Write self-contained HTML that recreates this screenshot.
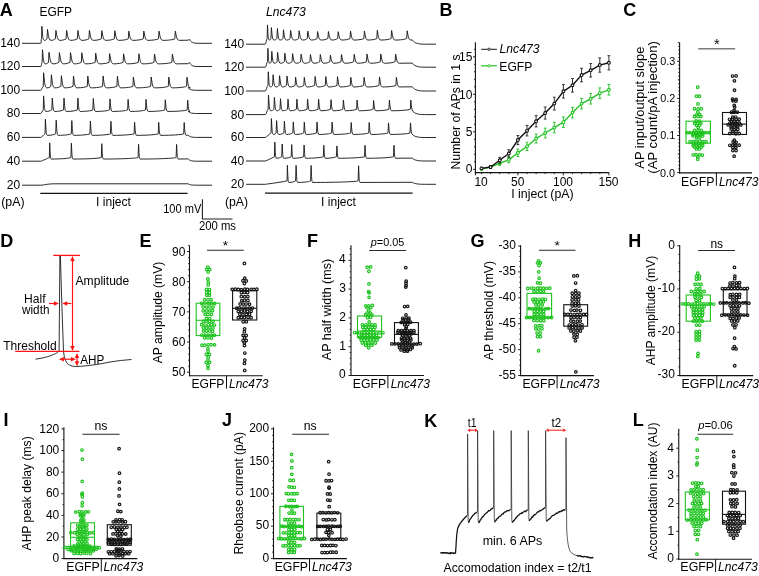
<!DOCTYPE html>
<html><head><meta charset="utf-8"><title>Figure</title><style>
html,body{margin:0;padding:0;background:#fff;width:759px;height:576px;overflow:hidden;}
svg{display:block;font-family:"Liberation Sans", sans-serif;will-change:transform;}
</style></head><body>
<svg width="759" height="576" viewBox="0 0 759 576">
<rect width="759" height="576" fill="#fff"/>
<text x="-0.30" y="15.70" font-size="18" font-weight="bold">A</text>
<text x="439.60" y="15.70" font-size="18" font-weight="bold">B</text>
<text x="623.20" y="15.80" font-size="18" font-weight="bold">C</text>
<text x="0.20" y="246.50" font-size="18" font-weight="bold">D</text>
<text x="139.40" y="246.70" font-size="18" font-weight="bold">E</text>
<text x="307.10" y="247.10" font-size="18" font-weight="bold">F</text>
<text x="470.60" y="247.10" font-size="18" font-weight="bold">G</text>
<text x="628.30" y="247.10" font-size="18" font-weight="bold">H</text>
<text x="3.60" y="426.00" font-size="18" font-weight="bold">I</text>
<text x="221.90" y="426.00" font-size="18" font-weight="bold">J</text>
<text x="424.30" y="426.60" font-size="18" font-weight="bold">K</text>
<text x="632.70" y="426.30" font-size="18" font-weight="bold">L</text>
<path d="M22.00,43.30 L40.80,43.30 C41.60,43.30 40.70,39.20 41.55,38.80 L41.90,26.30 L42.49,33.95 C42.84,38.12 43.31,40.35 44.25,40.35 C45.49,40.35 46.54,39.70 47.00,38.80 L47.50,29.40 L48.38,35.34 C48.91,38.58 49.62,40.35 51.03,40.35 C53.00,40.35 54.37,39.70 55.40,38.80 L55.90,30.40 L56.90,35.79 C57.50,38.73 58.30,40.35 59.90,40.35 C62.69,40.35 64.43,39.70 66.10,38.80 L66.60,30.40 L67.60,35.79 C68.20,38.73 69.00,40.35 70.60,40.35 C73.66,40.35 75.70,39.70 77.40,38.80 L77.90,30.40 L78.90,35.79 C79.50,38.73 80.30,40.35 81.90,40.35 C85.05,40.35 87.20,39.70 88.90,38.80 L89.40,30.40 L90.40,35.79 C91.00,38.73 91.80,40.35 93.40,40.35 C96.95,40.35 99.60,39.70 101.30,38.80 L101.80,30.70 L102.80,35.93 C103.40,38.78 104.20,40.35 105.80,40.35 C109.62,40.35 112.60,39.70 114.30,38.80 L114.80,30.70 L115.80,35.93 C116.40,38.78 117.20,40.35 118.80,40.35 C123.08,40.35 126.60,39.70 128.30,38.80 L128.80,31.10 L129.80,36.11 C130.40,38.84 131.20,40.35 132.80,40.35 C137.53,40.35 141.60,39.70 143.30,38.80 L143.80,31.10 L144.80,36.11 C145.40,38.84 146.20,40.35 147.80,40.35 C152.62,40.35 156.80,39.70 158.50,38.80 L159.00,31.10 L160.00,36.11 C160.60,38.84 161.40,40.35 163.00,40.35 C168.31,40.35 173.10,39.70 174.80,38.80 L175.30,31.10 L176.30,36.11 C176.90,38.84 177.70,40.35 179.30,40.35 L188.20,40.20 Q189.00,39.20 189.80,39.60 C190.76,41.91 192.60,43.30 197.80,43.30 L212.00,43.30" stroke="#1c1c1c" stroke-width="0.95" fill="none"/>
<text x="0.15" y="47.20" font-size="12">140</text>
<path d="M22.00,66.50 L40.80,66.50 C41.60,66.50 41.30,62.70 42.15,62.30 L42.50,49.70 L43.18,57.40 C43.59,61.60 44.14,63.85 45.23,63.85 C46.70,63.85 47.86,63.20 48.50,62.30 L49.00,52.30 L50.00,58.57 C50.60,61.99 51.40,63.85 53.00,63.85 C55.66,63.85 57.34,63.20 58.90,62.30 L59.40,52.60 L60.40,58.71 C61.00,62.04 61.80,63.85 63.40,63.85 C66.37,63.85 68.30,63.20 70.00,62.30 L70.50,52.60 L71.50,58.71 C72.10,62.04 72.90,63.85 74.50,63.85 C77.56,63.85 79.60,63.20 81.30,62.30 L81.80,52.80 L82.80,58.80 C83.40,62.06 84.20,63.85 85.80,63.85 C90.03,63.85 93.50,63.20 95.20,62.30 L95.70,53.20 L96.70,58.98 C97.30,62.12 98.10,63.85 99.70,63.85 C103.93,63.85 107.40,63.20 109.10,62.30 L109.60,53.60 L110.60,59.16 C111.20,62.19 112.00,63.85 113.60,63.85 C117.88,63.85 121.40,63.20 123.10,62.30 L123.60,53.80 L124.60,59.25 C125.20,62.22 126.00,63.85 127.60,63.85 C132.46,63.85 136.70,63.20 138.40,62.30 L138.90,53.80 L139.90,59.25 C140.50,62.22 141.30,63.85 142.90,63.85 C147.90,63.85 152.30,63.20 154.00,62.30 L154.50,54.00 L155.50,59.34 C156.10,62.25 156.90,63.85 158.50,63.85 C164.53,63.85 170.20,63.20 171.90,62.30 L172.40,54.10 L173.40,59.38 C174.00,62.26 174.80,63.85 176.40,63.85 L188.20,63.70 Q189.00,62.10 189.80,62.74 C190.76,65.24 192.60,66.50 197.80,66.50 L212.00,66.50" stroke="#1c1c1c" stroke-width="0.95" fill="none"/>
<text x="0.15" y="70.40" font-size="12">120</text>
<path d="M22.00,90.30 L40.80,90.30 C41.60,90.30 42.40,86.70 43.25,86.30 L43.60,72.70 L44.42,80.95 C44.91,85.45 45.57,87.85 46.88,87.85 C48.69,87.85 49.99,87.20 50.90,86.30 L51.40,74.70 L52.25,81.85 C52.76,85.75 53.44,87.85 54.80,87.85 C57.54,87.85 59.27,87.20 60.90,86.30 L61.40,75.70 L62.25,82.30 C62.76,85.90 63.44,87.85 64.80,87.85 C68.49,87.85 71.30,87.20 73.00,86.30 L73.50,76.00 L74.35,82.44 C74.86,85.95 75.54,87.85 76.90,87.85 C81.58,87.85 85.60,87.20 87.30,86.30 L87.80,76.00 L88.65,82.44 C89.16,85.95 89.84,87.85 91.20,87.85 C96.33,87.85 100.90,87.20 102.60,86.30 L103.10,76.00 L103.95,82.44 C104.46,85.95 105.14,87.85 106.50,87.85 C111.18,87.85 115.20,87.20 116.90,86.30 L117.40,76.30 L118.25,82.57 C118.76,85.99 119.44,87.85 120.80,87.85 C126.25,87.85 131.20,87.20 132.90,86.30 L133.40,77.00 L134.25,82.89 C134.76,86.09 135.44,87.85 136.80,87.85 C143.06,87.85 149.00,87.20 150.70,86.30 L151.20,77.00 L152.05,82.89 C152.56,86.09 153.24,87.85 154.60,87.85 C160.77,87.85 166.60,87.20 168.30,86.30 L168.80,77.00 L169.65,82.89 C170.16,86.09 170.84,87.85 172.20,87.85 C178.64,87.85 184.80,87.20 186.50,86.30 L187.00,77.20 L187.85,82.98 C188.36,86.12 189.04,87.85 190.40,87.85 L188.20,87.70 C189.16,89.13 191.00,90.30 196.20,90.30 L212.00,90.30" stroke="#1c1c1c" stroke-width="0.95" fill="none"/>
<text x="0.15" y="94.20" font-size="12">100</text>
<path d="M22.00,113.50 L40.80,113.50 C41.60,113.50 42.40,110.30 43.25,109.90 L43.60,95.90 L44.18,104.37 C44.52,108.99 44.98,111.45 45.90,111.45 C48.55,111.45 50.23,110.80 51.80,109.90 L52.30,98.10 L52.88,105.36 C53.22,109.32 53.68,111.45 54.60,111.45 C58.60,111.45 61.80,110.80 63.50,109.90 L64.00,98.10 L64.58,105.36 C64.92,109.32 65.38,111.45 66.30,111.45 C71.30,111.45 75.70,110.80 77.40,109.90 L77.90,98.10 L78.48,105.36 C78.82,109.32 79.28,111.45 80.20,111.45 C85.87,111.45 91.10,110.80 92.80,109.90 L93.30,98.50 L93.88,105.54 C94.22,109.38 94.68,111.45 95.60,111.45 C101.85,111.45 107.80,110.80 109.50,109.90 L110.00,98.90 L110.58,105.72 C110.92,109.44 111.38,111.45 112.30,111.45 C119.19,111.45 125.90,110.80 127.60,109.90 L128.10,99.40 L128.67,105.95 C129.02,109.52 129.48,111.45 130.40,111.45 C137.19,111.45 143.80,110.80 145.50,109.90 L146.00,99.40 L146.57,105.95 C146.92,109.52 147.38,111.45 148.30,111.45 C155.73,111.45 163.10,110.80 164.80,109.90 L165.30,99.80 L165.88,106.12 C166.22,109.58 166.68,111.45 167.60,111.45 C176.42,111.45 185.50,110.80 187.20,109.90 L187.70,100.20 L188.27,106.31 C188.62,109.63 189.08,111.45 190.00,111.45 L188.20,111.30 C189.16,112.51 191.00,113.50 196.20,113.50 L212.00,113.50" stroke="#1c1c1c" stroke-width="0.95" fill="none"/>
<text x="6.82" y="117.40" font-size="12">80</text>
<path d="M22.00,137.40 L40.80,137.40 C41.60,137.40 44.20,134.20 45.05,133.80 L45.40,119.30 L45.90,128.04 C46.20,132.81 46.60,135.35 47.40,135.35 C51.13,135.35 54.00,134.70 55.70,133.80 L56.20,120.20 L56.70,128.45 C57.00,132.95 57.40,135.35 58.20,135.35 C64.09,135.35 69.60,134.70 71.30,133.80 L71.80,120.60 L72.30,128.63 C72.60,133.01 73.00,135.35 73.80,135.35 C81.05,135.35 88.20,134.70 89.90,133.80 L90.40,121.00 L90.90,128.81 C91.20,133.07 91.60,135.35 92.40,135.35 C100.50,135.35 108.70,134.70 110.40,133.80 L110.90,121.30 L111.40,128.94 C111.70,133.11 112.10,135.35 112.90,135.35 C122.44,135.35 132.40,134.70 134.10,133.80 L134.60,122.30 L135.10,129.39 C135.40,133.26 135.80,135.35 136.60,135.35 C146.32,135.35 156.50,134.70 158.20,133.80 L158.70,122.30 L159.20,129.39 C159.50,133.26 159.90,135.35 160.70,135.35 C171.05,135.35 182.00,134.70 183.70,133.80 L184.20,122.50 L184.70,129.48 C185.00,133.29 185.40,135.35 186.20,135.35 L188.20,135.20 C189.16,136.41 191.00,137.40 196.20,137.40 L212.00,137.40" stroke="#1c1c1c" stroke-width="0.95" fill="none"/>
<text x="6.82" y="141.30" font-size="12">60</text>
<path d="M22.00,161.20 L40.80,161.20 C41.60,161.20 48.50,157.90 49.35,157.50 L49.70,142.80 L50.10,151.66 C50.34,156.49 50.66,159.05 51.30,159.05 C60.12,159.05 69.20,158.40 70.90,157.50 L71.40,143.10 L71.80,151.79 C72.04,156.53 72.36,159.05 73.00,159.05 C85.73,159.05 99.60,158.40 101.30,157.50 L101.80,143.70 L102.20,152.06 C102.44,156.62 102.76,159.05 103.40,159.05 C119.01,159.05 136.40,158.40 138.10,157.50 L138.60,144.40 L139.00,152.38 C139.24,156.72 139.56,159.05 140.20,159.05 C156.35,159.05 174.40,158.40 176.10,157.50 L176.60,144.40 L177.00,152.38 C177.24,156.72 177.56,159.05 178.20,159.05 L188.20,158.90 C189.16,160.16 191.00,161.20 196.20,161.20 L212.00,161.20" stroke="#1c1c1c" stroke-width="0.95" fill="none"/>
<text x="6.82" y="165.10" font-size="12">40</text>
<path d="M22.00,185.20 L40.80,185.20 C43.80,185.20 46.80,183.80 54.80,183.80 L188.20,183.80 C189.16,184.57 191.00,185.20 196.20,185.20 L212.00,185.20" stroke="#1c1c1c" stroke-width="0.95" fill="none"/>
<text x="6.82" y="189.10" font-size="12">20</text>
<path d="M246.00,44.20 L265.30,44.20 C266.10,44.20 266.30,38.90 267.15,38.50 L267.50,24.90 L267.91,33.15 C268.16,37.65 268.48,40.05 269.14,40.05 C269.93,40.05 270.78,39.40 270.90,38.50 L271.40,27.60 L272.03,34.37 C272.41,38.05 272.91,40.05 273.92,40.05 C275.26,40.05 276.36,39.40 276.90,38.50 L277.40,28.50 L278.04,34.77 C278.42,38.19 278.94,40.05 279.96,40.05 C281.33,40.05 282.44,39.40 283.00,38.50 L283.50,29.80 L284.25,35.36 C284.69,38.38 285.29,40.05 286.48,40.05 C288.11,40.05 289.33,39.40 290.10,38.50 L290.60,30.40 L291.49,35.62 C292.03,38.47 292.74,40.05 294.17,40.05 C296.16,40.05 297.55,39.40 298.60,38.50 L299.10,30.70 L300.00,35.76 C300.54,38.52 301.26,40.05 302.70,40.05 C304.77,40.05 306.19,39.40 307.30,38.50 L307.80,31.10 L308.70,35.94 C309.24,38.58 309.96,40.05 311.40,40.05 C313.97,40.05 315.61,39.40 317.10,38.50 L317.60,31.50 L318.50,36.12 C319.04,38.64 319.76,40.05 321.20,40.05 C324.22,40.05 326.20,39.40 327.90,38.50 L328.40,31.50 L329.30,36.12 C329.84,38.64 330.56,40.05 332.00,40.05 C334.56,40.05 336.20,39.40 337.70,38.50 L338.20,31.70 L339.10,36.21 C339.64,38.67 340.36,40.05 341.80,40.05 C345.49,40.05 348.30,39.40 350.00,38.50 L350.50,31.00 L351.40,35.89 C351.94,38.56 352.66,40.05 354.10,40.05 C358.51,40.05 362.20,39.40 363.90,38.50 L364.40,31.00 L365.30,35.89 C365.84,38.56 366.56,40.05 368.00,40.05 C371.96,40.05 375.10,39.40 376.80,38.50 L377.30,30.30 L378.20,35.58 C378.74,38.46 379.46,40.05 380.90,40.05 C385.49,40.05 389.40,39.40 391.10,38.50 L391.60,30.50 L392.50,35.67 C393.04,38.49 393.76,40.05 395.20,40.05 C400.38,40.05 405.00,39.40 406.70,38.50 L407.20,30.80 L408.10,35.80 C408.64,38.53 409.36,40.05 410.80,40.05 L412.30,39.90 C413.74,42.27 416.50,44.20 424.30,44.20 L436.00,44.20" stroke="#1c1c1c" stroke-width="0.95" fill="none"/>
<text x="224.15" y="48.10" font-size="12">140</text>
<path d="M246.00,67.20 L265.30,67.20 C266.10,67.20 266.70,62.10 267.55,61.70 L267.90,48.40 L268.31,56.48 C268.56,60.90 268.88,63.25 269.54,63.25 C270.33,63.25 271.18,62.60 271.30,61.70 L271.80,51.30 L272.41,57.79 C272.77,61.33 273.26,63.25 274.24,63.25 C275.52,63.25 276.60,62.60 277.10,61.70 L277.60,52.30 L278.36,58.24 C278.81,61.48 279.41,63.25 280.62,63.25 C282.28,63.25 283.51,62.60 284.30,61.70 L284.80,53.20 L285.62,58.65 C286.11,61.62 286.77,63.25 288.08,63.25 C289.89,63.25 291.19,62.60 292.10,61.70 L292.60,53.60 L293.49,58.83 C294.03,61.67 294.74,63.25 296.17,63.25 C298.16,63.25 299.55,62.60 300.60,61.70 L301.10,54.10 L302.00,59.05 C302.54,61.75 303.26,63.25 304.70,63.25 C307.04,63.25 308.58,62.60 309.90,61.70 L310.40,54.50 L311.30,59.23 C311.84,61.81 312.56,63.25 314.00,63.25 C316.61,63.25 318.27,62.60 319.80,61.70 L320.30,54.50 L321.20,59.23 C321.74,61.81 322.46,63.25 323.90,63.25 C326.60,63.25 328.30,62.60 329.90,61.70 L330.40,55.20 L331.30,59.55 C331.84,61.91 332.56,63.25 334.00,63.25 C337.15,63.25 339.30,62.60 341.00,61.70 L341.50,54.50 L342.40,59.23 C342.94,61.81 343.66,63.25 345.10,63.25 C348.97,63.25 352.00,62.60 353.70,61.70 L354.20,54.30 L355.10,59.14 C355.64,61.78 356.36,63.25 357.80,63.25 C361.72,63.25 364.80,62.60 366.50,61.70 L367.00,54.00 L367.90,59.01 C368.44,61.73 369.16,63.25 370.60,63.25 C374.97,63.25 378.60,62.60 380.30,61.70 L380.80,54.00 L381.70,59.01 C382.24,61.73 382.96,63.25 384.40,63.25 C389.22,63.25 393.40,62.60 395.10,61.70 L395.60,54.00 L396.50,59.01 C397.04,61.73 397.76,63.25 399.20,63.25 L412.30,63.10 C413.74,65.36 416.50,67.20 424.30,67.20 L436.00,67.20" stroke="#1c1c1c" stroke-width="0.95" fill="none"/>
<text x="224.15" y="71.10" font-size="12">120</text>
<path d="M246.00,91.00 L265.30,91.00 C266.10,91.00 267.10,85.80 267.95,85.40 L268.30,71.80 L268.80,80.05 C269.11,84.55 269.51,86.95 270.32,86.95 C271.34,86.95 272.30,86.30 272.60,85.40 L273.10,74.70 L273.78,81.36 C274.19,84.98 274.74,86.95 275.83,86.95 C277.30,86.95 278.46,86.30 279.10,85.40 L279.60,75.70 L280.35,81.81 C280.80,85.13 281.40,86.95 282.60,86.95 C284.36,86.95 285.63,86.30 286.50,85.40 L287.00,76.00 L287.75,81.94 C288.20,85.18 288.80,86.95 290.00,86.95 C292.30,86.95 293.81,86.30 295.10,85.40 L295.60,77.30 L296.35,82.52 C296.80,85.38 297.40,86.95 298.60,86.95 C300.94,86.95 302.48,86.30 303.80,85.40 L304.30,77.30 L305.05,82.52 C305.50,85.38 306.10,86.95 307.30,86.95 C310.59,86.95 312.90,86.30 314.60,85.40 L315.10,76.50 L315.85,82.16 C316.30,85.25 316.90,86.95 318.10,86.95 C321.34,86.95 323.60,86.30 325.30,85.40 L325.80,76.60 L326.55,82.21 C327.00,85.27 327.60,86.95 328.80,86.95 C332.49,86.95 335.30,86.30 337.00,85.40 L337.50,76.60 L338.25,82.21 C338.70,85.27 339.30,86.95 340.50,86.95 C344.91,86.95 348.60,86.30 350.30,85.40 L350.80,77.30 L351.55,82.52 C352.00,85.38 352.60,86.95 353.80,86.95 C358.21,86.95 361.90,86.30 363.60,85.40 L364.10,77.30 L364.85,82.52 C365.30,85.38 365.90,86.95 367.10,86.95 C372.46,86.95 377.30,86.30 379.00,85.40 L379.50,76.90 L380.25,82.34 C380.70,85.31 381.30,86.95 382.50,86.95 C388.53,86.95 394.20,86.30 395.90,85.40 L396.40,77.30 L397.15,82.52 C397.60,85.38 398.20,86.95 399.40,86.95 L412.30,86.80 C413.74,89.11 416.50,91.00 424.30,91.00 L436.00,91.00" stroke="#1c1c1c" stroke-width="0.95" fill="none"/>
<text x="224.15" y="94.90" font-size="12">100</text>
<path d="M246.00,114.60 L265.30,114.60 C266.10,114.60 267.30,109.60 268.15,109.20 L268.50,95.20 L269.07,103.67 C269.42,108.29 269.88,110.75 270.80,110.75 C272.19,110.75 273.31,110.10 273.90,109.20 L274.40,97.40 L274.97,104.66 C275.32,108.62 275.78,110.75 276.70,110.75 C278.19,110.75 279.34,110.10 280.00,109.20 L280.50,98.70 L281.07,105.25 C281.42,108.81 281.88,110.75 282.80,110.75 C284.92,110.75 286.36,110.10 287.50,109.20 L288.00,99.10 L288.57,105.42 C288.92,108.88 289.38,110.75 290.30,110.75 C293.05,110.75 294.76,110.10 296.40,109.20 L296.90,99.10 L297.47,105.42 C297.82,108.88 298.28,110.75 299.20,110.75 C302.75,110.75 305.40,110.10 307.10,109.20 L307.60,99.10 L308.18,105.42 C308.52,108.88 308.98,110.75 309.90,110.75 C313.59,110.75 316.40,110.10 318.10,109.20 L318.60,99.10 L319.18,105.42 C319.52,108.88 319.98,110.75 320.90,110.75 C325.22,110.75 328.80,110.10 330.50,109.20 L331.00,99.70 L331.57,105.69 C331.92,108.96 332.38,110.75 333.30,110.75 C337.62,110.75 341.20,110.10 342.90,109.20 L343.40,100.00 L343.97,105.83 C344.32,109.01 344.78,110.75 345.70,110.75 C350.61,110.75 354.90,110.10 356.60,109.20 L357.10,100.10 L357.68,105.88 C358.02,109.02 358.48,110.75 359.40,110.75 C365.57,110.75 371.40,110.10 373.10,109.20 L373.60,100.50 L374.18,106.05 C374.52,109.08 374.98,110.75 375.90,110.75 C381.75,110.75 387.20,110.10 388.90,109.20 L389.40,100.10 L389.97,105.88 C390.32,109.02 390.78,110.75 391.70,110.75 C400.07,110.75 408.60,110.10 410.30,109.20 L410.80,100.10 L411.38,105.88 C411.72,109.02 412.18,110.75 413.10,110.75 L412.30,110.60 C413.74,112.80 416.50,114.60 424.30,114.60 L436.00,114.60" stroke="#1c1c1c" stroke-width="0.95" fill="none"/>
<text x="230.82" y="118.50" font-size="12">80</text>
<path d="M246.00,137.50 L265.30,137.50 C266.10,137.50 270.20,133.30 271.05,132.90 L271.40,118.60 L271.90,127.23 C272.20,131.95 272.60,134.45 273.40,134.45 C274.62,134.45 275.66,133.80 276.10,132.90 L276.60,120.60 L277.10,128.13 C277.40,132.25 277.80,134.45 278.60,134.45 C280.99,134.45 282.55,133.80 283.90,132.90 L284.40,121.20 L284.90,128.41 C285.20,132.34 285.60,134.45 286.40,134.45 C289.28,134.45 291.10,133.80 292.80,132.90 L293.30,121.90 L293.80,128.72 C294.10,132.44 294.50,134.45 295.30,134.45 C299.12,134.45 302.10,133.80 303.80,132.90 L304.30,122.10 L304.80,128.81 C305.10,132.47 305.50,134.45 306.30,134.45 C310.89,134.45 314.80,133.80 316.50,132.90 L317.00,122.10 L317.50,128.81 C317.80,132.47 318.20,134.45 319.00,134.45 C324.67,134.45 329.90,133.80 331.60,132.90 L332.10,122.10 L332.60,128.81 C332.90,132.47 333.30,134.45 334.10,134.45 C341.57,134.45 349.00,133.80 350.70,132.90 L351.20,122.50 L351.70,128.99 C352.00,132.53 352.40,134.45 353.20,134.45 C360.18,134.45 367.00,133.80 368.70,132.90 L369.20,122.50 L369.70,128.99 C370.00,132.53 370.40,134.45 371.20,134.45 C378.76,134.45 386.30,133.80 388.00,132.90 L388.50,122.90 L389.00,129.17 C389.30,132.59 389.70,134.45 390.50,134.45 C399.27,134.45 408.30,133.80 410.00,132.90 L410.50,122.90 L411.00,129.17 C411.30,132.59 411.70,134.45 412.50,134.45 L412.30,134.30 C413.74,136.06 416.50,137.50 424.30,137.50 L436.00,137.50" stroke="#1c1c1c" stroke-width="0.95" fill="none"/>
<text x="230.82" y="141.40" font-size="12">60</text>
<path d="M246.00,161.00 L265.30,161.00 C266.10,161.00 273.60,157.10 274.45,156.70 L274.80,142.00 L275.20,150.85 C275.44,155.69 275.76,158.25 276.40,158.25 C278.79,158.25 280.35,157.60 281.70,156.70 L282.20,144.00 L282.60,151.75 C282.84,155.98 283.16,158.25 283.80,158.25 C287.13,158.25 289.50,157.60 291.20,156.70 L291.70,144.60 L292.10,152.03 C292.34,156.07 292.66,158.25 293.30,158.25 C297.94,158.25 301.90,157.60 303.60,156.70 L304.10,145.00 L304.50,152.20 C304.74,156.13 305.06,158.25 305.70,158.25 C313.62,158.25 321.60,157.60 323.30,156.70 L323.80,145.30 L324.20,152.34 C324.44,156.18 324.76,158.25 325.40,158.25 C330.35,158.25 334.70,157.60 336.40,156.70 L336.90,145.90 L337.30,152.61 C337.54,156.27 337.86,158.25 338.50,158.25 C350.20,158.25 362.80,157.60 364.50,156.70 L365.00,145.30 L365.40,152.34 C365.64,156.18 365.96,158.25 366.60,158.25 C378.71,158.25 391.80,157.60 393.50,156.70 L394.00,145.30 L394.40,152.34 C394.64,156.18 394.96,158.25 395.60,158.25 L412.30,158.10 C413.74,159.69 416.50,161.00 424.30,161.00 L436.00,161.00" stroke="#1c1c1c" stroke-width="0.95" fill="none"/>
<text x="230.82" y="164.90" font-size="12">40</text>
<path d="M246.00,184.30 L265.30,184.30 C266.10,184.30 286.20,181.30 287.05,180.90 L287.40,165.30 L287.77,174.65 C288.00,179.75 288.30,182.45 288.90,182.45 C291.92,182.45 293.90,181.80 295.60,180.90 L296.10,165.30 L296.48,174.65 C296.70,179.75 297.00,182.45 297.60,182.45 C303.45,182.45 308.90,181.80 310.60,180.90 L311.10,165.50 L311.48,174.74 C311.70,179.78 312.00,182.45 312.60,182.45 C333.08,182.45 356.40,181.80 358.10,180.90 L358.60,165.80 L358.98,174.88 C359.20,179.83 359.50,182.45 360.10,182.45 L412.30,182.30 C413.74,183.40 416.50,184.30 424.30,184.30 L436.00,184.30" stroke="#1c1c1c" stroke-width="0.95" fill="none"/>
<text x="230.82" y="188.20" font-size="12">20</text>
<text x="39.53" y="15.60" font-size="12" textLength="32.59" lengthAdjust="spacingAndGlyphs">EGFP</text>
<text x="266.02" y="15.80" font-size="12" font-style="italic" textLength="39.77" lengthAdjust="spacingAndGlyphs">Lnc473</text>
<text x="1.23" y="206.40" font-size="12" textLength="23.34" lengthAdjust="spacingAndGlyphs">(pA)</text>
<text x="224.93" y="206.40" font-size="12" textLength="23.12" lengthAdjust="spacingAndGlyphs">(pA)</text>
<line x1="40.30" y1="193.30" x2="187.50" y2="193.30" stroke="#111" stroke-width="1.3"/>
<line x1="265.00" y1="193.10" x2="412.60" y2="193.10" stroke="#111" stroke-width="1.3"/>
<text x="96.09" y="206.20" font-size="12" textLength="34.89" lengthAdjust="spacingAndGlyphs">I inject</text>
<text x="321.09" y="206.20" font-size="12" textLength="34.89" lengthAdjust="spacingAndGlyphs">I inject</text>
<path d="M202.4,199.2 L202.4,219.0 L232.5,219.0" stroke="#222" stroke-width="1.1" fill="none"/>
<text x="163.15" y="212.80" font-size="12" textLength="38.21" lengthAdjust="spacingAndGlyphs">100 mV</text>
<text x="198.93" y="229.80" font-size="12" textLength="37.07" lengthAdjust="spacingAndGlyphs">200 ms</text>
<line x1="475.40" y1="42.30" x2="475.40" y2="175.20" stroke="#111" stroke-width="1.1"/>
<line x1="474.90" y1="172.60" x2="609.10" y2="172.60" stroke="#111" stroke-width="1.1"/>
<line x1="473.00" y1="169.30" x2="475.40" y2="169.30" stroke="#111" stroke-width="0.9"/>
<line x1="474.00" y1="161.80" x2="475.40" y2="161.80" stroke="#111" stroke-width="0.9"/>
<line x1="474.00" y1="154.30" x2="475.40" y2="154.30" stroke="#111" stroke-width="0.9"/>
<line x1="474.00" y1="146.80" x2="475.40" y2="146.80" stroke="#111" stroke-width="0.9"/>
<line x1="474.00" y1="139.30" x2="475.40" y2="139.30" stroke="#111" stroke-width="0.9"/>
<line x1="473.00" y1="131.80" x2="475.40" y2="131.80" stroke="#111" stroke-width="0.9"/>
<line x1="474.00" y1="124.30" x2="475.40" y2="124.30" stroke="#111" stroke-width="0.9"/>
<line x1="474.00" y1="116.80" x2="475.40" y2="116.80" stroke="#111" stroke-width="0.9"/>
<line x1="474.00" y1="109.30" x2="475.40" y2="109.30" stroke="#111" stroke-width="0.9"/>
<line x1="474.00" y1="101.80" x2="475.40" y2="101.80" stroke="#111" stroke-width="0.9"/>
<line x1="473.00" y1="94.30" x2="475.40" y2="94.30" stroke="#111" stroke-width="0.9"/>
<line x1="474.00" y1="86.80" x2="475.40" y2="86.80" stroke="#111" stroke-width="0.9"/>
<line x1="474.00" y1="79.30" x2="475.40" y2="79.30" stroke="#111" stroke-width="0.9"/>
<line x1="474.00" y1="71.80" x2="475.40" y2="71.80" stroke="#111" stroke-width="0.9"/>
<line x1="474.00" y1="64.30" x2="475.40" y2="64.30" stroke="#111" stroke-width="0.9"/>
<line x1="473.00" y1="56.80" x2="475.40" y2="56.80" stroke="#111" stroke-width="0.9"/>
<line x1="474.00" y1="49.30" x2="475.40" y2="49.30" stroke="#111" stroke-width="0.9"/>
<line x1="481.50" y1="172.60" x2="481.50" y2="174.10" stroke="#111" stroke-width="0.9"/>
<line x1="490.60" y1="172.60" x2="490.60" y2="174.10" stroke="#111" stroke-width="0.9"/>
<line x1="499.70" y1="172.60" x2="499.70" y2="174.10" stroke="#111" stroke-width="0.9"/>
<line x1="508.80" y1="172.60" x2="508.80" y2="174.10" stroke="#111" stroke-width="0.9"/>
<line x1="517.90" y1="172.60" x2="517.90" y2="175.40" stroke="#111" stroke-width="0.9"/>
<line x1="527.00" y1="172.60" x2="527.00" y2="174.10" stroke="#111" stroke-width="0.9"/>
<line x1="536.10" y1="172.60" x2="536.10" y2="174.10" stroke="#111" stroke-width="0.9"/>
<line x1="545.20" y1="172.60" x2="545.20" y2="174.10" stroke="#111" stroke-width="0.9"/>
<line x1="554.30" y1="172.60" x2="554.30" y2="174.10" stroke="#111" stroke-width="0.9"/>
<line x1="563.40" y1="172.60" x2="563.40" y2="175.40" stroke="#111" stroke-width="0.9"/>
<line x1="572.50" y1="172.60" x2="572.50" y2="174.10" stroke="#111" stroke-width="0.9"/>
<line x1="581.60" y1="172.60" x2="581.60" y2="174.10" stroke="#111" stroke-width="0.9"/>
<line x1="590.70" y1="172.60" x2="590.70" y2="174.10" stroke="#111" stroke-width="0.9"/>
<line x1="599.80" y1="172.60" x2="599.80" y2="174.10" stroke="#111" stroke-width="0.9"/>
<line x1="608.90" y1="172.60" x2="608.90" y2="175.40" stroke="#111" stroke-width="0.9"/>
<text x="465.70" y="172.60" font-size="12">0</text>
<text x="465.72" y="136.00" font-size="12">5</text>
<text x="459.02" y="98.50" font-size="12">10</text>
<text x="459.05" y="60.80" font-size="12">15</text>
<text x="474.40" y="186.10" font-size="12">10</text>
<text x="511.02" y="186.10" font-size="12">50</text>
<text x="552.96" y="186.10" font-size="12">100</text>
<text x="598.46" y="186.10" font-size="12">150</text>
<text x="511.27" y="197.80" font-size="12" textLength="62.39" lengthAdjust="spacingAndGlyphs">I inject (pA)</text>
<text x="460.00" y="169.49" font-size="12" transform="rotate(-90 460.00 169.49)" textLength="115.02" lengthAdjust="spacingAndGlyphs">Number of APs in 1 s</text>
<line x1="481.50" y1="168.18" x2="481.50" y2="169.68" stroke="#2ec42e" stroke-width="1.0"/>
<line x1="480.10" y1="168.18" x2="482.90" y2="168.18" stroke="#2ec42e" stroke-width="1.0"/>
<line x1="480.10" y1="169.68" x2="482.90" y2="169.68" stroke="#2ec42e" stroke-width="1.0"/>
<line x1="490.60" y1="165.93" x2="490.60" y2="168.18" stroke="#2ec42e" stroke-width="1.0"/>
<line x1="489.20" y1="165.93" x2="492.00" y2="165.93" stroke="#2ec42e" stroke-width="1.0"/>
<line x1="489.20" y1="168.18" x2="492.00" y2="168.18" stroke="#2ec42e" stroke-width="1.0"/>
<line x1="499.70" y1="161.05" x2="499.70" y2="165.55" stroke="#2ec42e" stroke-width="1.0"/>
<line x1="498.30" y1="161.05" x2="501.10" y2="161.05" stroke="#2ec42e" stroke-width="1.0"/>
<line x1="498.30" y1="165.55" x2="501.10" y2="165.55" stroke="#2ec42e" stroke-width="1.0"/>
<line x1="508.80" y1="156.78" x2="508.80" y2="162.78" stroke="#2ec42e" stroke-width="1.0"/>
<line x1="507.40" y1="156.78" x2="510.20" y2="156.78" stroke="#2ec42e" stroke-width="1.0"/>
<line x1="507.40" y1="162.78" x2="510.20" y2="162.78" stroke="#2ec42e" stroke-width="1.0"/>
<line x1="517.90" y1="149.05" x2="517.90" y2="156.55" stroke="#2ec42e" stroke-width="1.0"/>
<line x1="516.50" y1="149.05" x2="519.30" y2="149.05" stroke="#2ec42e" stroke-width="1.0"/>
<line x1="516.50" y1="156.55" x2="519.30" y2="156.55" stroke="#2ec42e" stroke-width="1.0"/>
<line x1="527.00" y1="142.30" x2="527.00" y2="150.55" stroke="#2ec42e" stroke-width="1.0"/>
<line x1="525.60" y1="142.30" x2="528.40" y2="142.30" stroke="#2ec42e" stroke-width="1.0"/>
<line x1="525.60" y1="150.55" x2="528.40" y2="150.55" stroke="#2ec42e" stroke-width="1.0"/>
<line x1="536.10" y1="134.05" x2="536.10" y2="143.05" stroke="#2ec42e" stroke-width="1.0"/>
<line x1="534.70" y1="134.05" x2="537.50" y2="134.05" stroke="#2ec42e" stroke-width="1.0"/>
<line x1="534.70" y1="143.05" x2="537.50" y2="143.05" stroke="#2ec42e" stroke-width="1.0"/>
<line x1="545.20" y1="128.12" x2="545.20" y2="137.88" stroke="#2ec42e" stroke-width="1.0"/>
<line x1="543.80" y1="128.12" x2="546.60" y2="128.12" stroke="#2ec42e" stroke-width="1.0"/>
<line x1="543.80" y1="137.88" x2="546.60" y2="137.88" stroke="#2ec42e" stroke-width="1.0"/>
<line x1="554.30" y1="122.28" x2="554.30" y2="132.78" stroke="#2ec42e" stroke-width="1.0"/>
<line x1="552.90" y1="122.28" x2="555.70" y2="122.28" stroke="#2ec42e" stroke-width="1.0"/>
<line x1="552.90" y1="132.78" x2="555.70" y2="132.78" stroke="#2ec42e" stroke-width="1.0"/>
<line x1="563.40" y1="116.95" x2="563.40" y2="127.45" stroke="#2ec42e" stroke-width="1.0"/>
<line x1="562.00" y1="116.95" x2="564.80" y2="116.95" stroke="#2ec42e" stroke-width="1.0"/>
<line x1="562.00" y1="127.45" x2="564.80" y2="127.45" stroke="#2ec42e" stroke-width="1.0"/>
<line x1="572.50" y1="107.35" x2="572.50" y2="117.85" stroke="#2ec42e" stroke-width="1.0"/>
<line x1="571.10" y1="107.35" x2="573.90" y2="107.35" stroke="#2ec42e" stroke-width="1.0"/>
<line x1="571.10" y1="117.85" x2="573.90" y2="117.85" stroke="#2ec42e" stroke-width="1.0"/>
<line x1="581.60" y1="98.35" x2="581.60" y2="108.85" stroke="#2ec42e" stroke-width="1.0"/>
<line x1="580.20" y1="98.35" x2="583.00" y2="98.35" stroke="#2ec42e" stroke-width="1.0"/>
<line x1="580.20" y1="108.85" x2="583.00" y2="108.85" stroke="#2ec42e" stroke-width="1.0"/>
<line x1="590.70" y1="93.55" x2="590.70" y2="104.05" stroke="#2ec42e" stroke-width="1.0"/>
<line x1="589.30" y1="93.55" x2="592.10" y2="93.55" stroke="#2ec42e" stroke-width="1.0"/>
<line x1="589.30" y1="104.05" x2="592.10" y2="104.05" stroke="#2ec42e" stroke-width="1.0"/>
<line x1="599.80" y1="87.93" x2="599.80" y2="98.43" stroke="#2ec42e" stroke-width="1.0"/>
<line x1="598.40" y1="87.93" x2="601.20" y2="87.93" stroke="#2ec42e" stroke-width="1.0"/>
<line x1="598.40" y1="98.43" x2="601.20" y2="98.43" stroke="#2ec42e" stroke-width="1.0"/>
<line x1="608.90" y1="84.55" x2="608.90" y2="95.05" stroke="#2ec42e" stroke-width="1.0"/>
<line x1="607.50" y1="84.55" x2="610.30" y2="84.55" stroke="#2ec42e" stroke-width="1.0"/>
<line x1="607.50" y1="95.05" x2="610.30" y2="95.05" stroke="#2ec42e" stroke-width="1.0"/>
<path d="M481.50,168.93 L490.60,167.05 L499.70,163.30 L508.80,159.78 L517.90,152.80 L527.00,146.43 L536.10,138.55 L545.20,133.00 L554.30,127.53 L563.40,122.20 L572.50,112.60 L581.60,103.60 L590.70,98.80 L599.80,93.18 L608.90,89.80" stroke="#25c225" stroke-width="1.4" fill="none"/>
<circle cx="481.50" cy="168.93" r="1.4" stroke="#25c225" stroke-width="1.1" fill="#fff"/>
<circle cx="490.60" cy="167.05" r="1.4" stroke="#25c225" stroke-width="1.1" fill="#fff"/>
<circle cx="499.70" cy="163.30" r="1.4" stroke="#25c225" stroke-width="1.1" fill="#fff"/>
<circle cx="508.80" cy="159.78" r="1.4" stroke="#25c225" stroke-width="1.1" fill="#fff"/>
<circle cx="517.90" cy="152.80" r="1.4" stroke="#25c225" stroke-width="1.1" fill="#fff"/>
<circle cx="527.00" cy="146.43" r="1.4" stroke="#25c225" stroke-width="1.1" fill="#fff"/>
<circle cx="536.10" cy="138.55" r="1.4" stroke="#25c225" stroke-width="1.1" fill="#fff"/>
<circle cx="545.20" cy="133.00" r="1.4" stroke="#25c225" stroke-width="1.1" fill="#fff"/>
<circle cx="554.30" cy="127.53" r="1.4" stroke="#25c225" stroke-width="1.1" fill="#fff"/>
<circle cx="563.40" cy="122.20" r="1.4" stroke="#25c225" stroke-width="1.1" fill="#fff"/>
<circle cx="572.50" cy="112.60" r="1.4" stroke="#25c225" stroke-width="1.1" fill="#fff"/>
<circle cx="581.60" cy="103.60" r="1.4" stroke="#25c225" stroke-width="1.1" fill="#fff"/>
<circle cx="590.70" cy="98.80" r="1.4" stroke="#25c225" stroke-width="1.1" fill="#fff"/>
<circle cx="599.80" cy="93.18" r="1.4" stroke="#25c225" stroke-width="1.1" fill="#fff"/>
<circle cx="608.90" cy="89.80" r="1.4" stroke="#25c225" stroke-width="1.1" fill="#fff"/>
<line x1="481.50" y1="167.20" x2="481.50" y2="169.45" stroke="#333" stroke-width="1.0"/>
<line x1="480.10" y1="167.20" x2="482.90" y2="167.20" stroke="#333" stroke-width="1.0"/>
<line x1="480.10" y1="169.45" x2="482.90" y2="169.45" stroke="#333" stroke-width="1.0"/>
<line x1="490.60" y1="165.55" x2="490.60" y2="168.55" stroke="#333" stroke-width="1.0"/>
<line x1="489.20" y1="165.55" x2="492.00" y2="165.55" stroke="#333" stroke-width="1.0"/>
<line x1="489.20" y1="168.55" x2="492.00" y2="168.55" stroke="#333" stroke-width="1.0"/>
<line x1="499.70" y1="157.30" x2="499.70" y2="163.30" stroke="#333" stroke-width="1.0"/>
<line x1="498.30" y1="157.30" x2="501.10" y2="157.30" stroke="#333" stroke-width="1.0"/>
<line x1="498.30" y1="163.30" x2="501.10" y2="163.30" stroke="#333" stroke-width="1.0"/>
<line x1="508.80" y1="149.80" x2="508.80" y2="157.30" stroke="#333" stroke-width="1.0"/>
<line x1="507.40" y1="149.80" x2="510.20" y2="149.80" stroke="#333" stroke-width="1.0"/>
<line x1="507.40" y1="157.30" x2="510.20" y2="157.30" stroke="#333" stroke-width="1.0"/>
<line x1="517.90" y1="135.55" x2="517.90" y2="144.55" stroke="#333" stroke-width="1.0"/>
<line x1="516.50" y1="135.55" x2="519.30" y2="135.55" stroke="#333" stroke-width="1.0"/>
<line x1="516.50" y1="144.55" x2="519.30" y2="144.55" stroke="#333" stroke-width="1.0"/>
<line x1="527.00" y1="125.43" x2="527.00" y2="135.93" stroke="#333" stroke-width="1.0"/>
<line x1="525.60" y1="125.43" x2="528.40" y2="125.43" stroke="#333" stroke-width="1.0"/>
<line x1="525.60" y1="135.93" x2="528.40" y2="135.93" stroke="#333" stroke-width="1.0"/>
<line x1="536.10" y1="115.68" x2="536.10" y2="126.93" stroke="#333" stroke-width="1.0"/>
<line x1="534.70" y1="115.68" x2="537.50" y2="115.68" stroke="#333" stroke-width="1.0"/>
<line x1="534.70" y1="126.93" x2="537.50" y2="126.93" stroke="#333" stroke-width="1.0"/>
<line x1="545.20" y1="107.05" x2="545.20" y2="119.05" stroke="#333" stroke-width="1.0"/>
<line x1="543.80" y1="107.05" x2="546.60" y2="107.05" stroke="#333" stroke-width="1.0"/>
<line x1="543.80" y1="119.05" x2="546.60" y2="119.05" stroke="#333" stroke-width="1.0"/>
<line x1="554.30" y1="97.23" x2="554.30" y2="109.98" stroke="#333" stroke-width="1.0"/>
<line x1="552.90" y1="97.23" x2="555.70" y2="97.23" stroke="#333" stroke-width="1.0"/>
<line x1="552.90" y1="109.98" x2="555.70" y2="109.98" stroke="#333" stroke-width="1.0"/>
<line x1="563.40" y1="84.55" x2="563.40" y2="98.05" stroke="#333" stroke-width="1.0"/>
<line x1="562.00" y1="84.55" x2="564.80" y2="84.55" stroke="#333" stroke-width="1.0"/>
<line x1="562.00" y1="98.05" x2="564.80" y2="98.05" stroke="#333" stroke-width="1.0"/>
<line x1="572.50" y1="78.55" x2="572.50" y2="92.05" stroke="#333" stroke-width="1.0"/>
<line x1="571.10" y1="78.55" x2="573.90" y2="78.55" stroke="#333" stroke-width="1.0"/>
<line x1="571.10" y1="92.05" x2="573.90" y2="92.05" stroke="#333" stroke-width="1.0"/>
<line x1="581.60" y1="68.28" x2="581.60" y2="81.78" stroke="#333" stroke-width="1.0"/>
<line x1="580.20" y1="68.28" x2="583.00" y2="68.28" stroke="#333" stroke-width="1.0"/>
<line x1="580.20" y1="81.78" x2="583.00" y2="81.78" stroke="#333" stroke-width="1.0"/>
<line x1="590.70" y1="63.55" x2="590.70" y2="77.05" stroke="#333" stroke-width="1.0"/>
<line x1="589.30" y1="63.55" x2="592.10" y2="63.55" stroke="#333" stroke-width="1.0"/>
<line x1="589.30" y1="77.05" x2="592.10" y2="77.05" stroke="#333" stroke-width="1.0"/>
<line x1="599.80" y1="57.93" x2="599.80" y2="72.18" stroke="#333" stroke-width="1.0"/>
<line x1="598.40" y1="57.93" x2="601.20" y2="57.93" stroke="#333" stroke-width="1.0"/>
<line x1="598.40" y1="72.18" x2="601.20" y2="72.18" stroke="#333" stroke-width="1.0"/>
<line x1="608.90" y1="55.68" x2="608.90" y2="69.93" stroke="#333" stroke-width="1.0"/>
<line x1="607.50" y1="55.68" x2="610.30" y2="55.68" stroke="#333" stroke-width="1.0"/>
<line x1="607.50" y1="69.93" x2="610.30" y2="69.93" stroke="#333" stroke-width="1.0"/>
<path d="M481.50,168.33 L490.60,167.05 L499.70,160.30 L508.80,153.55 L517.90,140.05 L527.00,130.68 L536.10,121.30 L545.20,113.05 L554.30,103.60 L563.40,91.30 L572.50,85.30 L581.60,75.03 L590.70,70.30 L599.80,65.05 L608.90,62.80" stroke="#111" stroke-width="1.4" fill="none"/>
<circle cx="481.50" cy="168.33" r="1.4" stroke="#111" stroke-width="1.1" fill="#fff"/>
<circle cx="490.60" cy="167.05" r="1.4" stroke="#111" stroke-width="1.1" fill="#fff"/>
<circle cx="499.70" cy="160.30" r="1.4" stroke="#111" stroke-width="1.1" fill="#fff"/>
<circle cx="508.80" cy="153.55" r="1.4" stroke="#111" stroke-width="1.1" fill="#fff"/>
<circle cx="517.90" cy="140.05" r="1.4" stroke="#111" stroke-width="1.1" fill="#fff"/>
<circle cx="527.00" cy="130.68" r="1.4" stroke="#111" stroke-width="1.1" fill="#fff"/>
<circle cx="536.10" cy="121.30" r="1.4" stroke="#111" stroke-width="1.1" fill="#fff"/>
<circle cx="545.20" cy="113.05" r="1.4" stroke="#111" stroke-width="1.1" fill="#fff"/>
<circle cx="554.30" cy="103.60" r="1.4" stroke="#111" stroke-width="1.1" fill="#fff"/>
<circle cx="563.40" cy="91.30" r="1.4" stroke="#111" stroke-width="1.1" fill="#fff"/>
<circle cx="572.50" cy="85.30" r="1.4" stroke="#111" stroke-width="1.1" fill="#fff"/>
<circle cx="581.60" cy="75.03" r="1.4" stroke="#111" stroke-width="1.1" fill="#fff"/>
<circle cx="590.70" cy="70.30" r="1.4" stroke="#111" stroke-width="1.1" fill="#fff"/>
<circle cx="599.80" cy="65.05" r="1.4" stroke="#111" stroke-width="1.1" fill="#fff"/>
<circle cx="608.90" cy="62.80" r="1.4" stroke="#111" stroke-width="1.1" fill="#fff"/>
<line x1="481.20" y1="49.30" x2="496.90" y2="49.30" stroke="#151515" stroke-width="1.0"/>
<circle cx="489.10" cy="49.30" r="1.2" stroke="#151515" stroke-width="0.9" fill="#fff"/>
<line x1="481.20" y1="65.80" x2="496.90" y2="65.80" stroke="#25c225" stroke-width="1.2"/>
<circle cx="489.10" cy="65.80" r="1.2" stroke="#25c225" stroke-width="0.9" fill="#fff"/>
<text x="499.62" y="52.70" font-size="12" font-style="italic" textLength="39.77" lengthAdjust="spacingAndGlyphs">Lnc473</text>
<text x="499.31" y="70.60" font-size="12" textLength="33.01" lengthAdjust="spacingAndGlyphs">EGFP</text>
<line x1="679.60" y1="42.50" x2="679.60" y2="173.40" stroke="#111" stroke-width="1.1"/>
<line x1="679.10" y1="172.90" x2="752.00" y2="172.90" stroke="#111" stroke-width="1.1"/>
<line x1="677.10" y1="172.60" x2="679.60" y2="172.60" stroke="#111" stroke-width="0.9"/>
<line x1="678.30" y1="168.89" x2="679.60" y2="168.89" stroke="#111" stroke-width="0.9"/>
<line x1="678.30" y1="165.18" x2="679.60" y2="165.18" stroke="#111" stroke-width="0.9"/>
<line x1="678.30" y1="161.47" x2="679.60" y2="161.47" stroke="#111" stroke-width="0.9"/>
<line x1="678.30" y1="157.76" x2="679.60" y2="157.76" stroke="#111" stroke-width="0.9"/>
<line x1="677.70" y1="154.05" x2="679.60" y2="154.05" stroke="#111" stroke-width="0.9"/>
<line x1="678.30" y1="150.34" x2="679.60" y2="150.34" stroke="#111" stroke-width="0.9"/>
<line x1="678.30" y1="146.63" x2="679.60" y2="146.63" stroke="#111" stroke-width="0.9"/>
<line x1="678.30" y1="142.92" x2="679.60" y2="142.92" stroke="#111" stroke-width="0.9"/>
<line x1="678.30" y1="139.21" x2="679.60" y2="139.21" stroke="#111" stroke-width="0.9"/>
<line x1="677.10" y1="135.50" x2="679.60" y2="135.50" stroke="#111" stroke-width="0.9"/>
<line x1="678.30" y1="131.79" x2="679.60" y2="131.79" stroke="#111" stroke-width="0.9"/>
<line x1="678.30" y1="128.08" x2="679.60" y2="128.08" stroke="#111" stroke-width="0.9"/>
<line x1="678.30" y1="124.37" x2="679.60" y2="124.37" stroke="#111" stroke-width="0.9"/>
<line x1="678.30" y1="120.66" x2="679.60" y2="120.66" stroke="#111" stroke-width="0.9"/>
<line x1="677.70" y1="116.95" x2="679.60" y2="116.95" stroke="#111" stroke-width="0.9"/>
<line x1="678.30" y1="113.24" x2="679.60" y2="113.24" stroke="#111" stroke-width="0.9"/>
<line x1="678.30" y1="109.53" x2="679.60" y2="109.53" stroke="#111" stroke-width="0.9"/>
<line x1="678.30" y1="105.82" x2="679.60" y2="105.82" stroke="#111" stroke-width="0.9"/>
<line x1="678.30" y1="102.11" x2="679.60" y2="102.11" stroke="#111" stroke-width="0.9"/>
<line x1="677.10" y1="98.40" x2="679.60" y2="98.40" stroke="#111" stroke-width="0.9"/>
<line x1="678.30" y1="94.69" x2="679.60" y2="94.69" stroke="#111" stroke-width="0.9"/>
<line x1="678.30" y1="90.98" x2="679.60" y2="90.98" stroke="#111" stroke-width="0.9"/>
<line x1="678.30" y1="87.27" x2="679.60" y2="87.27" stroke="#111" stroke-width="0.9"/>
<line x1="678.30" y1="83.56" x2="679.60" y2="83.56" stroke="#111" stroke-width="0.9"/>
<line x1="677.70" y1="79.85" x2="679.60" y2="79.85" stroke="#111" stroke-width="0.9"/>
<line x1="678.30" y1="76.14" x2="679.60" y2="76.14" stroke="#111" stroke-width="0.9"/>
<line x1="678.30" y1="72.43" x2="679.60" y2="72.43" stroke="#111" stroke-width="0.9"/>
<line x1="678.30" y1="68.72" x2="679.60" y2="68.72" stroke="#111" stroke-width="0.9"/>
<line x1="678.30" y1="65.01" x2="679.60" y2="65.01" stroke="#111" stroke-width="0.9"/>
<line x1="677.10" y1="61.30" x2="679.60" y2="61.30" stroke="#111" stroke-width="0.9"/>
<line x1="678.30" y1="57.59" x2="679.60" y2="57.59" stroke="#111" stroke-width="0.9"/>
<line x1="678.30" y1="53.88" x2="679.60" y2="53.88" stroke="#111" stroke-width="0.9"/>
<line x1="678.30" y1="50.17" x2="679.60" y2="50.17" stroke="#111" stroke-width="0.9"/>
<line x1="678.30" y1="46.46" x2="679.60" y2="46.46" stroke="#111" stroke-width="0.9"/>
<line x1="677.70" y1="42.75" x2="679.60" y2="42.75" stroke="#111" stroke-width="0.9"/>
<text x="660.12" y="176.50" font-size="10.8">0.0</text>
<text x="660.23" y="139.40" font-size="10.8">0.1</text>
<text x="660.23" y="102.30" font-size="10.8">0.2</text>
<text x="660.18" y="65.20" font-size="10.8">0.3</text>
<line x1="698.30" y1="48.75" x2="735.10" y2="48.75" stroke="#7a7a7a" stroke-width="1.5"/>
<circle cx="697.68" cy="87.17" r="1.3" stroke="#1fc31f" stroke-width="1.2" fill="none"/>
<circle cx="696.48" cy="96.18" r="1.3" stroke="#1fc31f" stroke-width="1.2" fill="none"/>
<circle cx="699.47" cy="96.27" r="1.3" stroke="#1fc31f" stroke-width="1.2" fill="none"/>
<circle cx="697.99" cy="103.94" r="1.3" stroke="#1fc31f" stroke-width="1.2" fill="none"/>
<circle cx="694.51" cy="108.76" r="1.3" stroke="#1fc31f" stroke-width="1.2" fill="none"/>
<circle cx="698.10" cy="108.97" r="1.3" stroke="#1fc31f" stroke-width="1.2" fill="none"/>
<circle cx="701.21" cy="108.75" r="1.3" stroke="#1fc31f" stroke-width="1.2" fill="none"/>
<circle cx="697.87" cy="111.91" r="1.3" stroke="#1fc31f" stroke-width="1.2" fill="none"/>
<circle cx="696.16" cy="115.12" r="1.3" stroke="#1fc31f" stroke-width="1.2" fill="none"/>
<circle cx="699.72" cy="114.67" r="1.3" stroke="#1fc31f" stroke-width="1.2" fill="none"/>
<circle cx="694.47" cy="116.52" r="1.3" stroke="#1fc31f" stroke-width="1.2" fill="none"/>
<circle cx="698.16" cy="116.44" r="1.3" stroke="#1fc31f" stroke-width="1.2" fill="none"/>
<circle cx="700.88" cy="116.46" r="1.3" stroke="#1fc31f" stroke-width="1.2" fill="none"/>
<circle cx="696.04" cy="120.96" r="1.3" stroke="#1fc31f" stroke-width="1.2" fill="none"/>
<circle cx="699.44" cy="121.10" r="1.3" stroke="#1fc31f" stroke-width="1.2" fill="none"/>
<circle cx="694.59" cy="123.37" r="1.3" stroke="#1fc31f" stroke-width="1.2" fill="none"/>
<circle cx="697.73" cy="123.48" r="1.3" stroke="#1fc31f" stroke-width="1.2" fill="none"/>
<circle cx="700.92" cy="123.26" r="1.3" stroke="#1fc31f" stroke-width="1.2" fill="none"/>
<circle cx="696.53" cy="125.33" r="1.3" stroke="#1fc31f" stroke-width="1.2" fill="none"/>
<circle cx="699.56" cy="125.14" r="1.3" stroke="#1fc31f" stroke-width="1.2" fill="none"/>
<circle cx="698.20" cy="127.58" r="1.3" stroke="#1fc31f" stroke-width="1.2" fill="none"/>
<circle cx="694.52" cy="130.42" r="1.3" stroke="#1fc31f" stroke-width="1.2" fill="none"/>
<circle cx="698.03" cy="130.61" r="1.3" stroke="#1fc31f" stroke-width="1.2" fill="none"/>
<circle cx="701.31" cy="130.46" r="1.3" stroke="#1fc31f" stroke-width="1.2" fill="none"/>
<circle cx="687.07" cy="132.69" r="1.3" stroke="#1fc31f" stroke-width="1.2" fill="none"/>
<circle cx="689.91" cy="132.64" r="1.3" stroke="#1fc31f" stroke-width="1.2" fill="none"/>
<circle cx="693.40" cy="132.77" r="1.3" stroke="#1fc31f" stroke-width="1.2" fill="none"/>
<circle cx="696.33" cy="132.64" r="1.3" stroke="#1fc31f" stroke-width="1.2" fill="none"/>
<circle cx="699.20" cy="132.47" r="1.3" stroke="#1fc31f" stroke-width="1.2" fill="none"/>
<circle cx="702.80" cy="132.56" r="1.3" stroke="#1fc31f" stroke-width="1.2" fill="none"/>
<circle cx="705.58" cy="132.62" r="1.3" stroke="#1fc31f" stroke-width="1.2" fill="none"/>
<circle cx="709.05" cy="132.69" r="1.3" stroke="#1fc31f" stroke-width="1.2" fill="none"/>
<circle cx="693.10" cy="134.17" r="1.3" stroke="#1fc31f" stroke-width="1.2" fill="none"/>
<circle cx="696.33" cy="134.34" r="1.3" stroke="#1fc31f" stroke-width="1.2" fill="none"/>
<circle cx="699.49" cy="134.15" r="1.3" stroke="#1fc31f" stroke-width="1.2" fill="none"/>
<circle cx="702.62" cy="133.96" r="1.3" stroke="#1fc31f" stroke-width="1.2" fill="none"/>
<circle cx="692.90" cy="135.80" r="1.3" stroke="#1fc31f" stroke-width="1.2" fill="none"/>
<circle cx="696.61" cy="135.75" r="1.3" stroke="#1fc31f" stroke-width="1.2" fill="none"/>
<circle cx="699.41" cy="135.54" r="1.3" stroke="#1fc31f" stroke-width="1.2" fill="none"/>
<circle cx="702.63" cy="135.94" r="1.3" stroke="#1fc31f" stroke-width="1.2" fill="none"/>
<circle cx="696.49" cy="137.82" r="1.3" stroke="#1fc31f" stroke-width="1.2" fill="none"/>
<circle cx="699.69" cy="137.67" r="1.3" stroke="#1fc31f" stroke-width="1.2" fill="none"/>
<circle cx="690.03" cy="141.73" r="1.3" stroke="#1fc31f" stroke-width="1.2" fill="none"/>
<circle cx="693.22" cy="141.48" r="1.3" stroke="#1fc31f" stroke-width="1.2" fill="none"/>
<circle cx="696.19" cy="141.52" r="1.3" stroke="#1fc31f" stroke-width="1.2" fill="none"/>
<circle cx="699.75" cy="141.25" r="1.3" stroke="#1fc31f" stroke-width="1.2" fill="none"/>
<circle cx="702.80" cy="141.66" r="1.3" stroke="#1fc31f" stroke-width="1.2" fill="none"/>
<circle cx="706.01" cy="141.62" r="1.3" stroke="#1fc31f" stroke-width="1.2" fill="none"/>
<circle cx="693.36" cy="143.51" r="1.3" stroke="#1fc31f" stroke-width="1.2" fill="none"/>
<circle cx="696.36" cy="143.46" r="1.3" stroke="#1fc31f" stroke-width="1.2" fill="none"/>
<circle cx="699.21" cy="143.69" r="1.3" stroke="#1fc31f" stroke-width="1.2" fill="none"/>
<circle cx="702.67" cy="143.35" r="1.3" stroke="#1fc31f" stroke-width="1.2" fill="none"/>
<circle cx="693.18" cy="145.59" r="1.3" stroke="#1fc31f" stroke-width="1.2" fill="none"/>
<circle cx="696.24" cy="145.52" r="1.3" stroke="#1fc31f" stroke-width="1.2" fill="none"/>
<circle cx="699.50" cy="145.66" r="1.3" stroke="#1fc31f" stroke-width="1.2" fill="none"/>
<circle cx="702.69" cy="145.58" r="1.3" stroke="#1fc31f" stroke-width="1.2" fill="none"/>
<circle cx="694.47" cy="147.06" r="1.3" stroke="#1fc31f" stroke-width="1.2" fill="none"/>
<circle cx="697.71" cy="147.24" r="1.3" stroke="#1fc31f" stroke-width="1.2" fill="none"/>
<circle cx="701.27" cy="147.35" r="1.3" stroke="#1fc31f" stroke-width="1.2" fill="none"/>
<circle cx="696.50" cy="148.96" r="1.3" stroke="#1fc31f" stroke-width="1.2" fill="none"/>
<circle cx="699.33" cy="148.97" r="1.3" stroke="#1fc31f" stroke-width="1.2" fill="none"/>
<circle cx="693.28" cy="154.79" r="1.3" stroke="#1fc31f" stroke-width="1.2" fill="none"/>
<circle cx="696.04" cy="154.76" r="1.3" stroke="#1fc31f" stroke-width="1.2" fill="none"/>
<circle cx="699.63" cy="154.87" r="1.3" stroke="#1fc31f" stroke-width="1.2" fill="none"/>
<circle cx="702.39" cy="155.06" r="1.3" stroke="#1fc31f" stroke-width="1.2" fill="none"/>
<circle cx="697.81" cy="156.88" r="1.3" stroke="#1fc31f" stroke-width="1.2" fill="none"/>
<circle cx="697.70" cy="159.21" r="1.3" stroke="#1fc31f" stroke-width="1.2" fill="none"/>
<circle cx="732.61" cy="76.07" r="1.3" stroke="#161616" stroke-width="1.2" fill="none"/>
<circle cx="736.13" cy="75.78" r="1.3" stroke="#161616" stroke-width="1.2" fill="none"/>
<circle cx="734.40" cy="80.87" r="1.3" stroke="#161616" stroke-width="1.2" fill="none"/>
<circle cx="734.49" cy="90.14" r="1.3" stroke="#161616" stroke-width="1.2" fill="none"/>
<circle cx="732.58" cy="99.16" r="1.3" stroke="#161616" stroke-width="1.2" fill="none"/>
<circle cx="736.18" cy="99.37" r="1.3" stroke="#161616" stroke-width="1.2" fill="none"/>
<circle cx="732.98" cy="100.75" r="1.3" stroke="#161616" stroke-width="1.2" fill="none"/>
<circle cx="735.94" cy="101.11" r="1.3" stroke="#161616" stroke-width="1.2" fill="none"/>
<circle cx="734.24" cy="105.42" r="1.3" stroke="#161616" stroke-width="1.2" fill="none"/>
<circle cx="734.64" cy="107.07" r="1.3" stroke="#161616" stroke-width="1.2" fill="none"/>
<circle cx="734.12" cy="110.42" r="1.3" stroke="#161616" stroke-width="1.2" fill="none"/>
<circle cx="731.51" cy="112.24" r="1.3" stroke="#161616" stroke-width="1.2" fill="none"/>
<circle cx="734.23" cy="112.26" r="1.3" stroke="#161616" stroke-width="1.2" fill="none"/>
<circle cx="737.27" cy="112.16" r="1.3" stroke="#161616" stroke-width="1.2" fill="none"/>
<circle cx="732.79" cy="117.20" r="1.3" stroke="#161616" stroke-width="1.2" fill="none"/>
<circle cx="735.81" cy="117.07" r="1.3" stroke="#161616" stroke-width="1.2" fill="none"/>
<circle cx="729.51" cy="119.28" r="1.3" stroke="#161616" stroke-width="1.2" fill="none"/>
<circle cx="732.70" cy="119.06" r="1.3" stroke="#161616" stroke-width="1.2" fill="none"/>
<circle cx="736.18" cy="119.33" r="1.3" stroke="#161616" stroke-width="1.2" fill="none"/>
<circle cx="739.21" cy="119.14" r="1.3" stroke="#161616" stroke-width="1.2" fill="none"/>
<circle cx="731.55" cy="121.58" r="1.3" stroke="#161616" stroke-width="1.2" fill="none"/>
<circle cx="734.17" cy="121.32" r="1.3" stroke="#161616" stroke-width="1.2" fill="none"/>
<circle cx="737.68" cy="121.51" r="1.3" stroke="#161616" stroke-width="1.2" fill="none"/>
<circle cx="729.94" cy="123.06" r="1.3" stroke="#161616" stroke-width="1.2" fill="none"/>
<circle cx="733.02" cy="123.19" r="1.3" stroke="#161616" stroke-width="1.2" fill="none"/>
<circle cx="735.86" cy="123.14" r="1.3" stroke="#161616" stroke-width="1.2" fill="none"/>
<circle cx="739.35" cy="123.27" r="1.3" stroke="#161616" stroke-width="1.2" fill="none"/>
<circle cx="728.10" cy="124.84" r="1.3" stroke="#161616" stroke-width="1.2" fill="none"/>
<circle cx="730.97" cy="124.67" r="1.3" stroke="#161616" stroke-width="1.2" fill="none"/>
<circle cx="734.58" cy="124.76" r="1.3" stroke="#161616" stroke-width="1.2" fill="none"/>
<circle cx="737.35" cy="124.82" r="1.3" stroke="#161616" stroke-width="1.2" fill="none"/>
<circle cx="740.82" cy="124.89" r="1.3" stroke="#161616" stroke-width="1.2" fill="none"/>
<circle cx="731.17" cy="126.87" r="1.3" stroke="#161616" stroke-width="1.2" fill="none"/>
<circle cx="734.41" cy="127.04" r="1.3" stroke="#161616" stroke-width="1.2" fill="none"/>
<circle cx="737.56" cy="126.85" r="1.3" stroke="#161616" stroke-width="1.2" fill="none"/>
<circle cx="731.24" cy="128.96" r="1.3" stroke="#161616" stroke-width="1.2" fill="none"/>
<circle cx="734.13" cy="129.30" r="1.3" stroke="#161616" stroke-width="1.2" fill="none"/>
<circle cx="737.84" cy="129.25" r="1.3" stroke="#161616" stroke-width="1.2" fill="none"/>
<circle cx="732.76" cy="131.14" r="1.3" stroke="#161616" stroke-width="1.2" fill="none"/>
<circle cx="735.98" cy="131.54" r="1.3" stroke="#161616" stroke-width="1.2" fill="none"/>
<circle cx="729.84" cy="133.52" r="1.3" stroke="#161616" stroke-width="1.2" fill="none"/>
<circle cx="733.04" cy="133.37" r="1.3" stroke="#161616" stroke-width="1.2" fill="none"/>
<circle cx="735.98" cy="133.73" r="1.3" stroke="#161616" stroke-width="1.2" fill="none"/>
<circle cx="739.17" cy="133.48" r="1.3" stroke="#161616" stroke-width="1.2" fill="none"/>
<circle cx="734.26" cy="140.12" r="1.3" stroke="#161616" stroke-width="1.2" fill="none"/>
<circle cx="733.10" cy="141.95" r="1.3" stroke="#161616" stroke-width="1.2" fill="none"/>
<circle cx="736.15" cy="142.36" r="1.3" stroke="#161616" stroke-width="1.2" fill="none"/>
<circle cx="734.63" cy="143.92" r="1.3" stroke="#161616" stroke-width="1.2" fill="none"/>
<circle cx="729.86" cy="145.31" r="1.3" stroke="#161616" stroke-width="1.2" fill="none"/>
<circle cx="732.86" cy="145.26" r="1.3" stroke="#161616" stroke-width="1.2" fill="none"/>
<circle cx="735.71" cy="145.49" r="1.3" stroke="#161616" stroke-width="1.2" fill="none"/>
<circle cx="739.17" cy="145.15" r="1.3" stroke="#161616" stroke-width="1.2" fill="none"/>
<circle cx="732.83" cy="147.39" r="1.3" stroke="#161616" stroke-width="1.2" fill="none"/>
<circle cx="735.89" cy="147.32" r="1.3" stroke="#161616" stroke-width="1.2" fill="none"/>
<circle cx="732.85" cy="150.56" r="1.3" stroke="#161616" stroke-width="1.2" fill="none"/>
<circle cx="736.04" cy="150.48" r="1.3" stroke="#161616" stroke-width="1.2" fill="none"/>
<circle cx="734.12" cy="156.16" r="1.3" stroke="#161616" stroke-width="1.2" fill="none"/>
<rect x="686.00" y="121.20" width="24.40" height="22.00" stroke="#1fc31f" stroke-width="1.1" fill="none"/>
<line x1="686.00" y1="132.80" x2="710.40" y2="132.80" stroke="#1fc31f" stroke-width="1.1"/>
<rect x="722.50" y="112.50" width="24.00" height="21.90" stroke="#111" stroke-width="1.1" fill="none"/>
<line x1="722.50" y1="124.10" x2="746.50" y2="124.10" stroke="#111" stroke-width="1.1"/>
<line x1="716.40" y1="172.90" x2="716.40" y2="185.70" stroke="#111" stroke-width="1.0"/>
<text x="681.00" y="186.20" font-size="12" textLength="33.54" lengthAdjust="spacingAndGlyphs">EGFP</text>
<text x="718.92" y="186.20" font-size="12" font-style="italic" textLength="39.47" lengthAdjust="spacingAndGlyphs">Lnc473</text>
<text x="644.20" y="168.63" font-size="12.8" transform="rotate(-90 644.20 168.63)" textLength="121.98" lengthAdjust="spacingAndGlyphs">AP input/output slope</text>
<text x="657.50" y="173.71" font-size="12.9" transform="rotate(-90 657.50 173.71)" textLength="132.52" lengthAdjust="spacingAndGlyphs">(AP count/pA injection)</text>
<text x="713.89" y="49.00" font-size="14.5">*</text>
<line x1="189.50" y1="245.50" x2="189.50" y2="376.30" stroke="#111" stroke-width="1.1"/>
<line x1="189.00" y1="375.80" x2="262.70" y2="375.80" stroke="#111" stroke-width="1.1"/>
<line x1="187.00" y1="372.20" x2="189.50" y2="372.20" stroke="#111" stroke-width="0.9"/>
<line x1="188.20" y1="366.16" x2="189.50" y2="366.16" stroke="#111" stroke-width="0.9"/>
<line x1="188.20" y1="360.13" x2="189.50" y2="360.13" stroke="#111" stroke-width="0.9"/>
<line x1="188.20" y1="354.09" x2="189.50" y2="354.09" stroke="#111" stroke-width="0.9"/>
<line x1="188.20" y1="348.06" x2="189.50" y2="348.06" stroke="#111" stroke-width="0.9"/>
<line x1="187.00" y1="342.02" x2="189.50" y2="342.02" stroke="#111" stroke-width="0.9"/>
<line x1="188.20" y1="335.99" x2="189.50" y2="335.99" stroke="#111" stroke-width="0.9"/>
<line x1="188.20" y1="329.95" x2="189.50" y2="329.95" stroke="#111" stroke-width="0.9"/>
<line x1="188.20" y1="323.92" x2="189.50" y2="323.92" stroke="#111" stroke-width="0.9"/>
<line x1="188.20" y1="317.88" x2="189.50" y2="317.88" stroke="#111" stroke-width="0.9"/>
<line x1="187.00" y1="311.85" x2="189.50" y2="311.85" stroke="#111" stroke-width="0.9"/>
<line x1="188.20" y1="305.81" x2="189.50" y2="305.81" stroke="#111" stroke-width="0.9"/>
<line x1="188.20" y1="299.78" x2="189.50" y2="299.78" stroke="#111" stroke-width="0.9"/>
<line x1="188.20" y1="293.75" x2="189.50" y2="293.75" stroke="#111" stroke-width="0.9"/>
<line x1="188.20" y1="287.71" x2="189.50" y2="287.71" stroke="#111" stroke-width="0.9"/>
<line x1="187.00" y1="281.67" x2="189.50" y2="281.67" stroke="#111" stroke-width="0.9"/>
<line x1="188.20" y1="275.64" x2="189.50" y2="275.64" stroke="#111" stroke-width="0.9"/>
<line x1="188.20" y1="269.61" x2="189.50" y2="269.61" stroke="#111" stroke-width="0.9"/>
<line x1="188.20" y1="263.57" x2="189.50" y2="263.57" stroke="#111" stroke-width="0.9"/>
<line x1="188.20" y1="257.53" x2="189.50" y2="257.53" stroke="#111" stroke-width="0.9"/>
<line x1="187.00" y1="251.50" x2="189.50" y2="251.50" stroke="#111" stroke-width="0.9"/>
<line x1="188.20" y1="245.46" x2="189.50" y2="245.46" stroke="#111" stroke-width="0.9"/>
<text x="172.02" y="376.40" font-size="12">50</text>
<text x="172.02" y="346.22" font-size="12">60</text>
<text x="172.02" y="316.05" font-size="12">70</text>
<text x="172.02" y="285.87" font-size="12">80</text>
<text x="172.02" y="255.70" font-size="12">90</text>
<line x1="207.00" y1="250.30" x2="243.80" y2="250.30" stroke="#2a2a2a" stroke-width="1.1"/>
<circle cx="207.88" cy="267.17" r="1.3" stroke="#1fc31f" stroke-width="1.2" fill="none"/>
<circle cx="206.68" cy="269.38" r="1.3" stroke="#1fc31f" stroke-width="1.2" fill="none"/>
<circle cx="209.67" cy="269.47" r="1.3" stroke="#1fc31f" stroke-width="1.2" fill="none"/>
<circle cx="208.19" cy="271.94" r="1.3" stroke="#1fc31f" stroke-width="1.2" fill="none"/>
<circle cx="207.86" cy="278.96" r="1.3" stroke="#1fc31f" stroke-width="1.2" fill="none"/>
<circle cx="208.30" cy="282.17" r="1.3" stroke="#1fc31f" stroke-width="1.2" fill="none"/>
<circle cx="208.26" cy="284.95" r="1.3" stroke="#1fc31f" stroke-width="1.2" fill="none"/>
<circle cx="206.49" cy="289.51" r="1.3" stroke="#1fc31f" stroke-width="1.2" fill="none"/>
<circle cx="209.51" cy="289.62" r="1.3" stroke="#1fc31f" stroke-width="1.2" fill="none"/>
<circle cx="206.77" cy="292.27" r="1.3" stroke="#1fc31f" stroke-width="1.2" fill="none"/>
<circle cx="209.39" cy="292.52" r="1.3" stroke="#1fc31f" stroke-width="1.2" fill="none"/>
<circle cx="206.79" cy="295.14" r="1.3" stroke="#1fc31f" stroke-width="1.2" fill="none"/>
<circle cx="209.50" cy="295.16" r="1.3" stroke="#1fc31f" stroke-width="1.2" fill="none"/>
<circle cx="204.67" cy="299.66" r="1.3" stroke="#1fc31f" stroke-width="1.2" fill="none"/>
<circle cx="208.06" cy="299.80" r="1.3" stroke="#1fc31f" stroke-width="1.2" fill="none"/>
<circle cx="211.09" cy="299.67" r="1.3" stroke="#1fc31f" stroke-width="1.2" fill="none"/>
<circle cx="201.63" cy="303.28" r="1.3" stroke="#1fc31f" stroke-width="1.2" fill="none"/>
<circle cx="204.82" cy="303.06" r="1.3" stroke="#1fc31f" stroke-width="1.2" fill="none"/>
<circle cx="208.30" cy="303.33" r="1.3" stroke="#1fc31f" stroke-width="1.2" fill="none"/>
<circle cx="211.34" cy="303.14" r="1.3" stroke="#1fc31f" stroke-width="1.2" fill="none"/>
<circle cx="214.70" cy="303.48" r="1.3" stroke="#1fc31f" stroke-width="1.2" fill="none"/>
<circle cx="203.15" cy="306.92" r="1.3" stroke="#1fc31f" stroke-width="1.2" fill="none"/>
<circle cx="206.66" cy="307.11" r="1.3" stroke="#1fc31f" stroke-width="1.2" fill="none"/>
<circle cx="209.94" cy="306.96" r="1.3" stroke="#1fc31f" stroke-width="1.2" fill="none"/>
<circle cx="213.02" cy="307.09" r="1.3" stroke="#1fc31f" stroke-width="1.2" fill="none"/>
<circle cx="203.26" cy="310.84" r="1.3" stroke="#1fc31f" stroke-width="1.2" fill="none"/>
<circle cx="206.75" cy="310.97" r="1.3" stroke="#1fc31f" stroke-width="1.2" fill="none"/>
<circle cx="209.68" cy="310.84" r="1.3" stroke="#1fc31f" stroke-width="1.2" fill="none"/>
<circle cx="212.55" cy="310.67" r="1.3" stroke="#1fc31f" stroke-width="1.2" fill="none"/>
<circle cx="205.13" cy="314.36" r="1.3" stroke="#1fc31f" stroke-width="1.2" fill="none"/>
<circle cx="207.90" cy="314.42" r="1.3" stroke="#1fc31f" stroke-width="1.2" fill="none"/>
<circle cx="211.37" cy="314.49" r="1.3" stroke="#1fc31f" stroke-width="1.2" fill="none"/>
<circle cx="206.45" cy="318.47" r="1.3" stroke="#1fc31f" stroke-width="1.2" fill="none"/>
<circle cx="209.68" cy="318.64" r="1.3" stroke="#1fc31f" stroke-width="1.2" fill="none"/>
<circle cx="203.39" cy="321.25" r="1.3" stroke="#1fc31f" stroke-width="1.2" fill="none"/>
<circle cx="206.52" cy="321.06" r="1.3" stroke="#1fc31f" stroke-width="1.2" fill="none"/>
<circle cx="209.40" cy="321.40" r="1.3" stroke="#1fc31f" stroke-width="1.2" fill="none"/>
<circle cx="213.11" cy="321.35" r="1.3" stroke="#1fc31f" stroke-width="1.2" fill="none"/>
<circle cx="201.74" cy="324.64" r="1.3" stroke="#1fc31f" stroke-width="1.2" fill="none"/>
<circle cx="204.95" cy="325.04" r="1.3" stroke="#1fc31f" stroke-width="1.2" fill="none"/>
<circle cx="208.26" cy="324.82" r="1.3" stroke="#1fc31f" stroke-width="1.2" fill="none"/>
<circle cx="211.47" cy="324.67" r="1.3" stroke="#1fc31f" stroke-width="1.2" fill="none"/>
<circle cx="214.41" cy="325.03" r="1.3" stroke="#1fc31f" stroke-width="1.2" fill="none"/>
<circle cx="203.42" cy="327.88" r="1.3" stroke="#1fc31f" stroke-width="1.2" fill="none"/>
<circle cx="206.39" cy="327.92" r="1.3" stroke="#1fc31f" stroke-width="1.2" fill="none"/>
<circle cx="209.95" cy="327.65" r="1.3" stroke="#1fc31f" stroke-width="1.2" fill="none"/>
<circle cx="213.00" cy="328.06" r="1.3" stroke="#1fc31f" stroke-width="1.2" fill="none"/>
<circle cx="203.61" cy="331.12" r="1.3" stroke="#1fc31f" stroke-width="1.2" fill="none"/>
<circle cx="206.71" cy="331.01" r="1.3" stroke="#1fc31f" stroke-width="1.2" fill="none"/>
<circle cx="209.71" cy="330.96" r="1.3" stroke="#1fc31f" stroke-width="1.2" fill="none"/>
<circle cx="212.56" cy="331.19" r="1.3" stroke="#1fc31f" stroke-width="1.2" fill="none"/>
<circle cx="201.84" cy="335.05" r="1.3" stroke="#1fc31f" stroke-width="1.2" fill="none"/>
<circle cx="204.95" cy="335.19" r="1.3" stroke="#1fc31f" stroke-width="1.2" fill="none"/>
<circle cx="208.01" cy="335.12" r="1.3" stroke="#1fc31f" stroke-width="1.2" fill="none"/>
<circle cx="211.27" cy="335.26" r="1.3" stroke="#1fc31f" stroke-width="1.2" fill="none"/>
<circle cx="214.47" cy="335.18" r="1.3" stroke="#1fc31f" stroke-width="1.2" fill="none"/>
<circle cx="204.67" cy="337.76" r="1.3" stroke="#1fc31f" stroke-width="1.2" fill="none"/>
<circle cx="207.91" cy="337.94" r="1.3" stroke="#1fc31f" stroke-width="1.2" fill="none"/>
<circle cx="211.47" cy="338.05" r="1.3" stroke="#1fc31f" stroke-width="1.2" fill="none"/>
<circle cx="201.98" cy="345.16" r="1.3" stroke="#1fc31f" stroke-width="1.2" fill="none"/>
<circle cx="204.80" cy="345.17" r="1.3" stroke="#1fc31f" stroke-width="1.2" fill="none"/>
<circle cx="208.20" cy="344.79" r="1.3" stroke="#1fc31f" stroke-width="1.2" fill="none"/>
<circle cx="210.96" cy="344.76" r="1.3" stroke="#1fc31f" stroke-width="1.2" fill="none"/>
<circle cx="214.55" cy="344.87" r="1.3" stroke="#1fc31f" stroke-width="1.2" fill="none"/>
<circle cx="207.87" cy="348.66" r="1.3" stroke="#1fc31f" stroke-width="1.2" fill="none"/>
<circle cx="208.01" cy="351.28" r="1.3" stroke="#1fc31f" stroke-width="1.2" fill="none"/>
<circle cx="206.32" cy="354.51" r="1.3" stroke="#1fc31f" stroke-width="1.2" fill="none"/>
<circle cx="209.48" cy="354.39" r="1.3" stroke="#1fc31f" stroke-width="1.2" fill="none"/>
<circle cx="208.23" cy="356.98" r="1.3" stroke="#1fc31f" stroke-width="1.2" fill="none"/>
<circle cx="207.99" cy="359.99" r="1.3" stroke="#1fc31f" stroke-width="1.2" fill="none"/>
<circle cx="206.24" cy="362.44" r="1.3" stroke="#1fc31f" stroke-width="1.2" fill="none"/>
<circle cx="209.63" cy="362.34" r="1.3" stroke="#1fc31f" stroke-width="1.2" fill="none"/>
<circle cx="207.87" cy="365.70" r="1.3" stroke="#1fc31f" stroke-width="1.2" fill="none"/>
<circle cx="208.11" cy="368.35" r="1.3" stroke="#1fc31f" stroke-width="1.2" fill="none"/>
<circle cx="244.38" cy="263.47" r="1.3" stroke="#161616" stroke-width="1.2" fill="none"/>
<circle cx="244.76" cy="278.08" r="1.3" stroke="#161616" stroke-width="1.2" fill="none"/>
<circle cx="243.02" cy="280.77" r="1.3" stroke="#161616" stroke-width="1.2" fill="none"/>
<circle cx="246.27" cy="280.94" r="1.3" stroke="#161616" stroke-width="1.2" fill="none"/>
<circle cx="244.36" cy="283.56" r="1.3" stroke="#161616" stroke-width="1.2" fill="none"/>
<circle cx="232.20" cy="289.37" r="1.3" stroke="#161616" stroke-width="1.2" fill="none"/>
<circle cx="235.31" cy="289.15" r="1.3" stroke="#161616" stroke-width="1.2" fill="none"/>
<circle cx="238.27" cy="289.51" r="1.3" stroke="#161616" stroke-width="1.2" fill="none"/>
<circle cx="241.29" cy="289.62" r="1.3" stroke="#161616" stroke-width="1.2" fill="none"/>
<circle cx="244.84" cy="289.17" r="1.3" stroke="#161616" stroke-width="1.2" fill="none"/>
<circle cx="247.47" cy="289.42" r="1.3" stroke="#161616" stroke-width="1.2" fill="none"/>
<circle cx="251.16" cy="289.34" r="1.3" stroke="#161616" stroke-width="1.2" fill="none"/>
<circle cx="253.88" cy="289.36" r="1.3" stroke="#161616" stroke-width="1.2" fill="none"/>
<circle cx="256.92" cy="289.26" r="1.3" stroke="#161616" stroke-width="1.2" fill="none"/>
<circle cx="241.41" cy="292.50" r="1.3" stroke="#161616" stroke-width="1.2" fill="none"/>
<circle cx="244.44" cy="292.37" r="1.3" stroke="#161616" stroke-width="1.2" fill="none"/>
<circle cx="247.58" cy="292.48" r="1.3" stroke="#161616" stroke-width="1.2" fill="none"/>
<circle cx="241.32" cy="296.46" r="1.3" stroke="#161616" stroke-width="1.2" fill="none"/>
<circle cx="244.80" cy="296.73" r="1.3" stroke="#161616" stroke-width="1.2" fill="none"/>
<circle cx="247.84" cy="296.54" r="1.3" stroke="#161616" stroke-width="1.2" fill="none"/>
<circle cx="241.75" cy="300.58" r="1.3" stroke="#161616" stroke-width="1.2" fill="none"/>
<circle cx="244.37" cy="300.32" r="1.3" stroke="#161616" stroke-width="1.2" fill="none"/>
<circle cx="247.88" cy="300.51" r="1.3" stroke="#161616" stroke-width="1.2" fill="none"/>
<circle cx="240.14" cy="303.96" r="1.3" stroke="#161616" stroke-width="1.2" fill="none"/>
<circle cx="243.22" cy="304.09" r="1.3" stroke="#161616" stroke-width="1.2" fill="none"/>
<circle cx="246.06" cy="304.04" r="1.3" stroke="#161616" stroke-width="1.2" fill="none"/>
<circle cx="249.55" cy="304.17" r="1.3" stroke="#161616" stroke-width="1.2" fill="none"/>
<circle cx="236.73" cy="308.14" r="1.3" stroke="#161616" stroke-width="1.2" fill="none"/>
<circle cx="239.60" cy="307.97" r="1.3" stroke="#161616" stroke-width="1.2" fill="none"/>
<circle cx="243.20" cy="308.06" r="1.3" stroke="#161616" stroke-width="1.2" fill="none"/>
<circle cx="245.98" cy="308.12" r="1.3" stroke="#161616" stroke-width="1.2" fill="none"/>
<circle cx="249.45" cy="308.19" r="1.3" stroke="#161616" stroke-width="1.2" fill="none"/>
<circle cx="252.40" cy="308.07" r="1.3" stroke="#161616" stroke-width="1.2" fill="none"/>
<circle cx="238.31" cy="311.44" r="1.3" stroke="#161616" stroke-width="1.2" fill="none"/>
<circle cx="241.46" cy="311.25" r="1.3" stroke="#161616" stroke-width="1.2" fill="none"/>
<circle cx="244.59" cy="311.06" r="1.3" stroke="#161616" stroke-width="1.2" fill="none"/>
<circle cx="247.48" cy="311.40" r="1.3" stroke="#161616" stroke-width="1.2" fill="none"/>
<circle cx="251.19" cy="311.35" r="1.3" stroke="#161616" stroke-width="1.2" fill="none"/>
<circle cx="239.81" cy="314.24" r="1.3" stroke="#161616" stroke-width="1.2" fill="none"/>
<circle cx="243.03" cy="314.64" r="1.3" stroke="#161616" stroke-width="1.2" fill="none"/>
<circle cx="246.34" cy="314.42" r="1.3" stroke="#161616" stroke-width="1.2" fill="none"/>
<circle cx="249.54" cy="314.27" r="1.3" stroke="#161616" stroke-width="1.2" fill="none"/>
<circle cx="238.31" cy="317.73" r="1.3" stroke="#161616" stroke-width="1.2" fill="none"/>
<circle cx="241.50" cy="317.48" r="1.3" stroke="#161616" stroke-width="1.2" fill="none"/>
<circle cx="244.46" cy="317.52" r="1.3" stroke="#161616" stroke-width="1.2" fill="none"/>
<circle cx="248.02" cy="317.25" r="1.3" stroke="#161616" stroke-width="1.2" fill="none"/>
<circle cx="251.07" cy="317.66" r="1.3" stroke="#161616" stroke-width="1.2" fill="none"/>
<circle cx="243.26" cy="321.82" r="1.3" stroke="#161616" stroke-width="1.2" fill="none"/>
<circle cx="246.36" cy="321.71" r="1.3" stroke="#161616" stroke-width="1.2" fill="none"/>
<circle cx="244.64" cy="328.96" r="1.3" stroke="#161616" stroke-width="1.2" fill="none"/>
<circle cx="244.33" cy="331.69" r="1.3" stroke="#161616" stroke-width="1.2" fill="none"/>
<circle cx="243.07" cy="335.35" r="1.3" stroke="#161616" stroke-width="1.2" fill="none"/>
<circle cx="246.18" cy="335.49" r="1.3" stroke="#161616" stroke-width="1.2" fill="none"/>
<circle cx="244.51" cy="337.92" r="1.3" stroke="#161616" stroke-width="1.2" fill="none"/>
<circle cx="243.05" cy="340.56" r="1.3" stroke="#161616" stroke-width="1.2" fill="none"/>
<circle cx="246.24" cy="340.48" r="1.3" stroke="#161616" stroke-width="1.2" fill="none"/>
<circle cx="244.32" cy="342.86" r="1.3" stroke="#161616" stroke-width="1.2" fill="none"/>
<circle cx="244.41" cy="345.54" r="1.3" stroke="#161616" stroke-width="1.2" fill="none"/>
<circle cx="244.82" cy="353.05" r="1.3" stroke="#161616" stroke-width="1.2" fill="none"/>
<circle cx="244.78" cy="360.16" r="1.3" stroke="#161616" stroke-width="1.2" fill="none"/>
<circle cx="244.45" cy="363.47" r="1.3" stroke="#161616" stroke-width="1.2" fill="none"/>
<circle cx="244.70" cy="370.39" r="1.3" stroke="#161616" stroke-width="1.2" fill="none"/>
<rect x="196.20" y="303.20" width="23.60" height="32.40" stroke="#1fc31f" stroke-width="1.1" fill="none"/>
<line x1="196.20" y1="320.30" x2="219.80" y2="320.30" stroke="#1fc31f" stroke-width="1.1"/>
<rect x="232.60" y="290.80" width="24.20" height="29.20" stroke="#111" stroke-width="1.1" fill="none"/>
<line x1="232.60" y1="308.30" x2="256.80" y2="308.30" stroke="#111" stroke-width="1.1"/>
<line x1="226.50" y1="375.80" x2="226.50" y2="388.60" stroke="#111" stroke-width="1.0"/>
<text x="191.41" y="388.30" font-size="12" textLength="33.01" lengthAdjust="spacingAndGlyphs">EGFP</text>
<text x="229.03" y="388.30" font-size="12" font-style="italic" textLength="39.37" lengthAdjust="spacingAndGlyphs">Lnc473</text>
<text x="162.20" y="363.23" font-size="12" transform="rotate(-90 162.20 363.23)" textLength="101.59" lengthAdjust="spacingAndGlyphs">AP amplitude (mV)</text>
<text x="222.84" y="250.40" font-size="13.7">*</text>
<line x1="351.00" y1="245.20" x2="351.00" y2="376.00" stroke="#111" stroke-width="1.1"/>
<line x1="350.50" y1="375.50" x2="423.90" y2="375.50" stroke="#111" stroke-width="1.1"/>
<line x1="348.50" y1="375.50" x2="351.00" y2="375.50" stroke="#111" stroke-width="0.9"/>
<line x1="349.70" y1="369.74" x2="351.00" y2="369.74" stroke="#111" stroke-width="0.9"/>
<line x1="349.70" y1="363.98" x2="351.00" y2="363.98" stroke="#111" stroke-width="0.9"/>
<line x1="349.70" y1="358.22" x2="351.00" y2="358.22" stroke="#111" stroke-width="0.9"/>
<line x1="349.70" y1="352.46" x2="351.00" y2="352.46" stroke="#111" stroke-width="0.9"/>
<line x1="348.50" y1="346.70" x2="351.00" y2="346.70" stroke="#111" stroke-width="0.9"/>
<line x1="349.70" y1="340.94" x2="351.00" y2="340.94" stroke="#111" stroke-width="0.9"/>
<line x1="349.70" y1="335.18" x2="351.00" y2="335.18" stroke="#111" stroke-width="0.9"/>
<line x1="349.70" y1="329.42" x2="351.00" y2="329.42" stroke="#111" stroke-width="0.9"/>
<line x1="349.70" y1="323.66" x2="351.00" y2="323.66" stroke="#111" stroke-width="0.9"/>
<line x1="348.50" y1="317.90" x2="351.00" y2="317.90" stroke="#111" stroke-width="0.9"/>
<line x1="349.70" y1="312.14" x2="351.00" y2="312.14" stroke="#111" stroke-width="0.9"/>
<line x1="349.70" y1="306.38" x2="351.00" y2="306.38" stroke="#111" stroke-width="0.9"/>
<line x1="349.70" y1="300.62" x2="351.00" y2="300.62" stroke="#111" stroke-width="0.9"/>
<line x1="349.70" y1="294.86" x2="351.00" y2="294.86" stroke="#111" stroke-width="0.9"/>
<line x1="348.50" y1="289.10" x2="351.00" y2="289.10" stroke="#111" stroke-width="0.9"/>
<line x1="349.70" y1="283.34" x2="351.00" y2="283.34" stroke="#111" stroke-width="0.9"/>
<line x1="349.70" y1="277.58" x2="351.00" y2="277.58" stroke="#111" stroke-width="0.9"/>
<line x1="349.70" y1="271.82" x2="351.00" y2="271.82" stroke="#111" stroke-width="0.9"/>
<line x1="349.70" y1="266.06" x2="351.00" y2="266.06" stroke="#111" stroke-width="0.9"/>
<line x1="348.50" y1="260.30" x2="351.00" y2="260.30" stroke="#111" stroke-width="0.9"/>
<line x1="349.70" y1="254.54" x2="351.00" y2="254.54" stroke="#111" stroke-width="0.9"/>
<line x1="349.70" y1="248.78" x2="351.00" y2="248.78" stroke="#111" stroke-width="0.9"/>
<text x="339.10" y="378.30" font-size="12">0</text>
<text x="339.20" y="349.50" font-size="12">1</text>
<text x="339.23" y="320.70" font-size="12">2</text>
<text x="339.15" y="291.90" font-size="12">3</text>
<text x="338.98" y="263.10" font-size="12">4</text>
<line x1="369.10" y1="250.50" x2="406.20" y2="250.50" stroke="#2a2a2a" stroke-width="1.1"/>
<circle cx="367.11" cy="267.17" r="1.3" stroke="#1fc31f" stroke-width="1.2" fill="none"/>
<circle cx="370.63" cy="266.88" r="1.3" stroke="#1fc31f" stroke-width="1.2" fill="none"/>
<circle cx="368.90" cy="271.27" r="1.3" stroke="#1fc31f" stroke-width="1.2" fill="none"/>
<circle cx="368.99" cy="283.94" r="1.3" stroke="#1fc31f" stroke-width="1.2" fill="none"/>
<circle cx="368.66" cy="291.56" r="1.3" stroke="#1fc31f" stroke-width="1.2" fill="none"/>
<circle cx="369.10" cy="292.87" r="1.3" stroke="#1fc31f" stroke-width="1.2" fill="none"/>
<circle cx="369.06" cy="297.35" r="1.3" stroke="#1fc31f" stroke-width="1.2" fill="none"/>
<circle cx="365.72" cy="305.81" r="1.3" stroke="#1fc31f" stroke-width="1.2" fill="none"/>
<circle cx="368.74" cy="305.92" r="1.3" stroke="#1fc31f" stroke-width="1.2" fill="none"/>
<circle cx="372.29" cy="305.47" r="1.3" stroke="#1fc31f" stroke-width="1.2" fill="none"/>
<circle cx="367.04" cy="307.72" r="1.3" stroke="#1fc31f" stroke-width="1.2" fill="none"/>
<circle cx="370.74" cy="307.64" r="1.3" stroke="#1fc31f" stroke-width="1.2" fill="none"/>
<circle cx="368.73" cy="310.86" r="1.3" stroke="#1fc31f" stroke-width="1.2" fill="none"/>
<circle cx="367.04" cy="313.06" r="1.3" stroke="#1fc31f" stroke-width="1.2" fill="none"/>
<circle cx="370.44" cy="313.20" r="1.3" stroke="#1fc31f" stroke-width="1.2" fill="none"/>
<circle cx="365.59" cy="314.97" r="1.3" stroke="#1fc31f" stroke-width="1.2" fill="none"/>
<circle cx="368.73" cy="315.08" r="1.3" stroke="#1fc31f" stroke-width="1.2" fill="none"/>
<circle cx="371.92" cy="314.86" r="1.3" stroke="#1fc31f" stroke-width="1.2" fill="none"/>
<circle cx="367.53" cy="317.63" r="1.3" stroke="#1fc31f" stroke-width="1.2" fill="none"/>
<circle cx="370.56" cy="317.44" r="1.3" stroke="#1fc31f" stroke-width="1.2" fill="none"/>
<circle cx="369.20" cy="321.98" r="1.3" stroke="#1fc31f" stroke-width="1.2" fill="none"/>
<circle cx="362.37" cy="324.82" r="1.3" stroke="#1fc31f" stroke-width="1.2" fill="none"/>
<circle cx="365.88" cy="325.01" r="1.3" stroke="#1fc31f" stroke-width="1.2" fill="none"/>
<circle cx="369.16" cy="324.86" r="1.3" stroke="#1fc31f" stroke-width="1.2" fill="none"/>
<circle cx="372.25" cy="324.99" r="1.3" stroke="#1fc31f" stroke-width="1.2" fill="none"/>
<circle cx="375.08" cy="324.94" r="1.3" stroke="#1fc31f" stroke-width="1.2" fill="none"/>
<circle cx="362.83" cy="327.47" r="1.3" stroke="#1fc31f" stroke-width="1.2" fill="none"/>
<circle cx="365.75" cy="327.34" r="1.3" stroke="#1fc31f" stroke-width="1.2" fill="none"/>
<circle cx="368.62" cy="327.17" r="1.3" stroke="#1fc31f" stroke-width="1.2" fill="none"/>
<circle cx="372.23" cy="327.26" r="1.3" stroke="#1fc31f" stroke-width="1.2" fill="none"/>
<circle cx="375.00" cy="327.32" r="1.3" stroke="#1fc31f" stroke-width="1.2" fill="none"/>
<circle cx="364.30" cy="329.69" r="1.3" stroke="#1fc31f" stroke-width="1.2" fill="none"/>
<circle cx="367.25" cy="329.57" r="1.3" stroke="#1fc31f" stroke-width="1.2" fill="none"/>
<circle cx="370.48" cy="329.74" r="1.3" stroke="#1fc31f" stroke-width="1.2" fill="none"/>
<circle cx="373.64" cy="329.55" r="1.3" stroke="#1fc31f" stroke-width="1.2" fill="none"/>
<circle cx="354.72" cy="332.56" r="1.3" stroke="#1fc31f" stroke-width="1.2" fill="none"/>
<circle cx="357.60" cy="332.90" r="1.3" stroke="#1fc31f" stroke-width="1.2" fill="none"/>
<circle cx="361.31" cy="332.85" r="1.3" stroke="#1fc31f" stroke-width="1.2" fill="none"/>
<circle cx="364.11" cy="332.64" r="1.3" stroke="#1fc31f" stroke-width="1.2" fill="none"/>
<circle cx="367.33" cy="333.04" r="1.3" stroke="#1fc31f" stroke-width="1.2" fill="none"/>
<circle cx="370.64" cy="332.82" r="1.3" stroke="#1fc31f" stroke-width="1.2" fill="none"/>
<circle cx="373.84" cy="332.67" r="1.3" stroke="#1fc31f" stroke-width="1.2" fill="none"/>
<circle cx="376.78" cy="333.03" r="1.3" stroke="#1fc31f" stroke-width="1.2" fill="none"/>
<circle cx="379.97" cy="332.78" r="1.3" stroke="#1fc31f" stroke-width="1.2" fill="none"/>
<circle cx="382.94" cy="332.82" r="1.3" stroke="#1fc31f" stroke-width="1.2" fill="none"/>
<circle cx="361.30" cy="334.85" r="1.3" stroke="#1fc31f" stroke-width="1.2" fill="none"/>
<circle cx="364.35" cy="335.26" r="1.3" stroke="#1fc31f" stroke-width="1.2" fill="none"/>
<circle cx="367.56" cy="335.22" r="1.3" stroke="#1fc31f" stroke-width="1.2" fill="none"/>
<circle cx="370.66" cy="335.11" r="1.3" stroke="#1fc31f" stroke-width="1.2" fill="none"/>
<circle cx="373.66" cy="335.06" r="1.3" stroke="#1fc31f" stroke-width="1.2" fill="none"/>
<circle cx="376.51" cy="335.29" r="1.3" stroke="#1fc31f" stroke-width="1.2" fill="none"/>
<circle cx="359.49" cy="337.35" r="1.3" stroke="#1fc31f" stroke-width="1.2" fill="none"/>
<circle cx="362.60" cy="337.49" r="1.3" stroke="#1fc31f" stroke-width="1.2" fill="none"/>
<circle cx="365.66" cy="337.42" r="1.3" stroke="#1fc31f" stroke-width="1.2" fill="none"/>
<circle cx="368.92" cy="337.56" r="1.3" stroke="#1fc31f" stroke-width="1.2" fill="none"/>
<circle cx="372.12" cy="337.48" r="1.3" stroke="#1fc31f" stroke-width="1.2" fill="none"/>
<circle cx="374.92" cy="337.36" r="1.3" stroke="#1fc31f" stroke-width="1.2" fill="none"/>
<circle cx="378.16" cy="337.54" r="1.3" stroke="#1fc31f" stroke-width="1.2" fill="none"/>
<circle cx="361.24" cy="340.25" r="1.3" stroke="#1fc31f" stroke-width="1.2" fill="none"/>
<circle cx="364.35" cy="340.26" r="1.3" stroke="#1fc31f" stroke-width="1.2" fill="none"/>
<circle cx="367.18" cy="340.27" r="1.3" stroke="#1fc31f" stroke-width="1.2" fill="none"/>
<circle cx="370.58" cy="339.89" r="1.3" stroke="#1fc31f" stroke-width="1.2" fill="none"/>
<circle cx="373.34" cy="339.86" r="1.3" stroke="#1fc31f" stroke-width="1.2" fill="none"/>
<circle cx="376.93" cy="339.97" r="1.3" stroke="#1fc31f" stroke-width="1.2" fill="none"/>
<circle cx="362.37" cy="343.06" r="1.3" stroke="#1fc31f" stroke-width="1.2" fill="none"/>
<circle cx="365.66" cy="342.78" r="1.3" stroke="#1fc31f" stroke-width="1.2" fill="none"/>
<circle cx="368.70" cy="343.01" r="1.3" stroke="#1fc31f" stroke-width="1.2" fill="none"/>
<circle cx="371.85" cy="342.89" r="1.3" stroke="#1fc31f" stroke-width="1.2" fill="none"/>
<circle cx="375.33" cy="342.98" r="1.3" stroke="#1fc31f" stroke-width="1.2" fill="none"/>
<circle cx="365.64" cy="345.29" r="1.3" stroke="#1fc31f" stroke-width="1.2" fill="none"/>
<circle cx="368.61" cy="345.24" r="1.3" stroke="#1fc31f" stroke-width="1.2" fill="none"/>
<circle cx="372.00" cy="345.14" r="1.3" stroke="#1fc31f" stroke-width="1.2" fill="none"/>
<circle cx="368.67" cy="347.80" r="1.3" stroke="#1fc31f" stroke-width="1.2" fill="none"/>
<circle cx="405.78" cy="267.57" r="1.3" stroke="#161616" stroke-width="1.2" fill="none"/>
<circle cx="406.16" cy="281.18" r="1.3" stroke="#161616" stroke-width="1.2" fill="none"/>
<circle cx="406.00" cy="283.17" r="1.3" stroke="#161616" stroke-width="1.2" fill="none"/>
<circle cx="406.09" cy="285.54" r="1.3" stroke="#161616" stroke-width="1.2" fill="none"/>
<circle cx="405.76" cy="287.06" r="1.3" stroke="#161616" stroke-width="1.2" fill="none"/>
<circle cx="404.63" cy="306.57" r="1.3" stroke="#161616" stroke-width="1.2" fill="none"/>
<circle cx="407.73" cy="306.35" r="1.3" stroke="#161616" stroke-width="1.2" fill="none"/>
<circle cx="405.97" cy="314.91" r="1.3" stroke="#161616" stroke-width="1.2" fill="none"/>
<circle cx="402.69" cy="318.32" r="1.3" stroke="#161616" stroke-width="1.2" fill="none"/>
<circle cx="406.24" cy="317.87" r="1.3" stroke="#161616" stroke-width="1.2" fill="none"/>
<circle cx="408.87" cy="318.12" r="1.3" stroke="#161616" stroke-width="1.2" fill="none"/>
<circle cx="403.11" cy="319.94" r="1.3" stroke="#161616" stroke-width="1.2" fill="none"/>
<circle cx="405.83" cy="319.96" r="1.3" stroke="#161616" stroke-width="1.2" fill="none"/>
<circle cx="408.87" cy="319.86" r="1.3" stroke="#161616" stroke-width="1.2" fill="none"/>
<circle cx="401.24" cy="322.40" r="1.3" stroke="#161616" stroke-width="1.2" fill="none"/>
<circle cx="404.26" cy="322.27" r="1.3" stroke="#161616" stroke-width="1.2" fill="none"/>
<circle cx="407.41" cy="322.38" r="1.3" stroke="#161616" stroke-width="1.2" fill="none"/>
<circle cx="410.60" cy="322.16" r="1.3" stroke="#161616" stroke-width="1.2" fill="none"/>
<circle cx="404.63" cy="324.63" r="1.3" stroke="#161616" stroke-width="1.2" fill="none"/>
<circle cx="407.66" cy="324.44" r="1.3" stroke="#161616" stroke-width="1.2" fill="none"/>
<circle cx="406.30" cy="326.88" r="1.3" stroke="#161616" stroke-width="1.2" fill="none"/>
<circle cx="405.77" cy="328.62" r="1.3" stroke="#161616" stroke-width="1.2" fill="none"/>
<circle cx="398.26" cy="330.71" r="1.3" stroke="#161616" stroke-width="1.2" fill="none"/>
<circle cx="401.54" cy="330.56" r="1.3" stroke="#161616" stroke-width="1.2" fill="none"/>
<circle cx="404.62" cy="330.69" r="1.3" stroke="#161616" stroke-width="1.2" fill="none"/>
<circle cx="407.46" cy="330.64" r="1.3" stroke="#161616" stroke-width="1.2" fill="none"/>
<circle cx="410.95" cy="330.77" r="1.3" stroke="#161616" stroke-width="1.2" fill="none"/>
<circle cx="413.88" cy="330.64" r="1.3" stroke="#161616" stroke-width="1.2" fill="none"/>
<circle cx="397.85" cy="332.37" r="1.3" stroke="#161616" stroke-width="1.2" fill="none"/>
<circle cx="401.45" cy="332.46" r="1.3" stroke="#161616" stroke-width="1.2" fill="none"/>
<circle cx="404.23" cy="332.52" r="1.3" stroke="#161616" stroke-width="1.2" fill="none"/>
<circle cx="407.70" cy="332.59" r="1.3" stroke="#161616" stroke-width="1.2" fill="none"/>
<circle cx="410.65" cy="332.47" r="1.3" stroke="#161616" stroke-width="1.2" fill="none"/>
<circle cx="413.88" cy="332.64" r="1.3" stroke="#161616" stroke-width="1.2" fill="none"/>
<circle cx="401.29" cy="333.85" r="1.3" stroke="#161616" stroke-width="1.2" fill="none"/>
<circle cx="404.42" cy="333.66" r="1.3" stroke="#161616" stroke-width="1.2" fill="none"/>
<circle cx="407.30" cy="334.00" r="1.3" stroke="#161616" stroke-width="1.2" fill="none"/>
<circle cx="411.01" cy="333.95" r="1.3" stroke="#161616" stroke-width="1.2" fill="none"/>
<circle cx="402.79" cy="335.64" r="1.3" stroke="#161616" stroke-width="1.2" fill="none"/>
<circle cx="406.00" cy="336.04" r="1.3" stroke="#161616" stroke-width="1.2" fill="none"/>
<circle cx="409.31" cy="335.82" r="1.3" stroke="#161616" stroke-width="1.2" fill="none"/>
<circle cx="401.49" cy="338.07" r="1.3" stroke="#161616" stroke-width="1.2" fill="none"/>
<circle cx="404.43" cy="338.43" r="1.3" stroke="#161616" stroke-width="1.2" fill="none"/>
<circle cx="407.62" cy="338.18" r="1.3" stroke="#161616" stroke-width="1.2" fill="none"/>
<circle cx="410.59" cy="338.22" r="1.3" stroke="#161616" stroke-width="1.2" fill="none"/>
<circle cx="401.55" cy="339.85" r="1.3" stroke="#161616" stroke-width="1.2" fill="none"/>
<circle cx="404.60" cy="340.26" r="1.3" stroke="#161616" stroke-width="1.2" fill="none"/>
<circle cx="407.81" cy="340.22" r="1.3" stroke="#161616" stroke-width="1.2" fill="none"/>
<circle cx="410.91" cy="340.11" r="1.3" stroke="#161616" stroke-width="1.2" fill="none"/>
<circle cx="402.89" cy="341.96" r="1.3" stroke="#161616" stroke-width="1.2" fill="none"/>
<circle cx="405.73" cy="342.19" r="1.3" stroke="#161616" stroke-width="1.2" fill="none"/>
<circle cx="409.19" cy="341.85" r="1.3" stroke="#161616" stroke-width="1.2" fill="none"/>
<circle cx="391.83" cy="343.89" r="1.3" stroke="#161616" stroke-width="1.2" fill="none"/>
<circle cx="394.89" cy="343.82" r="1.3" stroke="#161616" stroke-width="1.2" fill="none"/>
<circle cx="398.15" cy="343.96" r="1.3" stroke="#161616" stroke-width="1.2" fill="none"/>
<circle cx="401.34" cy="343.88" r="1.3" stroke="#161616" stroke-width="1.2" fill="none"/>
<circle cx="404.14" cy="343.76" r="1.3" stroke="#161616" stroke-width="1.2" fill="none"/>
<circle cx="407.38" cy="343.94" r="1.3" stroke="#161616" stroke-width="1.2" fill="none"/>
<circle cx="410.94" cy="344.05" r="1.3" stroke="#161616" stroke-width="1.2" fill="none"/>
<circle cx="414.05" cy="344.06" r="1.3" stroke="#161616" stroke-width="1.2" fill="none"/>
<circle cx="416.88" cy="344.07" r="1.3" stroke="#161616" stroke-width="1.2" fill="none"/>
<circle cx="420.28" cy="343.69" r="1.3" stroke="#161616" stroke-width="1.2" fill="none"/>
<circle cx="399.41" cy="345.56" r="1.3" stroke="#161616" stroke-width="1.2" fill="none"/>
<circle cx="403.00" cy="345.67" r="1.3" stroke="#161616" stroke-width="1.2" fill="none"/>
<circle cx="405.77" cy="345.86" r="1.3" stroke="#161616" stroke-width="1.2" fill="none"/>
<circle cx="409.06" cy="345.58" r="1.3" stroke="#161616" stroke-width="1.2" fill="none"/>
<circle cx="412.10" cy="345.81" r="1.3" stroke="#161616" stroke-width="1.2" fill="none"/>
<circle cx="399.50" cy="347.69" r="1.3" stroke="#161616" stroke-width="1.2" fill="none"/>
<circle cx="402.98" cy="347.78" r="1.3" stroke="#161616" stroke-width="1.2" fill="none"/>
<circle cx="405.89" cy="347.79" r="1.3" stroke="#161616" stroke-width="1.2" fill="none"/>
<circle cx="408.86" cy="347.74" r="1.3" stroke="#161616" stroke-width="1.2" fill="none"/>
<circle cx="412.25" cy="347.64" r="1.3" stroke="#161616" stroke-width="1.2" fill="none"/>
<circle cx="401.04" cy="349.90" r="1.3" stroke="#161616" stroke-width="1.2" fill="none"/>
<circle cx="404.43" cy="349.55" r="1.3" stroke="#161616" stroke-width="1.2" fill="none"/>
<circle cx="407.64" cy="349.86" r="1.3" stroke="#161616" stroke-width="1.2" fill="none"/>
<circle cx="410.44" cy="349.46" r="1.3" stroke="#161616" stroke-width="1.2" fill="none"/>
<circle cx="404.21" cy="351.21" r="1.3" stroke="#161616" stroke-width="1.2" fill="none"/>
<circle cx="407.37" cy="351.20" r="1.3" stroke="#161616" stroke-width="1.2" fill="none"/>
<rect x="357.50" y="316.00" width="24.10" height="21.40" stroke="#1fc31f" stroke-width="1.1" fill="none"/>
<line x1="357.50" y1="331.00" x2="381.60" y2="331.00" stroke="#1fc31f" stroke-width="1.1"/>
<rect x="394.50" y="322.60" width="23.90" height="21.30" stroke="#111" stroke-width="1.1" fill="none"/>
<line x1="394.50" y1="334.40" x2="418.40" y2="334.40" stroke="#111" stroke-width="1.1"/>
<line x1="387.90" y1="375.50" x2="387.90" y2="388.30" stroke="#111" stroke-width="1.0"/>
<text x="352.80" y="388.30" font-size="12" textLength="33.43" lengthAdjust="spacingAndGlyphs">EGFP</text>
<text x="390.63" y="388.30" font-size="12" font-style="italic" textLength="39.27" lengthAdjust="spacingAndGlyphs">Lnc473</text>
<text x="330.90" y="360.13" font-size="12" transform="rotate(-90 330.90 360.13)" textLength="101.20" lengthAdjust="spacingAndGlyphs">AP half width (ms)</text>
<text x="370.81" y="245.90" font-size="11.4" textLength="33.45" lengthAdjust="spacingAndGlyphs"><tspan font-style="italic">p</tspan>=0.05</text>
<line x1="520.60" y1="245.20" x2="520.60" y2="376.10" stroke="#111" stroke-width="1.1"/>
<line x1="520.10" y1="375.60" x2="593.90" y2="375.60" stroke="#111" stroke-width="1.1"/>
<line x1="518.10" y1="375.50" x2="520.60" y2="375.50" stroke="#111" stroke-width="0.9"/>
<line x1="519.30" y1="370.32" x2="520.60" y2="370.32" stroke="#111" stroke-width="0.9"/>
<line x1="519.30" y1="365.14" x2="520.60" y2="365.14" stroke="#111" stroke-width="0.9"/>
<line x1="519.30" y1="359.96" x2="520.60" y2="359.96" stroke="#111" stroke-width="0.9"/>
<line x1="519.30" y1="354.78" x2="520.60" y2="354.78" stroke="#111" stroke-width="0.9"/>
<line x1="518.10" y1="349.60" x2="520.60" y2="349.60" stroke="#111" stroke-width="0.9"/>
<line x1="519.30" y1="344.42" x2="520.60" y2="344.42" stroke="#111" stroke-width="0.9"/>
<line x1="519.30" y1="339.24" x2="520.60" y2="339.24" stroke="#111" stroke-width="0.9"/>
<line x1="519.30" y1="334.06" x2="520.60" y2="334.06" stroke="#111" stroke-width="0.9"/>
<line x1="519.30" y1="328.88" x2="520.60" y2="328.88" stroke="#111" stroke-width="0.9"/>
<line x1="518.10" y1="323.70" x2="520.60" y2="323.70" stroke="#111" stroke-width="0.9"/>
<line x1="519.30" y1="318.52" x2="520.60" y2="318.52" stroke="#111" stroke-width="0.9"/>
<line x1="519.30" y1="313.34" x2="520.60" y2="313.34" stroke="#111" stroke-width="0.9"/>
<line x1="519.30" y1="308.16" x2="520.60" y2="308.16" stroke="#111" stroke-width="0.9"/>
<line x1="519.30" y1="302.98" x2="520.60" y2="302.98" stroke="#111" stroke-width="0.9"/>
<line x1="518.10" y1="297.80" x2="520.60" y2="297.80" stroke="#111" stroke-width="0.9"/>
<line x1="519.30" y1="292.62" x2="520.60" y2="292.62" stroke="#111" stroke-width="0.9"/>
<line x1="519.30" y1="287.44" x2="520.60" y2="287.44" stroke="#111" stroke-width="0.9"/>
<line x1="519.30" y1="282.26" x2="520.60" y2="282.26" stroke="#111" stroke-width="0.9"/>
<line x1="519.30" y1="277.08" x2="520.60" y2="277.08" stroke="#111" stroke-width="0.9"/>
<line x1="518.10" y1="271.90" x2="520.60" y2="271.90" stroke="#111" stroke-width="0.9"/>
<line x1="519.30" y1="266.72" x2="520.60" y2="266.72" stroke="#111" stroke-width="0.9"/>
<line x1="519.30" y1="261.54" x2="520.60" y2="261.54" stroke="#111" stroke-width="0.9"/>
<line x1="519.30" y1="256.36" x2="520.60" y2="256.36" stroke="#111" stroke-width="0.9"/>
<line x1="519.30" y1="251.18" x2="520.60" y2="251.18" stroke="#111" stroke-width="0.9"/>
<line x1="518.10" y1="246.00" x2="520.60" y2="246.00" stroke="#111" stroke-width="0.9"/>
<text x="498.53" y="249.20" font-size="12">-30</text>
<text x="498.55" y="275.10" font-size="12">-35</text>
<text x="498.53" y="301.00" font-size="12">-40</text>
<text x="498.55" y="326.90" font-size="12">-45</text>
<text x="498.53" y="352.80" font-size="12">-50</text>
<text x="498.55" y="378.70" font-size="12">-55</text>
<line x1="538.90" y1="250.30" x2="575.50" y2="250.30" stroke="#2a2a2a" stroke-width="1.1"/>
<circle cx="538.68" cy="260.97" r="1.3" stroke="#1fc31f" stroke-width="1.2" fill="none"/>
<circle cx="537.48" cy="262.78" r="1.3" stroke="#1fc31f" stroke-width="1.2" fill="none"/>
<circle cx="540.47" cy="262.87" r="1.3" stroke="#1fc31f" stroke-width="1.2" fill="none"/>
<circle cx="538.99" cy="265.54" r="1.3" stroke="#1fc31f" stroke-width="1.2" fill="none"/>
<circle cx="538.66" cy="271.86" r="1.3" stroke="#1fc31f" stroke-width="1.2" fill="none"/>
<circle cx="539.10" cy="278.27" r="1.3" stroke="#1fc31f" stroke-width="1.2" fill="none"/>
<circle cx="537.48" cy="282.85" r="1.3" stroke="#1fc31f" stroke-width="1.2" fill="none"/>
<circle cx="540.44" cy="283.21" r="1.3" stroke="#1fc31f" stroke-width="1.2" fill="none"/>
<circle cx="527.71" cy="288.52" r="1.3" stroke="#1fc31f" stroke-width="1.2" fill="none"/>
<circle cx="531.27" cy="288.07" r="1.3" stroke="#1fc31f" stroke-width="1.2" fill="none"/>
<circle cx="533.89" cy="288.32" r="1.3" stroke="#1fc31f" stroke-width="1.2" fill="none"/>
<circle cx="537.59" cy="288.24" r="1.3" stroke="#1fc31f" stroke-width="1.2" fill="none"/>
<circle cx="540.30" cy="288.26" r="1.3" stroke="#1fc31f" stroke-width="1.2" fill="none"/>
<circle cx="543.34" cy="288.16" r="1.3" stroke="#1fc31f" stroke-width="1.2" fill="none"/>
<circle cx="546.74" cy="288.30" r="1.3" stroke="#1fc31f" stroke-width="1.2" fill="none"/>
<circle cx="549.76" cy="288.17" r="1.3" stroke="#1fc31f" stroke-width="1.2" fill="none"/>
<circle cx="534.01" cy="291.48" r="1.3" stroke="#1fc31f" stroke-width="1.2" fill="none"/>
<circle cx="537.20" cy="291.26" r="1.3" stroke="#1fc31f" stroke-width="1.2" fill="none"/>
<circle cx="540.68" cy="291.53" r="1.3" stroke="#1fc31f" stroke-width="1.2" fill="none"/>
<circle cx="543.71" cy="291.34" r="1.3" stroke="#1fc31f" stroke-width="1.2" fill="none"/>
<circle cx="532.90" cy="299.38" r="1.3" stroke="#1fc31f" stroke-width="1.2" fill="none"/>
<circle cx="535.52" cy="299.12" r="1.3" stroke="#1fc31f" stroke-width="1.2" fill="none"/>
<circle cx="539.03" cy="299.31" r="1.3" stroke="#1fc31f" stroke-width="1.2" fill="none"/>
<circle cx="542.31" cy="299.16" r="1.3" stroke="#1fc31f" stroke-width="1.2" fill="none"/>
<circle cx="545.40" cy="299.29" r="1.3" stroke="#1fc31f" stroke-width="1.2" fill="none"/>
<circle cx="534.06" cy="301.94" r="1.3" stroke="#1fc31f" stroke-width="1.2" fill="none"/>
<circle cx="537.55" cy="302.07" r="1.3" stroke="#1fc31f" stroke-width="1.2" fill="none"/>
<circle cx="540.48" cy="301.94" r="1.3" stroke="#1fc31f" stroke-width="1.2" fill="none"/>
<circle cx="543.35" cy="301.77" r="1.3" stroke="#1fc31f" stroke-width="1.2" fill="none"/>
<circle cx="535.93" cy="304.96" r="1.3" stroke="#1fc31f" stroke-width="1.2" fill="none"/>
<circle cx="538.70" cy="305.02" r="1.3" stroke="#1fc31f" stroke-width="1.2" fill="none"/>
<circle cx="542.17" cy="305.09" r="1.3" stroke="#1fc31f" stroke-width="1.2" fill="none"/>
<circle cx="529.37" cy="308.72" r="1.3" stroke="#1fc31f" stroke-width="1.2" fill="none"/>
<circle cx="532.61" cy="308.89" r="1.3" stroke="#1fc31f" stroke-width="1.2" fill="none"/>
<circle cx="535.76" cy="308.70" r="1.3" stroke="#1fc31f" stroke-width="1.2" fill="none"/>
<circle cx="538.89" cy="308.51" r="1.3" stroke="#1fc31f" stroke-width="1.2" fill="none"/>
<circle cx="541.78" cy="308.85" r="1.3" stroke="#1fc31f" stroke-width="1.2" fill="none"/>
<circle cx="545.49" cy="308.80" r="1.3" stroke="#1fc31f" stroke-width="1.2" fill="none"/>
<circle cx="548.29" cy="308.59" r="1.3" stroke="#1fc31f" stroke-width="1.2" fill="none"/>
<circle cx="534.18" cy="311.49" r="1.3" stroke="#1fc31f" stroke-width="1.2" fill="none"/>
<circle cx="537.49" cy="311.27" r="1.3" stroke="#1fc31f" stroke-width="1.2" fill="none"/>
<circle cx="540.69" cy="311.12" r="1.3" stroke="#1fc31f" stroke-width="1.2" fill="none"/>
<circle cx="543.63" cy="311.48" r="1.3" stroke="#1fc31f" stroke-width="1.2" fill="none"/>
<circle cx="534.22" cy="314.38" r="1.3" stroke="#1fc31f" stroke-width="1.2" fill="none"/>
<circle cx="537.19" cy="314.42" r="1.3" stroke="#1fc31f" stroke-width="1.2" fill="none"/>
<circle cx="540.75" cy="314.15" r="1.3" stroke="#1fc31f" stroke-width="1.2" fill="none"/>
<circle cx="543.80" cy="314.56" r="1.3" stroke="#1fc31f" stroke-width="1.2" fill="none"/>
<circle cx="526.53" cy="317.62" r="1.3" stroke="#1fc31f" stroke-width="1.2" fill="none"/>
<circle cx="529.64" cy="317.51" r="1.3" stroke="#1fc31f" stroke-width="1.2" fill="none"/>
<circle cx="532.64" cy="317.46" r="1.3" stroke="#1fc31f" stroke-width="1.2" fill="none"/>
<circle cx="535.48" cy="317.69" r="1.3" stroke="#1fc31f" stroke-width="1.2" fill="none"/>
<circle cx="538.94" cy="317.35" r="1.3" stroke="#1fc31f" stroke-width="1.2" fill="none"/>
<circle cx="542.05" cy="317.49" r="1.3" stroke="#1fc31f" stroke-width="1.2" fill="none"/>
<circle cx="545.11" cy="317.42" r="1.3" stroke="#1fc31f" stroke-width="1.2" fill="none"/>
<circle cx="548.37" cy="317.56" r="1.3" stroke="#1fc31f" stroke-width="1.2" fill="none"/>
<circle cx="551.57" cy="317.48" r="1.3" stroke="#1fc31f" stroke-width="1.2" fill="none"/>
<circle cx="533.89" cy="320.46" r="1.3" stroke="#1fc31f" stroke-width="1.2" fill="none"/>
<circle cx="537.13" cy="320.64" r="1.3" stroke="#1fc31f" stroke-width="1.2" fill="none"/>
<circle cx="540.69" cy="320.75" r="1.3" stroke="#1fc31f" stroke-width="1.2" fill="none"/>
<circle cx="543.80" cy="320.76" r="1.3" stroke="#1fc31f" stroke-width="1.2" fill="none"/>
<circle cx="535.60" cy="325.97" r="1.3" stroke="#1fc31f" stroke-width="1.2" fill="none"/>
<circle cx="539.00" cy="325.59" r="1.3" stroke="#1fc31f" stroke-width="1.2" fill="none"/>
<circle cx="541.76" cy="325.56" r="1.3" stroke="#1fc31f" stroke-width="1.2" fill="none"/>
<circle cx="535.90" cy="328.87" r="1.3" stroke="#1fc31f" stroke-width="1.2" fill="none"/>
<circle cx="538.67" cy="329.06" r="1.3" stroke="#1fc31f" stroke-width="1.2" fill="none"/>
<circle cx="541.96" cy="328.78" r="1.3" stroke="#1fc31f" stroke-width="1.2" fill="none"/>
<circle cx="537.12" cy="333.11" r="1.3" stroke="#1fc31f" stroke-width="1.2" fill="none"/>
<circle cx="540.28" cy="332.99" r="1.3" stroke="#1fc31f" stroke-width="1.2" fill="none"/>
<circle cx="537.45" cy="336.68" r="1.3" stroke="#1fc31f" stroke-width="1.2" fill="none"/>
<circle cx="540.37" cy="336.69" r="1.3" stroke="#1fc31f" stroke-width="1.2" fill="none"/>
<circle cx="538.61" cy="350.74" r="1.3" stroke="#1fc31f" stroke-width="1.2" fill="none"/>
<circle cx="573.81" cy="275.97" r="1.3" stroke="#161616" stroke-width="1.2" fill="none"/>
<circle cx="577.33" cy="275.68" r="1.3" stroke="#161616" stroke-width="1.2" fill="none"/>
<circle cx="575.60" cy="283.07" r="1.3" stroke="#161616" stroke-width="1.2" fill="none"/>
<circle cx="575.69" cy="290.54" r="1.3" stroke="#161616" stroke-width="1.2" fill="none"/>
<circle cx="572.21" cy="293.26" r="1.3" stroke="#161616" stroke-width="1.2" fill="none"/>
<circle cx="575.80" cy="293.47" r="1.3" stroke="#161616" stroke-width="1.2" fill="none"/>
<circle cx="578.91" cy="293.25" r="1.3" stroke="#161616" stroke-width="1.2" fill="none"/>
<circle cx="572.42" cy="296.81" r="1.3" stroke="#161616" stroke-width="1.2" fill="none"/>
<circle cx="575.44" cy="296.92" r="1.3" stroke="#161616" stroke-width="1.2" fill="none"/>
<circle cx="578.99" cy="296.47" r="1.3" stroke="#161616" stroke-width="1.2" fill="none"/>
<circle cx="572.17" cy="299.82" r="1.3" stroke="#161616" stroke-width="1.2" fill="none"/>
<circle cx="575.86" cy="299.74" r="1.3" stroke="#161616" stroke-width="1.2" fill="none"/>
<circle cx="578.58" cy="299.76" r="1.3" stroke="#161616" stroke-width="1.2" fill="none"/>
<circle cx="572.17" cy="303.16" r="1.3" stroke="#161616" stroke-width="1.2" fill="none"/>
<circle cx="575.56" cy="303.30" r="1.3" stroke="#161616" stroke-width="1.2" fill="none"/>
<circle cx="578.59" cy="303.17" r="1.3" stroke="#161616" stroke-width="1.2" fill="none"/>
<circle cx="572.28" cy="305.98" r="1.3" stroke="#161616" stroke-width="1.2" fill="none"/>
<circle cx="575.47" cy="305.76" r="1.3" stroke="#161616" stroke-width="1.2" fill="none"/>
<circle cx="578.95" cy="306.03" r="1.3" stroke="#161616" stroke-width="1.2" fill="none"/>
<circle cx="570.96" cy="310.04" r="1.3" stroke="#161616" stroke-width="1.2" fill="none"/>
<circle cx="574.32" cy="310.38" r="1.3" stroke="#161616" stroke-width="1.2" fill="none"/>
<circle cx="576.95" cy="310.12" r="1.3" stroke="#161616" stroke-width="1.2" fill="none"/>
<circle cx="580.46" cy="310.31" r="1.3" stroke="#161616" stroke-width="1.2" fill="none"/>
<circle cx="564.84" cy="314.36" r="1.3" stroke="#161616" stroke-width="1.2" fill="none"/>
<circle cx="567.92" cy="314.49" r="1.3" stroke="#161616" stroke-width="1.2" fill="none"/>
<circle cx="570.76" cy="314.44" r="1.3" stroke="#161616" stroke-width="1.2" fill="none"/>
<circle cx="574.25" cy="314.57" r="1.3" stroke="#161616" stroke-width="1.2" fill="none"/>
<circle cx="577.18" cy="314.44" r="1.3" stroke="#161616" stroke-width="1.2" fill="none"/>
<circle cx="580.05" cy="314.27" r="1.3" stroke="#161616" stroke-width="1.2" fill="none"/>
<circle cx="583.65" cy="314.36" r="1.3" stroke="#161616" stroke-width="1.2" fill="none"/>
<circle cx="586.43" cy="314.42" r="1.3" stroke="#161616" stroke-width="1.2" fill="none"/>
<circle cx="571.00" cy="317.59" r="1.3" stroke="#161616" stroke-width="1.2" fill="none"/>
<circle cx="573.95" cy="317.47" r="1.3" stroke="#161616" stroke-width="1.2" fill="none"/>
<circle cx="577.18" cy="317.64" r="1.3" stroke="#161616" stroke-width="1.2" fill="none"/>
<circle cx="580.34" cy="317.45" r="1.3" stroke="#161616" stroke-width="1.2" fill="none"/>
<circle cx="570.87" cy="321.01" r="1.3" stroke="#161616" stroke-width="1.2" fill="none"/>
<circle cx="573.75" cy="321.35" r="1.3" stroke="#161616" stroke-width="1.2" fill="none"/>
<circle cx="577.46" cy="321.30" r="1.3" stroke="#161616" stroke-width="1.2" fill="none"/>
<circle cx="580.26" cy="321.09" r="1.3" stroke="#161616" stroke-width="1.2" fill="none"/>
<circle cx="569.30" cy="325.04" r="1.3" stroke="#161616" stroke-width="1.2" fill="none"/>
<circle cx="572.61" cy="324.82" r="1.3" stroke="#161616" stroke-width="1.2" fill="none"/>
<circle cx="575.82" cy="324.67" r="1.3" stroke="#161616" stroke-width="1.2" fill="none"/>
<circle cx="578.76" cy="325.03" r="1.3" stroke="#161616" stroke-width="1.2" fill="none"/>
<circle cx="581.95" cy="324.78" r="1.3" stroke="#161616" stroke-width="1.2" fill="none"/>
<circle cx="569.16" cy="327.92" r="1.3" stroke="#161616" stroke-width="1.2" fill="none"/>
<circle cx="572.72" cy="327.65" r="1.3" stroke="#161616" stroke-width="1.2" fill="none"/>
<circle cx="575.77" cy="328.06" r="1.3" stroke="#161616" stroke-width="1.2" fill="none"/>
<circle cx="578.98" cy="328.02" r="1.3" stroke="#161616" stroke-width="1.2" fill="none"/>
<circle cx="582.09" cy="327.91" r="1.3" stroke="#161616" stroke-width="1.2" fill="none"/>
<circle cx="570.91" cy="330.96" r="1.3" stroke="#161616" stroke-width="1.2" fill="none"/>
<circle cx="573.76" cy="331.19" r="1.3" stroke="#161616" stroke-width="1.2" fill="none"/>
<circle cx="577.22" cy="330.85" r="1.3" stroke="#161616" stroke-width="1.2" fill="none"/>
<circle cx="580.33" cy="330.99" r="1.3" stroke="#161616" stroke-width="1.2" fill="none"/>
<circle cx="573.94" cy="334.12" r="1.3" stroke="#161616" stroke-width="1.2" fill="none"/>
<circle cx="577.20" cy="334.26" r="1.3" stroke="#161616" stroke-width="1.2" fill="none"/>
<circle cx="574.09" cy="337.28" r="1.3" stroke="#161616" stroke-width="1.2" fill="none"/>
<circle cx="576.89" cy="337.16" r="1.3" stroke="#161616" stroke-width="1.2" fill="none"/>
<circle cx="575.41" cy="340.84" r="1.3" stroke="#161616" stroke-width="1.2" fill="none"/>
<circle cx="575.82" cy="371.85" r="1.3" stroke="#161616" stroke-width="1.2" fill="none"/>
<rect x="527.00" y="293.40" width="24.60" height="24.30" stroke="#1fc31f" stroke-width="1.1" fill="none"/>
<line x1="527.00" y1="308.60" x2="551.60" y2="308.60" stroke="#1fc31f" stroke-width="1.1"/>
<rect x="563.80" y="304.70" width="23.80" height="21.50" stroke="#111" stroke-width="1.1" fill="none"/>
<line x1="563.80" y1="316.00" x2="587.60" y2="316.00" stroke="#111" stroke-width="1.1"/>
<line x1="557.10" y1="375.60" x2="557.10" y2="388.40" stroke="#111" stroke-width="1.0"/>
<text x="522.41" y="388.30" font-size="12" textLength="33.22" lengthAdjust="spacingAndGlyphs">EGFP</text>
<text x="559.72" y="388.30" font-size="12" font-style="italic" textLength="39.88" lengthAdjust="spacingAndGlyphs">Lnc473</text>
<text x="493.50" y="360.13" font-size="12" transform="rotate(-90 493.50 360.13)" textLength="99.08" lengthAdjust="spacingAndGlyphs">AP threshold (mV)</text>
<text x="554.54" y="250.40" font-size="13.7">*</text>
<line x1="679.70" y1="245.00" x2="679.70" y2="376.10" stroke="#111" stroke-width="1.1"/>
<line x1="679.20" y1="375.60" x2="753.20" y2="375.60" stroke="#111" stroke-width="1.1"/>
<line x1="677.20" y1="375.51" x2="679.70" y2="375.51" stroke="#111" stroke-width="0.9"/>
<line x1="678.40" y1="366.86" x2="679.70" y2="366.86" stroke="#111" stroke-width="0.9"/>
<line x1="678.40" y1="358.20" x2="679.70" y2="358.20" stroke="#111" stroke-width="0.9"/>
<line x1="678.40" y1="349.55" x2="679.70" y2="349.55" stroke="#111" stroke-width="0.9"/>
<line x1="678.40" y1="340.89" x2="679.70" y2="340.89" stroke="#111" stroke-width="0.9"/>
<line x1="677.20" y1="332.24" x2="679.70" y2="332.24" stroke="#111" stroke-width="0.9"/>
<line x1="678.40" y1="323.59" x2="679.70" y2="323.59" stroke="#111" stroke-width="0.9"/>
<line x1="678.40" y1="314.93" x2="679.70" y2="314.93" stroke="#111" stroke-width="0.9"/>
<line x1="678.40" y1="306.28" x2="679.70" y2="306.28" stroke="#111" stroke-width="0.9"/>
<line x1="678.40" y1="297.62" x2="679.70" y2="297.62" stroke="#111" stroke-width="0.9"/>
<line x1="677.20" y1="288.97" x2="679.70" y2="288.97" stroke="#111" stroke-width="0.9"/>
<line x1="678.40" y1="280.32" x2="679.70" y2="280.32" stroke="#111" stroke-width="0.9"/>
<line x1="678.40" y1="271.66" x2="679.70" y2="271.66" stroke="#111" stroke-width="0.9"/>
<line x1="678.40" y1="263.01" x2="679.70" y2="263.01" stroke="#111" stroke-width="0.9"/>
<line x1="678.40" y1="254.35" x2="679.70" y2="254.35" stroke="#111" stroke-width="0.9"/>
<line x1="677.20" y1="245.70" x2="679.70" y2="245.70" stroke="#111" stroke-width="0.9"/>
<text x="668.30" y="248.60" font-size="12">0</text>
<text x="657.62" y="291.87" font-size="12">-10</text>
<text x="657.62" y="335.14" font-size="12">-20</text>
<text x="657.62" y="378.41" font-size="12">-30</text>
<line x1="698.10" y1="250.50" x2="735.00" y2="250.50" stroke="#2a2a2a" stroke-width="1.1"/>
<circle cx="697.68" cy="273.17" r="1.3" stroke="#1fc31f" stroke-width="1.2" fill="none"/>
<circle cx="696.48" cy="276.08" r="1.3" stroke="#1fc31f" stroke-width="1.2" fill="none"/>
<circle cx="699.47" cy="276.17" r="1.3" stroke="#1fc31f" stroke-width="1.2" fill="none"/>
<circle cx="696.42" cy="279.24" r="1.3" stroke="#1fc31f" stroke-width="1.2" fill="none"/>
<circle cx="699.23" cy="278.86" r="1.3" stroke="#1fc31f" stroke-width="1.2" fill="none"/>
<circle cx="694.95" cy="284.37" r="1.3" stroke="#1fc31f" stroke-width="1.2" fill="none"/>
<circle cx="698.06" cy="284.15" r="1.3" stroke="#1fc31f" stroke-width="1.2" fill="none"/>
<circle cx="701.02" cy="284.51" r="1.3" stroke="#1fc31f" stroke-width="1.2" fill="none"/>
<circle cx="696.16" cy="288.82" r="1.3" stroke="#1fc31f" stroke-width="1.2" fill="none"/>
<circle cx="699.72" cy="288.37" r="1.3" stroke="#1fc31f" stroke-width="1.2" fill="none"/>
<circle cx="691.32" cy="291.52" r="1.3" stroke="#1fc31f" stroke-width="1.2" fill="none"/>
<circle cx="695.01" cy="291.44" r="1.3" stroke="#1fc31f" stroke-width="1.2" fill="none"/>
<circle cx="697.73" cy="291.46" r="1.3" stroke="#1fc31f" stroke-width="1.2" fill="none"/>
<circle cx="700.77" cy="291.36" r="1.3" stroke="#1fc31f" stroke-width="1.2" fill="none"/>
<circle cx="704.16" cy="291.50" r="1.3" stroke="#1fc31f" stroke-width="1.2" fill="none"/>
<circle cx="694.59" cy="294.27" r="1.3" stroke="#1fc31f" stroke-width="1.2" fill="none"/>
<circle cx="697.73" cy="294.38" r="1.3" stroke="#1fc31f" stroke-width="1.2" fill="none"/>
<circle cx="700.92" cy="294.16" r="1.3" stroke="#1fc31f" stroke-width="1.2" fill="none"/>
<circle cx="694.95" cy="297.23" r="1.3" stroke="#1fc31f" stroke-width="1.2" fill="none"/>
<circle cx="697.99" cy="297.04" r="1.3" stroke="#1fc31f" stroke-width="1.2" fill="none"/>
<circle cx="701.35" cy="297.38" r="1.3" stroke="#1fc31f" stroke-width="1.2" fill="none"/>
<circle cx="696.10" cy="300.42" r="1.3" stroke="#1fc31f" stroke-width="1.2" fill="none"/>
<circle cx="699.61" cy="300.61" r="1.3" stroke="#1fc31f" stroke-width="1.2" fill="none"/>
<circle cx="682.41" cy="303.86" r="1.3" stroke="#1fc31f" stroke-width="1.2" fill="none"/>
<circle cx="685.50" cy="303.99" r="1.3" stroke="#1fc31f" stroke-width="1.2" fill="none"/>
<circle cx="688.33" cy="303.94" r="1.3" stroke="#1fc31f" stroke-width="1.2" fill="none"/>
<circle cx="691.83" cy="304.07" r="1.3" stroke="#1fc31f" stroke-width="1.2" fill="none"/>
<circle cx="694.75" cy="303.94" r="1.3" stroke="#1fc31f" stroke-width="1.2" fill="none"/>
<circle cx="697.62" cy="303.77" r="1.3" stroke="#1fc31f" stroke-width="1.2" fill="none"/>
<circle cx="701.23" cy="303.86" r="1.3" stroke="#1fc31f" stroke-width="1.2" fill="none"/>
<circle cx="704.00" cy="303.92" r="1.3" stroke="#1fc31f" stroke-width="1.2" fill="none"/>
<circle cx="707.47" cy="303.99" r="1.3" stroke="#1fc31f" stroke-width="1.2" fill="none"/>
<circle cx="710.42" cy="303.87" r="1.3" stroke="#1fc31f" stroke-width="1.2" fill="none"/>
<circle cx="713.66" cy="304.04" r="1.3" stroke="#1fc31f" stroke-width="1.2" fill="none"/>
<circle cx="691.61" cy="306.75" r="1.3" stroke="#1fc31f" stroke-width="1.2" fill="none"/>
<circle cx="694.74" cy="306.56" r="1.3" stroke="#1fc31f" stroke-width="1.2" fill="none"/>
<circle cx="697.63" cy="306.90" r="1.3" stroke="#1fc31f" stroke-width="1.2" fill="none"/>
<circle cx="701.34" cy="306.85" r="1.3" stroke="#1fc31f" stroke-width="1.2" fill="none"/>
<circle cx="704.14" cy="306.64" r="1.3" stroke="#1fc31f" stroke-width="1.2" fill="none"/>
<circle cx="693.18" cy="309.84" r="1.3" stroke="#1fc31f" stroke-width="1.2" fill="none"/>
<circle cx="696.49" cy="309.62" r="1.3" stroke="#1fc31f" stroke-width="1.2" fill="none"/>
<circle cx="699.69" cy="309.47" r="1.3" stroke="#1fc31f" stroke-width="1.2" fill="none"/>
<circle cx="702.63" cy="309.83" r="1.3" stroke="#1fc31f" stroke-width="1.2" fill="none"/>
<circle cx="693.22" cy="312.48" r="1.3" stroke="#1fc31f" stroke-width="1.2" fill="none"/>
<circle cx="696.19" cy="312.52" r="1.3" stroke="#1fc31f" stroke-width="1.2" fill="none"/>
<circle cx="699.75" cy="312.25" r="1.3" stroke="#1fc31f" stroke-width="1.2" fill="none"/>
<circle cx="702.80" cy="312.66" r="1.3" stroke="#1fc31f" stroke-width="1.2" fill="none"/>
<circle cx="693.41" cy="315.42" r="1.3" stroke="#1fc31f" stroke-width="1.2" fill="none"/>
<circle cx="696.51" cy="315.31" r="1.3" stroke="#1fc31f" stroke-width="1.2" fill="none"/>
<circle cx="699.51" cy="315.26" r="1.3" stroke="#1fc31f" stroke-width="1.2" fill="none"/>
<circle cx="702.36" cy="315.49" r="1.3" stroke="#1fc31f" stroke-width="1.2" fill="none"/>
<circle cx="694.79" cy="318.05" r="1.3" stroke="#1fc31f" stroke-width="1.2" fill="none"/>
<circle cx="697.90" cy="318.19" r="1.3" stroke="#1fc31f" stroke-width="1.2" fill="none"/>
<circle cx="700.96" cy="318.12" r="1.3" stroke="#1fc31f" stroke-width="1.2" fill="none"/>
<circle cx="693.20" cy="321.16" r="1.3" stroke="#1fc31f" stroke-width="1.2" fill="none"/>
<circle cx="696.39" cy="321.08" r="1.3" stroke="#1fc31f" stroke-width="1.2" fill="none"/>
<circle cx="699.19" cy="320.96" r="1.3" stroke="#1fc31f" stroke-width="1.2" fill="none"/>
<circle cx="702.43" cy="321.14" r="1.3" stroke="#1fc31f" stroke-width="1.2" fill="none"/>
<circle cx="696.54" cy="325.05" r="1.3" stroke="#1fc31f" stroke-width="1.2" fill="none"/>
<circle cx="699.65" cy="325.06" r="1.3" stroke="#1fc31f" stroke-width="1.2" fill="none"/>
<circle cx="696.18" cy="331.77" r="1.3" stroke="#1fc31f" stroke-width="1.2" fill="none"/>
<circle cx="699.58" cy="331.39" r="1.3" stroke="#1fc31f" stroke-width="1.2" fill="none"/>
<circle cx="696.04" cy="334.16" r="1.3" stroke="#1fc31f" stroke-width="1.2" fill="none"/>
<circle cx="699.63" cy="334.27" r="1.3" stroke="#1fc31f" stroke-width="1.2" fill="none"/>
<circle cx="696.09" cy="337.36" r="1.3" stroke="#1fc31f" stroke-width="1.2" fill="none"/>
<circle cx="699.38" cy="337.08" r="1.3" stroke="#1fc31f" stroke-width="1.2" fill="none"/>
<circle cx="696.12" cy="340.21" r="1.3" stroke="#1fc31f" stroke-width="1.2" fill="none"/>
<circle cx="699.28" cy="340.09" r="1.3" stroke="#1fc31f" stroke-width="1.2" fill="none"/>
<circle cx="698.03" cy="353.48" r="1.3" stroke="#1fc31f" stroke-width="1.2" fill="none"/>
<circle cx="697.79" cy="356.39" r="1.3" stroke="#1fc31f" stroke-width="1.2" fill="none"/>
<circle cx="734.48" cy="267.47" r="1.3" stroke="#161616" stroke-width="1.2" fill="none"/>
<circle cx="734.86" cy="276.08" r="1.3" stroke="#161616" stroke-width="1.2" fill="none"/>
<circle cx="734.70" cy="278.67" r="1.3" stroke="#161616" stroke-width="1.2" fill="none"/>
<circle cx="730.07" cy="283.04" r="1.3" stroke="#161616" stroke-width="1.2" fill="none"/>
<circle cx="732.88" cy="282.66" r="1.3" stroke="#161616" stroke-width="1.2" fill="none"/>
<circle cx="736.48" cy="282.87" r="1.3" stroke="#161616" stroke-width="1.2" fill="none"/>
<circle cx="739.58" cy="282.65" r="1.3" stroke="#161616" stroke-width="1.2" fill="none"/>
<circle cx="729.94" cy="285.91" r="1.3" stroke="#161616" stroke-width="1.2" fill="none"/>
<circle cx="732.96" cy="286.02" r="1.3" stroke="#161616" stroke-width="1.2" fill="none"/>
<circle cx="736.52" cy="285.57" r="1.3" stroke="#161616" stroke-width="1.2" fill="none"/>
<circle cx="739.14" cy="285.82" r="1.3" stroke="#161616" stroke-width="1.2" fill="none"/>
<circle cx="722.36" cy="288.54" r="1.3" stroke="#161616" stroke-width="1.2" fill="none"/>
<circle cx="725.08" cy="288.56" r="1.3" stroke="#161616" stroke-width="1.2" fill="none"/>
<circle cx="728.12" cy="288.46" r="1.3" stroke="#161616" stroke-width="1.2" fill="none"/>
<circle cx="731.51" cy="288.60" r="1.3" stroke="#161616" stroke-width="1.2" fill="none"/>
<circle cx="734.54" cy="288.47" r="1.3" stroke="#161616" stroke-width="1.2" fill="none"/>
<circle cx="737.68" cy="288.58" r="1.3" stroke="#161616" stroke-width="1.2" fill="none"/>
<circle cx="740.87" cy="288.36" r="1.3" stroke="#161616" stroke-width="1.2" fill="none"/>
<circle cx="744.35" cy="288.63" r="1.3" stroke="#161616" stroke-width="1.2" fill="none"/>
<circle cx="747.39" cy="288.44" r="1.3" stroke="#161616" stroke-width="1.2" fill="none"/>
<circle cx="730.27" cy="294.58" r="1.3" stroke="#161616" stroke-width="1.2" fill="none"/>
<circle cx="732.90" cy="294.32" r="1.3" stroke="#161616" stroke-width="1.2" fill="none"/>
<circle cx="736.41" cy="294.51" r="1.3" stroke="#161616" stroke-width="1.2" fill="none"/>
<circle cx="739.69" cy="294.36" r="1.3" stroke="#161616" stroke-width="1.2" fill="none"/>
<circle cx="730.17" cy="297.29" r="1.3" stroke="#161616" stroke-width="1.2" fill="none"/>
<circle cx="733.01" cy="297.24" r="1.3" stroke="#161616" stroke-width="1.2" fill="none"/>
<circle cx="736.50" cy="297.37" r="1.3" stroke="#161616" stroke-width="1.2" fill="none"/>
<circle cx="739.43" cy="297.24" r="1.3" stroke="#161616" stroke-width="1.2" fill="none"/>
<circle cx="732.85" cy="299.97" r="1.3" stroke="#161616" stroke-width="1.2" fill="none"/>
<circle cx="736.45" cy="300.06" r="1.3" stroke="#161616" stroke-width="1.2" fill="none"/>
<circle cx="720.33" cy="302.92" r="1.3" stroke="#161616" stroke-width="1.2" fill="none"/>
<circle cx="723.80" cy="302.99" r="1.3" stroke="#161616" stroke-width="1.2" fill="none"/>
<circle cx="726.75" cy="302.87" r="1.3" stroke="#161616" stroke-width="1.2" fill="none"/>
<circle cx="729.98" cy="303.04" r="1.3" stroke="#161616" stroke-width="1.2" fill="none"/>
<circle cx="733.14" cy="302.85" r="1.3" stroke="#161616" stroke-width="1.2" fill="none"/>
<circle cx="736.27" cy="302.66" r="1.3" stroke="#161616" stroke-width="1.2" fill="none"/>
<circle cx="739.15" cy="303.00" r="1.3" stroke="#161616" stroke-width="1.2" fill="none"/>
<circle cx="742.86" cy="302.95" r="1.3" stroke="#161616" stroke-width="1.2" fill="none"/>
<circle cx="745.66" cy="302.74" r="1.3" stroke="#161616" stroke-width="1.2" fill="none"/>
<circle cx="748.88" cy="303.14" r="1.3" stroke="#161616" stroke-width="1.2" fill="none"/>
<circle cx="730.14" cy="305.82" r="1.3" stroke="#161616" stroke-width="1.2" fill="none"/>
<circle cx="733.34" cy="305.67" r="1.3" stroke="#161616" stroke-width="1.2" fill="none"/>
<circle cx="736.28" cy="306.03" r="1.3" stroke="#161616" stroke-width="1.2" fill="none"/>
<circle cx="739.47" cy="305.78" r="1.3" stroke="#161616" stroke-width="1.2" fill="none"/>
<circle cx="731.41" cy="308.72" r="1.3" stroke="#161616" stroke-width="1.2" fill="none"/>
<circle cx="734.97" cy="308.45" r="1.3" stroke="#161616" stroke-width="1.2" fill="none"/>
<circle cx="738.02" cy="308.86" r="1.3" stroke="#161616" stroke-width="1.2" fill="none"/>
<circle cx="731.78" cy="312.02" r="1.3" stroke="#161616" stroke-width="1.2" fill="none"/>
<circle cx="734.89" cy="311.91" r="1.3" stroke="#161616" stroke-width="1.2" fill="none"/>
<circle cx="737.89" cy="311.86" r="1.3" stroke="#161616" stroke-width="1.2" fill="none"/>
<circle cx="721.83" cy="315.19" r="1.3" stroke="#161616" stroke-width="1.2" fill="none"/>
<circle cx="725.29" cy="314.85" r="1.3" stroke="#161616" stroke-width="1.2" fill="none"/>
<circle cx="728.40" cy="314.99" r="1.3" stroke="#161616" stroke-width="1.2" fill="none"/>
<circle cx="731.46" cy="314.92" r="1.3" stroke="#161616" stroke-width="1.2" fill="none"/>
<circle cx="734.72" cy="315.06" r="1.3" stroke="#161616" stroke-width="1.2" fill="none"/>
<circle cx="737.92" cy="314.98" r="1.3" stroke="#161616" stroke-width="1.2" fill="none"/>
<circle cx="740.72" cy="314.86" r="1.3" stroke="#161616" stroke-width="1.2" fill="none"/>
<circle cx="743.96" cy="315.04" r="1.3" stroke="#161616" stroke-width="1.2" fill="none"/>
<circle cx="747.52" cy="315.15" r="1.3" stroke="#161616" stroke-width="1.2" fill="none"/>
<circle cx="730.15" cy="318.36" r="1.3" stroke="#161616" stroke-width="1.2" fill="none"/>
<circle cx="732.98" cy="318.37" r="1.3" stroke="#161616" stroke-width="1.2" fill="none"/>
<circle cx="736.38" cy="317.99" r="1.3" stroke="#161616" stroke-width="1.2" fill="none"/>
<circle cx="739.14" cy="317.96" r="1.3" stroke="#161616" stroke-width="1.2" fill="none"/>
<circle cx="731.70" cy="320.97" r="1.3" stroke="#161616" stroke-width="1.2" fill="none"/>
<circle cx="734.47" cy="321.16" r="1.3" stroke="#161616" stroke-width="1.2" fill="none"/>
<circle cx="737.76" cy="320.88" r="1.3" stroke="#161616" stroke-width="1.2" fill="none"/>
<circle cx="732.92" cy="324.91" r="1.3" stroke="#161616" stroke-width="1.2" fill="none"/>
<circle cx="736.08" cy="324.79" r="1.3" stroke="#161616" stroke-width="1.2" fill="none"/>
<circle cx="734.83" cy="327.68" r="1.3" stroke="#161616" stroke-width="1.2" fill="none"/>
<circle cx="734.59" cy="338.19" r="1.3" stroke="#161616" stroke-width="1.2" fill="none"/>
<circle cx="734.41" cy="346.74" r="1.3" stroke="#161616" stroke-width="1.2" fill="none"/>
<circle cx="733.08" cy="348.54" r="1.3" stroke="#161616" stroke-width="1.2" fill="none"/>
<circle cx="736.04" cy="348.90" r="1.3" stroke="#161616" stroke-width="1.2" fill="none"/>
<circle cx="734.71" cy="365.75" r="1.3" stroke="#161616" stroke-width="1.2" fill="none"/>
<rect x="686.20" y="295.00" width="24.20" height="26.20" stroke="#1fc31f" stroke-width="1.1" fill="none"/>
<line x1="686.20" y1="305.10" x2="710.40" y2="305.10" stroke="#1fc31f" stroke-width="1.1"/>
<rect x="723.30" y="289.70" width="23.70" height="25.50" stroke="#111" stroke-width="1.1" fill="none"/>
<line x1="723.30" y1="302.70" x2="747.00" y2="302.70" stroke="#111" stroke-width="1.1"/>
<line x1="716.80" y1="375.60" x2="716.80" y2="388.40" stroke="#111" stroke-width="1.0"/>
<text x="681.60" y="388.30" font-size="12" textLength="33.43" lengthAdjust="spacingAndGlyphs">EGFP</text>
<text x="719.12" y="388.30" font-size="12" font-style="italic" textLength="39.98" lengthAdjust="spacingAndGlyphs">Lnc473</text>
<text x="654.60" y="365.33" font-size="12" transform="rotate(-90 654.60 365.33)" textLength="109.53" lengthAdjust="spacingAndGlyphs">AHP amplitude (mV)</text>
<text x="710.40" y="247.90" font-size="12.4" textLength="12.63" lengthAdjust="spacingAndGlyphs">ns</text>
<line x1="63.90" y1="427.20" x2="63.90" y2="559.10" stroke="#111" stroke-width="1.1"/>
<line x1="63.40" y1="558.60" x2="137.40" y2="558.60" stroke="#111" stroke-width="1.1"/>
<line x1="61.40" y1="558.60" x2="63.90" y2="558.60" stroke="#111" stroke-width="0.9"/>
<line x1="62.60" y1="547.79" x2="63.90" y2="547.79" stroke="#111" stroke-width="0.9"/>
<line x1="61.40" y1="536.98" x2="63.90" y2="536.98" stroke="#111" stroke-width="0.9"/>
<line x1="62.60" y1="526.17" x2="63.90" y2="526.17" stroke="#111" stroke-width="0.9"/>
<line x1="61.40" y1="515.36" x2="63.90" y2="515.36" stroke="#111" stroke-width="0.9"/>
<line x1="62.60" y1="504.55" x2="63.90" y2="504.55" stroke="#111" stroke-width="0.9"/>
<line x1="61.40" y1="493.74" x2="63.90" y2="493.74" stroke="#111" stroke-width="0.9"/>
<line x1="62.60" y1="482.93" x2="63.90" y2="482.93" stroke="#111" stroke-width="0.9"/>
<line x1="61.40" y1="472.12" x2="63.90" y2="472.12" stroke="#111" stroke-width="0.9"/>
<line x1="62.60" y1="461.31" x2="63.90" y2="461.31" stroke="#111" stroke-width="0.9"/>
<line x1="61.40" y1="450.50" x2="63.90" y2="450.50" stroke="#111" stroke-width="0.9"/>
<line x1="62.60" y1="439.69" x2="63.90" y2="439.69" stroke="#111" stroke-width="0.9"/>
<line x1="61.40" y1="428.88" x2="63.90" y2="428.88" stroke="#111" stroke-width="0.9"/>
<text x="52.60" y="562.30" font-size="12">0</text>
<text x="45.93" y="540.68" font-size="12">20</text>
<text x="45.93" y="519.06" font-size="12">40</text>
<text x="45.93" y="497.44" font-size="12">60</text>
<text x="45.93" y="475.82" font-size="12">80</text>
<text x="39.25" y="454.20" font-size="12">100</text>
<text x="39.25" y="432.58" font-size="12">120</text>
<line x1="82.40" y1="434.30" x2="119.60" y2="434.30" stroke="#2a2a2a" stroke-width="1.1"/>
<circle cx="81.98" cy="450.07" r="1.3" stroke="#1fc31f" stroke-width="1.2" fill="none"/>
<circle cx="82.36" cy="459.18" r="1.3" stroke="#1fc31f" stroke-width="1.2" fill="none"/>
<circle cx="82.20" cy="481.47" r="1.3" stroke="#1fc31f" stroke-width="1.2" fill="none"/>
<circle cx="82.29" cy="493.24" r="1.3" stroke="#1fc31f" stroke-width="1.2" fill="none"/>
<circle cx="81.96" cy="494.46" r="1.3" stroke="#1fc31f" stroke-width="1.2" fill="none"/>
<circle cx="82.40" cy="496.77" r="1.3" stroke="#1fc31f" stroke-width="1.2" fill="none"/>
<circle cx="82.36" cy="502.65" r="1.3" stroke="#1fc31f" stroke-width="1.2" fill="none"/>
<circle cx="82.17" cy="505.81" r="1.3" stroke="#1fc31f" stroke-width="1.2" fill="none"/>
<circle cx="75.74" cy="512.12" r="1.3" stroke="#1fc31f" stroke-width="1.2" fill="none"/>
<circle cx="79.29" cy="511.67" r="1.3" stroke="#1fc31f" stroke-width="1.2" fill="none"/>
<circle cx="81.92" cy="511.92" r="1.3" stroke="#1fc31f" stroke-width="1.2" fill="none"/>
<circle cx="85.61" cy="511.84" r="1.3" stroke="#1fc31f" stroke-width="1.2" fill="none"/>
<circle cx="88.33" cy="511.86" r="1.3" stroke="#1fc31f" stroke-width="1.2" fill="none"/>
<circle cx="80.34" cy="514.06" r="1.3" stroke="#1fc31f" stroke-width="1.2" fill="none"/>
<circle cx="83.74" cy="514.20" r="1.3" stroke="#1fc31f" stroke-width="1.2" fill="none"/>
<circle cx="80.46" cy="515.67" r="1.3" stroke="#1fc31f" stroke-width="1.2" fill="none"/>
<circle cx="83.61" cy="515.78" r="1.3" stroke="#1fc31f" stroke-width="1.2" fill="none"/>
<circle cx="82.07" cy="518.66" r="1.3" stroke="#1fc31f" stroke-width="1.2" fill="none"/>
<circle cx="80.83" cy="520.13" r="1.3" stroke="#1fc31f" stroke-width="1.2" fill="none"/>
<circle cx="83.86" cy="519.94" r="1.3" stroke="#1fc31f" stroke-width="1.2" fill="none"/>
<circle cx="80.92" cy="522.18" r="1.3" stroke="#1fc31f" stroke-width="1.2" fill="none"/>
<circle cx="83.55" cy="521.92" r="1.3" stroke="#1fc31f" stroke-width="1.2" fill="none"/>
<circle cx="77.61" cy="525.31" r="1.3" stroke="#1fc31f" stroke-width="1.2" fill="none"/>
<circle cx="80.89" cy="525.16" r="1.3" stroke="#1fc31f" stroke-width="1.2" fill="none"/>
<circle cx="83.97" cy="525.29" r="1.3" stroke="#1fc31f" stroke-width="1.2" fill="none"/>
<circle cx="86.81" cy="525.24" r="1.3" stroke="#1fc31f" stroke-width="1.2" fill="none"/>
<circle cx="79.28" cy="526.87" r="1.3" stroke="#1fc31f" stroke-width="1.2" fill="none"/>
<circle cx="82.20" cy="526.74" r="1.3" stroke="#1fc31f" stroke-width="1.2" fill="none"/>
<circle cx="85.07" cy="526.57" r="1.3" stroke="#1fc31f" stroke-width="1.2" fill="none"/>
<circle cx="77.65" cy="529.06" r="1.3" stroke="#1fc31f" stroke-width="1.2" fill="none"/>
<circle cx="80.43" cy="529.12" r="1.3" stroke="#1fc31f" stroke-width="1.2" fill="none"/>
<circle cx="83.90" cy="529.19" r="1.3" stroke="#1fc31f" stroke-width="1.2" fill="none"/>
<circle cx="86.85" cy="529.07" r="1.3" stroke="#1fc31f" stroke-width="1.2" fill="none"/>
<circle cx="79.06" cy="531.54" r="1.3" stroke="#1fc31f" stroke-width="1.2" fill="none"/>
<circle cx="82.21" cy="531.35" r="1.3" stroke="#1fc31f" stroke-width="1.2" fill="none"/>
<circle cx="85.34" cy="531.16" r="1.3" stroke="#1fc31f" stroke-width="1.2" fill="none"/>
<circle cx="70.90" cy="532.70" r="1.3" stroke="#1fc31f" stroke-width="1.2" fill="none"/>
<circle cx="74.61" cy="532.65" r="1.3" stroke="#1fc31f" stroke-width="1.2" fill="none"/>
<circle cx="77.41" cy="532.44" r="1.3" stroke="#1fc31f" stroke-width="1.2" fill="none"/>
<circle cx="80.63" cy="532.84" r="1.3" stroke="#1fc31f" stroke-width="1.2" fill="none"/>
<circle cx="83.94" cy="532.62" r="1.3" stroke="#1fc31f" stroke-width="1.2" fill="none"/>
<circle cx="87.14" cy="532.47" r="1.3" stroke="#1fc31f" stroke-width="1.2" fill="none"/>
<circle cx="90.08" cy="532.83" r="1.3" stroke="#1fc31f" stroke-width="1.2" fill="none"/>
<circle cx="93.27" cy="532.58" r="1.3" stroke="#1fc31f" stroke-width="1.2" fill="none"/>
<circle cx="77.34" cy="534.52" r="1.3" stroke="#1fc31f" stroke-width="1.2" fill="none"/>
<circle cx="80.90" cy="534.25" r="1.3" stroke="#1fc31f" stroke-width="1.2" fill="none"/>
<circle cx="83.95" cy="534.66" r="1.3" stroke="#1fc31f" stroke-width="1.2" fill="none"/>
<circle cx="87.16" cy="534.62" r="1.3" stroke="#1fc31f" stroke-width="1.2" fill="none"/>
<circle cx="79.24" cy="537.71" r="1.3" stroke="#1fc31f" stroke-width="1.2" fill="none"/>
<circle cx="82.24" cy="537.66" r="1.3" stroke="#1fc31f" stroke-width="1.2" fill="none"/>
<circle cx="85.08" cy="537.89" r="1.3" stroke="#1fc31f" stroke-width="1.2" fill="none"/>
<circle cx="77.52" cy="539.45" r="1.3" stroke="#1fc31f" stroke-width="1.2" fill="none"/>
<circle cx="80.63" cy="539.59" r="1.3" stroke="#1fc31f" stroke-width="1.2" fill="none"/>
<circle cx="83.69" cy="539.52" r="1.3" stroke="#1fc31f" stroke-width="1.2" fill="none"/>
<circle cx="86.95" cy="539.66" r="1.3" stroke="#1fc31f" stroke-width="1.2" fill="none"/>
<circle cx="79.12" cy="541.98" r="1.3" stroke="#1fc31f" stroke-width="1.2" fill="none"/>
<circle cx="81.92" cy="541.86" r="1.3" stroke="#1fc31f" stroke-width="1.2" fill="none"/>
<circle cx="85.16" cy="542.04" r="1.3" stroke="#1fc31f" stroke-width="1.2" fill="none"/>
<circle cx="77.69" cy="544.05" r="1.3" stroke="#1fc31f" stroke-width="1.2" fill="none"/>
<circle cx="80.80" cy="544.06" r="1.3" stroke="#1fc31f" stroke-width="1.2" fill="none"/>
<circle cx="83.63" cy="544.07" r="1.3" stroke="#1fc31f" stroke-width="1.2" fill="none"/>
<circle cx="87.03" cy="543.69" r="1.3" stroke="#1fc31f" stroke-width="1.2" fill="none"/>
<circle cx="74.04" cy="545.96" r="1.3" stroke="#1fc31f" stroke-width="1.2" fill="none"/>
<circle cx="77.63" cy="546.07" r="1.3" stroke="#1fc31f" stroke-width="1.2" fill="none"/>
<circle cx="80.39" cy="546.26" r="1.3" stroke="#1fc31f" stroke-width="1.2" fill="none"/>
<circle cx="83.68" cy="545.98" r="1.3" stroke="#1fc31f" stroke-width="1.2" fill="none"/>
<circle cx="86.72" cy="546.21" r="1.3" stroke="#1fc31f" stroke-width="1.2" fill="none"/>
<circle cx="89.88" cy="546.09" r="1.3" stroke="#1fc31f" stroke-width="1.2" fill="none"/>
<circle cx="65.00" cy="547.38" r="1.3" stroke="#1fc31f" stroke-width="1.2" fill="none"/>
<circle cx="67.92" cy="547.39" r="1.3" stroke="#1fc31f" stroke-width="1.2" fill="none"/>
<circle cx="70.89" cy="547.34" r="1.3" stroke="#1fc31f" stroke-width="1.2" fill="none"/>
<circle cx="74.28" cy="547.24" r="1.3" stroke="#1fc31f" stroke-width="1.2" fill="none"/>
<circle cx="77.24" cy="547.60" r="1.3" stroke="#1fc31f" stroke-width="1.2" fill="none"/>
<circle cx="80.63" cy="547.25" r="1.3" stroke="#1fc31f" stroke-width="1.2" fill="none"/>
<circle cx="83.84" cy="547.56" r="1.3" stroke="#1fc31f" stroke-width="1.2" fill="none"/>
<circle cx="86.64" cy="547.16" r="1.3" stroke="#1fc31f" stroke-width="1.2" fill="none"/>
<circle cx="89.86" cy="547.51" r="1.3" stroke="#1fc31f" stroke-width="1.2" fill="none"/>
<circle cx="93.02" cy="547.50" r="1.3" stroke="#1fc31f" stroke-width="1.2" fill="none"/>
<circle cx="96.48" cy="547.42" r="1.3" stroke="#1fc31f" stroke-width="1.2" fill="none"/>
<circle cx="99.36" cy="547.64" r="1.3" stroke="#1fc31f" stroke-width="1.2" fill="none"/>
<circle cx="68.20" cy="549.41" r="1.3" stroke="#1fc31f" stroke-width="1.2" fill="none"/>
<circle cx="71.01" cy="549.47" r="1.3" stroke="#1fc31f" stroke-width="1.2" fill="none"/>
<circle cx="74.26" cy="549.44" r="1.3" stroke="#1fc31f" stroke-width="1.2" fill="none"/>
<circle cx="77.37" cy="549.47" r="1.3" stroke="#1fc31f" stroke-width="1.2" fill="none"/>
<circle cx="80.36" cy="549.30" r="1.3" stroke="#1fc31f" stroke-width="1.2" fill="none"/>
<circle cx="84.06" cy="549.59" r="1.3" stroke="#1fc31f" stroke-width="1.2" fill="none"/>
<circle cx="86.81" cy="549.58" r="1.3" stroke="#1fc31f" stroke-width="1.2" fill="none"/>
<circle cx="89.96" cy="549.62" r="1.3" stroke="#1fc31f" stroke-width="1.2" fill="none"/>
<circle cx="93.37" cy="549.36" r="1.3" stroke="#1fc31f" stroke-width="1.2" fill="none"/>
<circle cx="96.23" cy="549.15" r="1.3" stroke="#1fc31f" stroke-width="1.2" fill="none"/>
<circle cx="71.40" cy="550.67" r="1.3" stroke="#1fc31f" stroke-width="1.2" fill="none"/>
<circle cx="74.52" cy="551.13" r="1.3" stroke="#1fc31f" stroke-width="1.2" fill="none"/>
<circle cx="77.52" cy="550.74" r="1.3" stroke="#1fc31f" stroke-width="1.2" fill="none"/>
<circle cx="80.85" cy="551.14" r="1.3" stroke="#1fc31f" stroke-width="1.2" fill="none"/>
<circle cx="83.90" cy="550.90" r="1.3" stroke="#1fc31f" stroke-width="1.2" fill="none"/>
<circle cx="86.85" cy="550.82" r="1.3" stroke="#1fc31f" stroke-width="1.2" fill="none"/>
<circle cx="89.90" cy="550.99" r="1.3" stroke="#1fc31f" stroke-width="1.2" fill="none"/>
<circle cx="93.18" cy="550.75" r="1.3" stroke="#1fc31f" stroke-width="1.2" fill="none"/>
<circle cx="74.09" cy="553.38" r="1.3" stroke="#1fc31f" stroke-width="1.2" fill="none"/>
<circle cx="77.35" cy="553.30" r="1.3" stroke="#1fc31f" stroke-width="1.2" fill="none"/>
<circle cx="80.52" cy="553.49" r="1.3" stroke="#1fc31f" stroke-width="1.2" fill="none"/>
<circle cx="84.01" cy="553.06" r="1.3" stroke="#1fc31f" stroke-width="1.2" fill="none"/>
<circle cx="86.75" cy="553.21" r="1.3" stroke="#1fc31f" stroke-width="1.2" fill="none"/>
<circle cx="90.37" cy="553.44" r="1.3" stroke="#1fc31f" stroke-width="1.2" fill="none"/>
<circle cx="119.08" cy="448.67" r="1.3" stroke="#161616" stroke-width="1.2" fill="none"/>
<circle cx="119.46" cy="473.18" r="1.3" stroke="#161616" stroke-width="1.2" fill="none"/>
<circle cx="119.30" cy="482.17" r="1.3" stroke="#161616" stroke-width="1.2" fill="none"/>
<circle cx="119.39" cy="488.94" r="1.3" stroke="#161616" stroke-width="1.2" fill="none"/>
<circle cx="119.06" cy="495.96" r="1.3" stroke="#161616" stroke-width="1.2" fill="none"/>
<circle cx="119.50" cy="504.37" r="1.3" stroke="#161616" stroke-width="1.2" fill="none"/>
<circle cx="117.88" cy="511.25" r="1.3" stroke="#161616" stroke-width="1.2" fill="none"/>
<circle cx="120.84" cy="511.61" r="1.3" stroke="#161616" stroke-width="1.2" fill="none"/>
<circle cx="115.99" cy="520.02" r="1.3" stroke="#161616" stroke-width="1.2" fill="none"/>
<circle cx="119.54" cy="519.57" r="1.3" stroke="#161616" stroke-width="1.2" fill="none"/>
<circle cx="122.17" cy="519.82" r="1.3" stroke="#161616" stroke-width="1.2" fill="none"/>
<circle cx="113.26" cy="521.84" r="1.3" stroke="#161616" stroke-width="1.2" fill="none"/>
<circle cx="115.98" cy="521.86" r="1.3" stroke="#161616" stroke-width="1.2" fill="none"/>
<circle cx="119.02" cy="521.76" r="1.3" stroke="#161616" stroke-width="1.2" fill="none"/>
<circle cx="122.41" cy="521.90" r="1.3" stroke="#161616" stroke-width="1.2" fill="none"/>
<circle cx="125.44" cy="521.77" r="1.3" stroke="#161616" stroke-width="1.2" fill="none"/>
<circle cx="111.26" cy="527.28" r="1.3" stroke="#161616" stroke-width="1.2" fill="none"/>
<circle cx="114.45" cy="527.06" r="1.3" stroke="#161616" stroke-width="1.2" fill="none"/>
<circle cx="117.93" cy="527.33" r="1.3" stroke="#161616" stroke-width="1.2" fill="none"/>
<circle cx="120.96" cy="527.14" r="1.3" stroke="#161616" stroke-width="1.2" fill="none"/>
<circle cx="124.32" cy="527.48" r="1.3" stroke="#161616" stroke-width="1.2" fill="none"/>
<circle cx="126.95" cy="527.22" r="1.3" stroke="#161616" stroke-width="1.2" fill="none"/>
<circle cx="116.28" cy="529.31" r="1.3" stroke="#161616" stroke-width="1.2" fill="none"/>
<circle cx="119.56" cy="529.16" r="1.3" stroke="#161616" stroke-width="1.2" fill="none"/>
<circle cx="122.65" cy="529.29" r="1.3" stroke="#161616" stroke-width="1.2" fill="none"/>
<circle cx="117.61" cy="531.34" r="1.3" stroke="#161616" stroke-width="1.2" fill="none"/>
<circle cx="121.10" cy="531.47" r="1.3" stroke="#161616" stroke-width="1.2" fill="none"/>
<circle cx="113.00" cy="533.94" r="1.3" stroke="#161616" stroke-width="1.2" fill="none"/>
<circle cx="115.87" cy="533.77" r="1.3" stroke="#161616" stroke-width="1.2" fill="none"/>
<circle cx="119.48" cy="533.86" r="1.3" stroke="#161616" stroke-width="1.2" fill="none"/>
<circle cx="122.25" cy="533.92" r="1.3" stroke="#161616" stroke-width="1.2" fill="none"/>
<circle cx="125.72" cy="533.99" r="1.3" stroke="#161616" stroke-width="1.2" fill="none"/>
<circle cx="117.65" cy="535.87" r="1.3" stroke="#161616" stroke-width="1.2" fill="none"/>
<circle cx="120.88" cy="536.04" r="1.3" stroke="#161616" stroke-width="1.2" fill="none"/>
<circle cx="108.29" cy="539.35" r="1.3" stroke="#161616" stroke-width="1.2" fill="none"/>
<circle cx="111.42" cy="539.16" r="1.3" stroke="#161616" stroke-width="1.2" fill="none"/>
<circle cx="114.30" cy="539.50" r="1.3" stroke="#161616" stroke-width="1.2" fill="none"/>
<circle cx="118.01" cy="539.45" r="1.3" stroke="#161616" stroke-width="1.2" fill="none"/>
<circle cx="120.81" cy="539.24" r="1.3" stroke="#161616" stroke-width="1.2" fill="none"/>
<circle cx="124.03" cy="539.64" r="1.3" stroke="#161616" stroke-width="1.2" fill="none"/>
<circle cx="127.34" cy="539.42" r="1.3" stroke="#161616" stroke-width="1.2" fill="none"/>
<circle cx="130.54" cy="539.27" r="1.3" stroke="#161616" stroke-width="1.2" fill="none"/>
<circle cx="109.86" cy="541.33" r="1.3" stroke="#161616" stroke-width="1.2" fill="none"/>
<circle cx="113.05" cy="541.08" r="1.3" stroke="#161616" stroke-width="1.2" fill="none"/>
<circle cx="116.01" cy="541.12" r="1.3" stroke="#161616" stroke-width="1.2" fill="none"/>
<circle cx="119.57" cy="540.85" r="1.3" stroke="#161616" stroke-width="1.2" fill="none"/>
<circle cx="122.62" cy="541.26" r="1.3" stroke="#161616" stroke-width="1.2" fill="none"/>
<circle cx="125.83" cy="541.22" r="1.3" stroke="#161616" stroke-width="1.2" fill="none"/>
<circle cx="128.94" cy="541.11" r="1.3" stroke="#161616" stroke-width="1.2" fill="none"/>
<circle cx="108.31" cy="542.66" r="1.3" stroke="#161616" stroke-width="1.2" fill="none"/>
<circle cx="111.16" cy="542.89" r="1.3" stroke="#161616" stroke-width="1.2" fill="none"/>
<circle cx="114.62" cy="542.55" r="1.3" stroke="#161616" stroke-width="1.2" fill="none"/>
<circle cx="117.73" cy="542.69" r="1.3" stroke="#161616" stroke-width="1.2" fill="none"/>
<circle cx="120.79" cy="542.62" r="1.3" stroke="#161616" stroke-width="1.2" fill="none"/>
<circle cx="124.05" cy="542.76" r="1.3" stroke="#161616" stroke-width="1.2" fill="none"/>
<circle cx="127.24" cy="542.68" r="1.3" stroke="#161616" stroke-width="1.2" fill="none"/>
<circle cx="130.04" cy="542.56" r="1.3" stroke="#161616" stroke-width="1.2" fill="none"/>
<circle cx="111.23" cy="544.34" r="1.3" stroke="#161616" stroke-width="1.2" fill="none"/>
<circle cx="114.79" cy="544.45" r="1.3" stroke="#161616" stroke-width="1.2" fill="none"/>
<circle cx="117.90" cy="544.46" r="1.3" stroke="#161616" stroke-width="1.2" fill="none"/>
<circle cx="120.73" cy="544.47" r="1.3" stroke="#161616" stroke-width="1.2" fill="none"/>
<circle cx="124.13" cy="544.09" r="1.3" stroke="#161616" stroke-width="1.2" fill="none"/>
<circle cx="126.89" cy="544.06" r="1.3" stroke="#161616" stroke-width="1.2" fill="none"/>
<circle cx="116.30" cy="548.87" r="1.3" stroke="#161616" stroke-width="1.2" fill="none"/>
<circle cx="119.07" cy="549.06" r="1.3" stroke="#161616" stroke-width="1.2" fill="none"/>
<circle cx="122.36" cy="548.78" r="1.3" stroke="#161616" stroke-width="1.2" fill="none"/>
<circle cx="117.52" cy="550.01" r="1.3" stroke="#161616" stroke-width="1.2" fill="none"/>
<circle cx="120.68" cy="549.89" r="1.3" stroke="#161616" stroke-width="1.2" fill="none"/>
<circle cx="108.40" cy="551.78" r="1.3" stroke="#161616" stroke-width="1.2" fill="none"/>
<circle cx="111.32" cy="551.79" r="1.3" stroke="#161616" stroke-width="1.2" fill="none"/>
<circle cx="114.29" cy="551.74" r="1.3" stroke="#161616" stroke-width="1.2" fill="none"/>
<circle cx="117.68" cy="551.64" r="1.3" stroke="#161616" stroke-width="1.2" fill="none"/>
<circle cx="120.64" cy="552.00" r="1.3" stroke="#161616" stroke-width="1.2" fill="none"/>
<circle cx="124.03" cy="551.65" r="1.3" stroke="#161616" stroke-width="1.2" fill="none"/>
<circle cx="127.24" cy="551.96" r="1.3" stroke="#161616" stroke-width="1.2" fill="none"/>
<circle cx="130.04" cy="551.56" r="1.3" stroke="#161616" stroke-width="1.2" fill="none"/>
<circle cx="109.64" cy="553.71" r="1.3" stroke="#161616" stroke-width="1.2" fill="none"/>
<circle cx="112.80" cy="553.70" r="1.3" stroke="#161616" stroke-width="1.2" fill="none"/>
<circle cx="116.26" cy="553.62" r="1.3" stroke="#161616" stroke-width="1.2" fill="none"/>
<circle cx="119.13" cy="553.84" r="1.3" stroke="#161616" stroke-width="1.2" fill="none"/>
<circle cx="122.63" cy="553.61" r="1.3" stroke="#161616" stroke-width="1.2" fill="none"/>
<circle cx="125.43" cy="553.67" r="1.3" stroke="#161616" stroke-width="1.2" fill="none"/>
<circle cx="128.69" cy="553.64" r="1.3" stroke="#161616" stroke-width="1.2" fill="none"/>
<circle cx="116.04" cy="555.77" r="1.3" stroke="#161616" stroke-width="1.2" fill="none"/>
<circle cx="119.04" cy="555.60" r="1.3" stroke="#161616" stroke-width="1.2" fill="none"/>
<circle cx="122.73" cy="555.89" r="1.3" stroke="#161616" stroke-width="1.2" fill="none"/>
<rect x="70.60" y="522.80" width="23.90" height="24.40" stroke="#1fc31f" stroke-width="1.1" fill="none"/>
<line x1="70.60" y1="537.30" x2="94.50" y2="537.30" stroke="#1fc31f" stroke-width="1.1"/>
<rect x="107.30" y="524.70" width="24.00" height="20.50" stroke="#111" stroke-width="1.1" fill="none"/>
<line x1="107.30" y1="539.40" x2="131.30" y2="539.40" stroke="#111" stroke-width="1.1"/>
<line x1="101.30" y1="558.60" x2="101.30" y2="571.40" stroke="#111" stroke-width="1.0"/>
<text x="66.20" y="571.30" font-size="12" textLength="33.43" lengthAdjust="spacingAndGlyphs">EGFP</text>
<text x="103.62" y="571.30" font-size="12" font-style="italic" textLength="39.57" lengthAdjust="spacingAndGlyphs">Lnc473</text>
<text x="30.80" y="550.43" font-size="12" transform="rotate(-90 30.80 550.43)" textLength="114.09" lengthAdjust="spacingAndGlyphs">AHP peak delay (ms)</text>
<text x="94.38" y="430.30" font-size="12.4" textLength="12.96" lengthAdjust="spacingAndGlyphs">ns</text>
<line x1="273.50" y1="427.20" x2="273.50" y2="559.10" stroke="#111" stroke-width="1.1"/>
<line x1="273.00" y1="558.60" x2="346.90" y2="558.60" stroke="#111" stroke-width="1.1"/>
<line x1="271.00" y1="558.60" x2="273.50" y2="558.60" stroke="#111" stroke-width="0.9"/>
<line x1="272.20" y1="552.12" x2="273.50" y2="552.12" stroke="#111" stroke-width="0.9"/>
<line x1="272.20" y1="545.63" x2="273.50" y2="545.63" stroke="#111" stroke-width="0.9"/>
<line x1="272.20" y1="539.14" x2="273.50" y2="539.14" stroke="#111" stroke-width="0.9"/>
<line x1="272.20" y1="532.66" x2="273.50" y2="532.66" stroke="#111" stroke-width="0.9"/>
<line x1="271.00" y1="526.18" x2="273.50" y2="526.18" stroke="#111" stroke-width="0.9"/>
<line x1="272.20" y1="519.69" x2="273.50" y2="519.69" stroke="#111" stroke-width="0.9"/>
<line x1="272.20" y1="513.21" x2="273.50" y2="513.21" stroke="#111" stroke-width="0.9"/>
<line x1="272.20" y1="506.72" x2="273.50" y2="506.72" stroke="#111" stroke-width="0.9"/>
<line x1="272.20" y1="500.24" x2="273.50" y2="500.24" stroke="#111" stroke-width="0.9"/>
<line x1="271.00" y1="493.75" x2="273.50" y2="493.75" stroke="#111" stroke-width="0.9"/>
<line x1="272.20" y1="487.27" x2="273.50" y2="487.27" stroke="#111" stroke-width="0.9"/>
<line x1="272.20" y1="480.78" x2="273.50" y2="480.78" stroke="#111" stroke-width="0.9"/>
<line x1="272.20" y1="474.30" x2="273.50" y2="474.30" stroke="#111" stroke-width="0.9"/>
<line x1="272.20" y1="467.81" x2="273.50" y2="467.81" stroke="#111" stroke-width="0.9"/>
<line x1="271.00" y1="461.33" x2="273.50" y2="461.33" stroke="#111" stroke-width="0.9"/>
<line x1="272.20" y1="454.84" x2="273.50" y2="454.84" stroke="#111" stroke-width="0.9"/>
<line x1="272.20" y1="448.36" x2="273.50" y2="448.36" stroke="#111" stroke-width="0.9"/>
<line x1="272.20" y1="441.87" x2="273.50" y2="441.87" stroke="#111" stroke-width="0.9"/>
<line x1="272.20" y1="435.39" x2="273.50" y2="435.39" stroke="#111" stroke-width="0.9"/>
<line x1="271.00" y1="428.90" x2="273.50" y2="428.90" stroke="#111" stroke-width="0.9"/>
<text x="262.50" y="561.90" font-size="12">0</text>
<text x="255.82" y="529.48" font-size="12">50</text>
<text x="249.15" y="497.05" font-size="12">100</text>
<text x="249.15" y="464.63" font-size="12">150</text>
<text x="249.15" y="432.20" font-size="12">200</text>
<line x1="292.20" y1="434.30" x2="329.00" y2="434.30" stroke="#2a2a2a" stroke-width="1.1"/>
<circle cx="291.48" cy="454.37" r="1.3" stroke="#1fc31f" stroke-width="1.2" fill="none"/>
<circle cx="291.86" cy="460.88" r="1.3" stroke="#1fc31f" stroke-width="1.2" fill="none"/>
<circle cx="291.70" cy="467.67" r="1.3" stroke="#1fc31f" stroke-width="1.2" fill="none"/>
<circle cx="291.79" cy="474.34" r="1.3" stroke="#1fc31f" stroke-width="1.2" fill="none"/>
<circle cx="290.03" cy="480.26" r="1.3" stroke="#1fc31f" stroke-width="1.2" fill="none"/>
<circle cx="293.33" cy="480.47" r="1.3" stroke="#1fc31f" stroke-width="1.2" fill="none"/>
<circle cx="289.01" cy="486.85" r="1.3" stroke="#1fc31f" stroke-width="1.2" fill="none"/>
<circle cx="291.67" cy="487.21" r="1.3" stroke="#1fc31f" stroke-width="1.2" fill="none"/>
<circle cx="294.39" cy="487.32" r="1.3" stroke="#1fc31f" stroke-width="1.2" fill="none"/>
<circle cx="286.24" cy="493.57" r="1.3" stroke="#1fc31f" stroke-width="1.2" fill="none"/>
<circle cx="288.57" cy="493.82" r="1.3" stroke="#1fc31f" stroke-width="1.2" fill="none"/>
<circle cx="291.96" cy="493.74" r="1.3" stroke="#1fc31f" stroke-width="1.2" fill="none"/>
<circle cx="294.38" cy="493.76" r="1.3" stroke="#1fc31f" stroke-width="1.2" fill="none"/>
<circle cx="297.12" cy="493.66" r="1.3" stroke="#1fc31f" stroke-width="1.2" fill="none"/>
<circle cx="288.81" cy="500.30" r="1.3" stroke="#1fc31f" stroke-width="1.2" fill="none"/>
<circle cx="291.54" cy="500.17" r="1.3" stroke="#1fc31f" stroke-width="1.2" fill="none"/>
<circle cx="294.38" cy="500.28" r="1.3" stroke="#1fc31f" stroke-width="1.2" fill="none"/>
<circle cx="285.87" cy="506.26" r="1.3" stroke="#1fc31f" stroke-width="1.2" fill="none"/>
<circle cx="289.05" cy="506.53" r="1.3" stroke="#1fc31f" stroke-width="1.2" fill="none"/>
<circle cx="291.79" cy="506.34" r="1.3" stroke="#1fc31f" stroke-width="1.2" fill="none"/>
<circle cx="294.85" cy="506.68" r="1.3" stroke="#1fc31f" stroke-width="1.2" fill="none"/>
<circle cx="297.17" cy="506.42" r="1.3" stroke="#1fc31f" stroke-width="1.2" fill="none"/>
<circle cx="291.83" cy="510.11" r="1.3" stroke="#1fc31f" stroke-width="1.2" fill="none"/>
<circle cx="289.11" cy="513.06" r="1.3" stroke="#1fc31f" stroke-width="1.2" fill="none"/>
<circle cx="291.90" cy="513.19" r="1.3" stroke="#1fc31f" stroke-width="1.2" fill="none"/>
<circle cx="294.43" cy="513.14" r="1.3" stroke="#1fc31f" stroke-width="1.2" fill="none"/>
<circle cx="284.80" cy="519.77" r="1.3" stroke="#1fc31f" stroke-width="1.2" fill="none"/>
<circle cx="287.43" cy="519.64" r="1.3" stroke="#1fc31f" stroke-width="1.2" fill="none"/>
<circle cx="290.00" cy="519.47" r="1.3" stroke="#1fc31f" stroke-width="1.2" fill="none"/>
<circle cx="293.30" cy="519.56" r="1.3" stroke="#1fc31f" stroke-width="1.2" fill="none"/>
<circle cx="295.78" cy="519.62" r="1.3" stroke="#1fc31f" stroke-width="1.2" fill="none"/>
<circle cx="298.95" cy="519.69" r="1.3" stroke="#1fc31f" stroke-width="1.2" fill="none"/>
<circle cx="288.77" cy="523.07" r="1.3" stroke="#1fc31f" stroke-width="1.2" fill="none"/>
<circle cx="291.71" cy="523.24" r="1.3" stroke="#1fc31f" stroke-width="1.2" fill="none"/>
<circle cx="294.56" cy="523.05" r="1.3" stroke="#1fc31f" stroke-width="1.2" fill="none"/>
<circle cx="281.72" cy="526.16" r="1.3" stroke="#1fc31f" stroke-width="1.2" fill="none"/>
<circle cx="284.30" cy="526.50" r="1.3" stroke="#1fc31f" stroke-width="1.2" fill="none"/>
<circle cx="287.71" cy="526.45" r="1.3" stroke="#1fc31f" stroke-width="1.2" fill="none"/>
<circle cx="290.21" cy="526.24" r="1.3" stroke="#1fc31f" stroke-width="1.2" fill="none"/>
<circle cx="293.13" cy="526.64" r="1.3" stroke="#1fc31f" stroke-width="1.2" fill="none"/>
<circle cx="296.14" cy="526.42" r="1.3" stroke="#1fc31f" stroke-width="1.2" fill="none"/>
<circle cx="299.04" cy="526.27" r="1.3" stroke="#1fc31f" stroke-width="1.2" fill="none"/>
<circle cx="301.68" cy="526.63" r="1.3" stroke="#1fc31f" stroke-width="1.2" fill="none"/>
<circle cx="288.90" cy="529.68" r="1.3" stroke="#1fc31f" stroke-width="1.2" fill="none"/>
<circle cx="291.56" cy="529.72" r="1.3" stroke="#1fc31f" stroke-width="1.2" fill="none"/>
<circle cx="294.82" cy="529.45" r="1.3" stroke="#1fc31f" stroke-width="1.2" fill="none"/>
<circle cx="283.32" cy="532.86" r="1.3" stroke="#1fc31f" stroke-width="1.2" fill="none"/>
<circle cx="286.23" cy="532.82" r="1.3" stroke="#1fc31f" stroke-width="1.2" fill="none"/>
<circle cx="289.04" cy="532.71" r="1.3" stroke="#1fc31f" stroke-width="1.2" fill="none"/>
<circle cx="291.74" cy="532.66" r="1.3" stroke="#1fc31f" stroke-width="1.2" fill="none"/>
<circle cx="294.28" cy="532.89" r="1.3" stroke="#1fc31f" stroke-width="1.2" fill="none"/>
<circle cx="297.44" cy="532.55" r="1.3" stroke="#1fc31f" stroke-width="1.2" fill="none"/>
<circle cx="300.25" cy="532.69" r="1.3" stroke="#1fc31f" stroke-width="1.2" fill="none"/>
<circle cx="288.76" cy="535.62" r="1.3" stroke="#1fc31f" stroke-width="1.2" fill="none"/>
<circle cx="291.72" cy="535.76" r="1.3" stroke="#1fc31f" stroke-width="1.2" fill="none"/>
<circle cx="294.62" cy="535.68" r="1.3" stroke="#1fc31f" stroke-width="1.2" fill="none"/>
<circle cx="278.59" cy="538.56" r="1.3" stroke="#1fc31f" stroke-width="1.2" fill="none"/>
<circle cx="281.53" cy="538.74" r="1.3" stroke="#1fc31f" stroke-width="1.2" fill="none"/>
<circle cx="284.79" cy="538.85" r="1.3" stroke="#1fc31f" stroke-width="1.2" fill="none"/>
<circle cx="287.60" cy="538.86" r="1.3" stroke="#1fc31f" stroke-width="1.2" fill="none"/>
<circle cx="290.13" cy="538.87" r="1.3" stroke="#1fc31f" stroke-width="1.2" fill="none"/>
<circle cx="293.23" cy="538.49" r="1.3" stroke="#1fc31f" stroke-width="1.2" fill="none"/>
<circle cx="295.69" cy="538.46" r="1.3" stroke="#1fc31f" stroke-width="1.2" fill="none"/>
<circle cx="298.98" cy="538.57" r="1.3" stroke="#1fc31f" stroke-width="1.2" fill="none"/>
<circle cx="301.44" cy="538.76" r="1.3" stroke="#1fc31f" stroke-width="1.2" fill="none"/>
<circle cx="304.43" cy="538.48" r="1.3" stroke="#1fc31f" stroke-width="1.2" fill="none"/>
<circle cx="288.65" cy="542.31" r="1.3" stroke="#1fc31f" stroke-width="1.2" fill="none"/>
<circle cx="291.50" cy="542.19" r="1.3" stroke="#1fc31f" stroke-width="1.2" fill="none"/>
<circle cx="294.68" cy="542.28" r="1.3" stroke="#1fc31f" stroke-width="1.2" fill="none"/>
<circle cx="283.04" cy="545.79" r="1.3" stroke="#1fc31f" stroke-width="1.2" fill="none"/>
<circle cx="285.71" cy="545.74" r="1.3" stroke="#1fc31f" stroke-width="1.2" fill="none"/>
<circle cx="288.80" cy="545.64" r="1.3" stroke="#1fc31f" stroke-width="1.2" fill="none"/>
<circle cx="291.47" cy="546.00" r="1.3" stroke="#1fc31f" stroke-width="1.2" fill="none"/>
<circle cx="294.56" cy="545.65" r="1.3" stroke="#1fc31f" stroke-width="1.2" fill="none"/>
<circle cx="297.46" cy="545.96" r="1.3" stroke="#1fc31f" stroke-width="1.2" fill="none"/>
<circle cx="299.96" cy="545.56" r="1.3" stroke="#1fc31f" stroke-width="1.2" fill="none"/>
<circle cx="288.64" cy="549.41" r="1.3" stroke="#1fc31f" stroke-width="1.2" fill="none"/>
<circle cx="291.50" cy="549.40" r="1.3" stroke="#1fc31f" stroke-width="1.2" fill="none"/>
<circle cx="294.66" cy="549.32" r="1.3" stroke="#1fc31f" stroke-width="1.2" fill="none"/>
<circle cx="288.68" cy="552.54" r="1.3" stroke="#1fc31f" stroke-width="1.2" fill="none"/>
<circle cx="291.88" cy="552.31" r="1.3" stroke="#1fc31f" stroke-width="1.2" fill="none"/>
<circle cx="294.38" cy="552.37" r="1.3" stroke="#1fc31f" stroke-width="1.2" fill="none"/>
<circle cx="328.68" cy="461.67" r="1.3" stroke="#161616" stroke-width="1.2" fill="none"/>
<circle cx="329.06" cy="474.18" r="1.3" stroke="#161616" stroke-width="1.2" fill="none"/>
<circle cx="326.05" cy="480.77" r="1.3" stroke="#161616" stroke-width="1.2" fill="none"/>
<circle cx="328.99" cy="480.94" r="1.3" stroke="#161616" stroke-width="1.2" fill="none"/>
<circle cx="331.51" cy="480.56" r="1.3" stroke="#161616" stroke-width="1.2" fill="none"/>
<circle cx="329.10" cy="487.27" r="1.3" stroke="#161616" stroke-width="1.2" fill="none"/>
<circle cx="329.06" cy="488.05" r="1.3" stroke="#161616" stroke-width="1.2" fill="none"/>
<circle cx="327.44" cy="493.91" r="1.3" stroke="#161616" stroke-width="1.2" fill="none"/>
<circle cx="330.16" cy="494.02" r="1.3" stroke="#161616" stroke-width="1.2" fill="none"/>
<circle cx="327.72" cy="500.07" r="1.3" stroke="#161616" stroke-width="1.2" fill="none"/>
<circle cx="330.04" cy="500.32" r="1.3" stroke="#161616" stroke-width="1.2" fill="none"/>
<circle cx="329.16" cy="506.64" r="1.3" stroke="#161616" stroke-width="1.2" fill="none"/>
<circle cx="320.18" cy="512.76" r="1.3" stroke="#161616" stroke-width="1.2" fill="none"/>
<circle cx="322.92" cy="512.66" r="1.3" stroke="#161616" stroke-width="1.2" fill="none"/>
<circle cx="326.01" cy="512.80" r="1.3" stroke="#161616" stroke-width="1.2" fill="none"/>
<circle cx="328.74" cy="512.67" r="1.3" stroke="#161616" stroke-width="1.2" fill="none"/>
<circle cx="331.58" cy="512.78" r="1.3" stroke="#161616" stroke-width="1.2" fill="none"/>
<circle cx="334.47" cy="512.56" r="1.3" stroke="#161616" stroke-width="1.2" fill="none"/>
<circle cx="337.65" cy="512.83" r="1.3" stroke="#161616" stroke-width="1.2" fill="none"/>
<circle cx="323.29" cy="519.54" r="1.3" stroke="#161616" stroke-width="1.2" fill="none"/>
<circle cx="326.35" cy="519.88" r="1.3" stroke="#161616" stroke-width="1.2" fill="none"/>
<circle cx="328.67" cy="519.62" r="1.3" stroke="#161616" stroke-width="1.2" fill="none"/>
<circle cx="331.88" cy="519.81" r="1.3" stroke="#161616" stroke-width="1.2" fill="none"/>
<circle cx="334.86" cy="519.66" r="1.3" stroke="#161616" stroke-width="1.2" fill="none"/>
<circle cx="317.70" cy="526.39" r="1.3" stroke="#161616" stroke-width="1.2" fill="none"/>
<circle cx="320.23" cy="526.34" r="1.3" stroke="#161616" stroke-width="1.2" fill="none"/>
<circle cx="323.43" cy="526.47" r="1.3" stroke="#161616" stroke-width="1.2" fill="none"/>
<circle cx="326.05" cy="526.34" r="1.3" stroke="#161616" stroke-width="1.2" fill="none"/>
<circle cx="328.62" cy="526.17" r="1.3" stroke="#161616" stroke-width="1.2" fill="none"/>
<circle cx="331.93" cy="526.26" r="1.3" stroke="#161616" stroke-width="1.2" fill="none"/>
<circle cx="334.40" cy="526.32" r="1.3" stroke="#161616" stroke-width="1.2" fill="none"/>
<circle cx="337.57" cy="526.39" r="1.3" stroke="#161616" stroke-width="1.2" fill="none"/>
<circle cx="340.22" cy="526.27" r="1.3" stroke="#161616" stroke-width="1.2" fill="none"/>
<circle cx="327.48" cy="529.54" r="1.3" stroke="#161616" stroke-width="1.2" fill="none"/>
<circle cx="330.34" cy="529.35" r="1.3" stroke="#161616" stroke-width="1.2" fill="none"/>
<circle cx="326.04" cy="532.36" r="1.3" stroke="#161616" stroke-width="1.2" fill="none"/>
<circle cx="328.63" cy="532.70" r="1.3" stroke="#161616" stroke-width="1.2" fill="none"/>
<circle cx="332.04" cy="532.65" r="1.3" stroke="#161616" stroke-width="1.2" fill="none"/>
<circle cx="328.84" cy="535.14" r="1.3" stroke="#161616" stroke-width="1.2" fill="none"/>
<circle cx="311.80" cy="539.44" r="1.3" stroke="#161616" stroke-width="1.2" fill="none"/>
<circle cx="314.81" cy="539.22" r="1.3" stroke="#161616" stroke-width="1.2" fill="none"/>
<circle cx="317.72" cy="539.07" r="1.3" stroke="#161616" stroke-width="1.2" fill="none"/>
<circle cx="320.36" cy="539.43" r="1.3" stroke="#161616" stroke-width="1.2" fill="none"/>
<circle cx="323.25" cy="539.18" r="1.3" stroke="#161616" stroke-width="1.2" fill="none"/>
<circle cx="325.91" cy="539.22" r="1.3" stroke="#161616" stroke-width="1.2" fill="none"/>
<circle cx="329.17" cy="538.95" r="1.3" stroke="#161616" stroke-width="1.2" fill="none"/>
<circle cx="331.92" cy="539.36" r="1.3" stroke="#161616" stroke-width="1.2" fill="none"/>
<circle cx="334.83" cy="539.32" r="1.3" stroke="#161616" stroke-width="1.2" fill="none"/>
<circle cx="337.64" cy="539.21" r="1.3" stroke="#161616" stroke-width="1.2" fill="none"/>
<circle cx="340.34" cy="539.16" r="1.3" stroke="#161616" stroke-width="1.2" fill="none"/>
<circle cx="342.88" cy="539.39" r="1.3" stroke="#161616" stroke-width="1.2" fill="none"/>
<circle cx="346.04" cy="539.05" r="1.3" stroke="#161616" stroke-width="1.2" fill="none"/>
<circle cx="321.78" cy="545.49" r="1.3" stroke="#161616" stroke-width="1.2" fill="none"/>
<circle cx="324.54" cy="545.42" r="1.3" stroke="#161616" stroke-width="1.2" fill="none"/>
<circle cx="327.50" cy="545.56" r="1.3" stroke="#161616" stroke-width="1.2" fill="none"/>
<circle cx="330.39" cy="545.48" r="1.3" stroke="#161616" stroke-width="1.2" fill="none"/>
<circle cx="332.89" cy="545.36" r="1.3" stroke="#161616" stroke-width="1.2" fill="none"/>
<circle cx="335.83" cy="545.54" r="1.3" stroke="#161616" stroke-width="1.2" fill="none"/>
<circle cx="321.99" cy="552.55" r="1.3" stroke="#161616" stroke-width="1.2" fill="none"/>
<circle cx="324.80" cy="552.56" r="1.3" stroke="#161616" stroke-width="1.2" fill="none"/>
<circle cx="327.33" cy="552.57" r="1.3" stroke="#161616" stroke-width="1.2" fill="none"/>
<circle cx="330.43" cy="552.19" r="1.3" stroke="#161616" stroke-width="1.2" fill="none"/>
<circle cx="332.89" cy="552.16" r="1.3" stroke="#161616" stroke-width="1.2" fill="none"/>
<circle cx="336.18" cy="552.27" r="1.3" stroke="#161616" stroke-width="1.2" fill="none"/>
<rect x="279.90" y="506.40" width="23.60" height="32.90" stroke="#1fc31f" stroke-width="1.1" fill="none"/>
<line x1="279.90" y1="526.40" x2="303.50" y2="526.40" stroke="#1fc31f" stroke-width="1.1"/>
<rect x="316.90" y="513.10" width="23.90" height="25.70" stroke="#111" stroke-width="1.1" fill="none"/>
<line x1="316.90" y1="526.30" x2="340.80" y2="526.30" stroke="#111" stroke-width="1.1"/>
<line x1="309.50" y1="558.60" x2="309.50" y2="571.40" stroke="#111" stroke-width="1.0"/>
<text x="274.71" y="571.30" font-size="12" textLength="33.33" lengthAdjust="spacingAndGlyphs">EGFP</text>
<text x="312.02" y="571.30" font-size="12" font-style="italic" textLength="39.77" lengthAdjust="spacingAndGlyphs">Lnc473</text>
<text x="243.20" y="554.58" font-size="12" transform="rotate(-90 243.20 554.58)" textLength="122.54" lengthAdjust="spacingAndGlyphs">Rheobase current (pA)</text>
<text x="303.78" y="430.30" font-size="12.4" textLength="12.96" lengthAdjust="spacingAndGlyphs">ns</text>
<line x1="678.75" y1="428.80" x2="678.75" y2="559.70" stroke="#111" stroke-width="1.1"/>
<line x1="678.25" y1="559.20" x2="752.00" y2="559.20" stroke="#111" stroke-width="1.1"/>
<line x1="676.25" y1="559.00" x2="678.75" y2="559.00" stroke="#111" stroke-width="0.9"/>
<line x1="677.45" y1="545.15" x2="678.75" y2="545.15" stroke="#111" stroke-width="0.9"/>
<line x1="676.25" y1="531.30" x2="678.75" y2="531.30" stroke="#111" stroke-width="0.9"/>
<line x1="677.45" y1="517.45" x2="678.75" y2="517.45" stroke="#111" stroke-width="0.9"/>
<line x1="676.25" y1="503.60" x2="678.75" y2="503.60" stroke="#111" stroke-width="0.9"/>
<line x1="677.45" y1="489.75" x2="678.75" y2="489.75" stroke="#111" stroke-width="0.9"/>
<line x1="676.25" y1="475.90" x2="678.75" y2="475.90" stroke="#111" stroke-width="0.9"/>
<line x1="677.45" y1="462.05" x2="678.75" y2="462.05" stroke="#111" stroke-width="0.9"/>
<line x1="676.25" y1="448.20" x2="678.75" y2="448.20" stroke="#111" stroke-width="0.9"/>
<line x1="677.45" y1="434.35" x2="678.75" y2="434.35" stroke="#111" stroke-width="0.9"/>
<text x="667.30" y="562.30" font-size="12">0</text>
<text x="667.40" y="534.60" font-size="12">1</text>
<text x="667.42" y="506.90" font-size="12">2</text>
<text x="667.35" y="479.20" font-size="12">3</text>
<text x="667.17" y="451.50" font-size="12">4</text>
<line x1="697.60" y1="434.30" x2="733.20" y2="434.30" stroke="#2a2a2a" stroke-width="1.1"/>
<circle cx="696.88" cy="438.77" r="1.3" stroke="#1fc31f" stroke-width="1.2" fill="none"/>
<circle cx="697.26" cy="450.18" r="1.3" stroke="#1fc31f" stroke-width="1.2" fill="none"/>
<circle cx="697.10" cy="457.57" r="1.3" stroke="#1fc31f" stroke-width="1.2" fill="none"/>
<circle cx="697.19" cy="462.94" r="1.3" stroke="#1fc31f" stroke-width="1.2" fill="none"/>
<circle cx="696.86" cy="464.76" r="1.3" stroke="#1fc31f" stroke-width="1.2" fill="none"/>
<circle cx="692.58" cy="483.07" r="1.3" stroke="#1fc31f" stroke-width="1.2" fill="none"/>
<circle cx="695.68" cy="482.85" r="1.3" stroke="#1fc31f" stroke-width="1.2" fill="none"/>
<circle cx="698.64" cy="483.21" r="1.3" stroke="#1fc31f" stroke-width="1.2" fill="none"/>
<circle cx="701.66" cy="483.32" r="1.3" stroke="#1fc31f" stroke-width="1.2" fill="none"/>
<circle cx="695.77" cy="486.27" r="1.3" stroke="#1fc31f" stroke-width="1.2" fill="none"/>
<circle cx="698.39" cy="486.52" r="1.3" stroke="#1fc31f" stroke-width="1.2" fill="none"/>
<circle cx="691.06" cy="489.84" r="1.3" stroke="#1fc31f" stroke-width="1.2" fill="none"/>
<circle cx="693.78" cy="489.86" r="1.3" stroke="#1fc31f" stroke-width="1.2" fill="none"/>
<circle cx="696.82" cy="489.76" r="1.3" stroke="#1fc31f" stroke-width="1.2" fill="none"/>
<circle cx="700.21" cy="489.90" r="1.3" stroke="#1fc31f" stroke-width="1.2" fill="none"/>
<circle cx="703.24" cy="489.77" r="1.3" stroke="#1fc31f" stroke-width="1.2" fill="none"/>
<circle cx="690.63" cy="493.18" r="1.3" stroke="#1fc31f" stroke-width="1.2" fill="none"/>
<circle cx="693.82" cy="492.96" r="1.3" stroke="#1fc31f" stroke-width="1.2" fill="none"/>
<circle cx="697.30" cy="493.23" r="1.3" stroke="#1fc31f" stroke-width="1.2" fill="none"/>
<circle cx="700.34" cy="493.04" r="1.3" stroke="#1fc31f" stroke-width="1.2" fill="none"/>
<circle cx="703.70" cy="493.38" r="1.3" stroke="#1fc31f" stroke-width="1.2" fill="none"/>
<circle cx="693.72" cy="496.52" r="1.3" stroke="#1fc31f" stroke-width="1.2" fill="none"/>
<circle cx="697.23" cy="496.71" r="1.3" stroke="#1fc31f" stroke-width="1.2" fill="none"/>
<circle cx="700.51" cy="496.56" r="1.3" stroke="#1fc31f" stroke-width="1.2" fill="none"/>
<circle cx="694.15" cy="500.09" r="1.3" stroke="#1fc31f" stroke-width="1.2" fill="none"/>
<circle cx="696.98" cy="500.04" r="1.3" stroke="#1fc31f" stroke-width="1.2" fill="none"/>
<circle cx="700.48" cy="500.17" r="1.3" stroke="#1fc31f" stroke-width="1.2" fill="none"/>
<circle cx="692.38" cy="503.44" r="1.3" stroke="#1fc31f" stroke-width="1.2" fill="none"/>
<circle cx="695.25" cy="503.27" r="1.3" stroke="#1fc31f" stroke-width="1.2" fill="none"/>
<circle cx="698.85" cy="503.36" r="1.3" stroke="#1fc31f" stroke-width="1.2" fill="none"/>
<circle cx="701.63" cy="503.42" r="1.3" stroke="#1fc31f" stroke-width="1.2" fill="none"/>
<circle cx="694.07" cy="506.89" r="1.3" stroke="#1fc31f" stroke-width="1.2" fill="none"/>
<circle cx="697.02" cy="506.77" r="1.3" stroke="#1fc31f" stroke-width="1.2" fill="none"/>
<circle cx="700.26" cy="506.94" r="1.3" stroke="#1fc31f" stroke-width="1.2" fill="none"/>
<circle cx="689.24" cy="510.15" r="1.3" stroke="#1fc31f" stroke-width="1.2" fill="none"/>
<circle cx="692.37" cy="509.96" r="1.3" stroke="#1fc31f" stroke-width="1.2" fill="none"/>
<circle cx="695.25" cy="510.30" r="1.3" stroke="#1fc31f" stroke-width="1.2" fill="none"/>
<circle cx="698.96" cy="510.25" r="1.3" stroke="#1fc31f" stroke-width="1.2" fill="none"/>
<circle cx="701.76" cy="510.04" r="1.3" stroke="#1fc31f" stroke-width="1.2" fill="none"/>
<circle cx="704.98" cy="510.44" r="1.3" stroke="#1fc31f" stroke-width="1.2" fill="none"/>
<circle cx="690.96" cy="513.62" r="1.3" stroke="#1fc31f" stroke-width="1.2" fill="none"/>
<circle cx="694.17" cy="513.47" r="1.3" stroke="#1fc31f" stroke-width="1.2" fill="none"/>
<circle cx="697.11" cy="513.83" r="1.3" stroke="#1fc31f" stroke-width="1.2" fill="none"/>
<circle cx="700.30" cy="513.58" r="1.3" stroke="#1fc31f" stroke-width="1.2" fill="none"/>
<circle cx="703.26" cy="513.62" r="1.3" stroke="#1fc31f" stroke-width="1.2" fill="none"/>
<circle cx="691.07" cy="516.75" r="1.3" stroke="#1fc31f" stroke-width="1.2" fill="none"/>
<circle cx="694.12" cy="517.16" r="1.3" stroke="#1fc31f" stroke-width="1.2" fill="none"/>
<circle cx="697.33" cy="517.12" r="1.3" stroke="#1fc31f" stroke-width="1.2" fill="none"/>
<circle cx="700.44" cy="517.01" r="1.3" stroke="#1fc31f" stroke-width="1.2" fill="none"/>
<circle cx="703.44" cy="516.96" r="1.3" stroke="#1fc31f" stroke-width="1.2" fill="none"/>
<circle cx="687.38" cy="520.09" r="1.3" stroke="#1fc31f" stroke-width="1.2" fill="none"/>
<circle cx="690.84" cy="519.75" r="1.3" stroke="#1fc31f" stroke-width="1.2" fill="none"/>
<circle cx="693.95" cy="519.89" r="1.3" stroke="#1fc31f" stroke-width="1.2" fill="none"/>
<circle cx="697.01" cy="519.82" r="1.3" stroke="#1fc31f" stroke-width="1.2" fill="none"/>
<circle cx="700.27" cy="519.96" r="1.3" stroke="#1fc31f" stroke-width="1.2" fill="none"/>
<circle cx="703.47" cy="519.88" r="1.3" stroke="#1fc31f" stroke-width="1.2" fill="none"/>
<circle cx="706.27" cy="519.76" r="1.3" stroke="#1fc31f" stroke-width="1.2" fill="none"/>
<circle cx="692.18" cy="523.14" r="1.3" stroke="#1fc31f" stroke-width="1.2" fill="none"/>
<circle cx="695.74" cy="523.25" r="1.3" stroke="#1fc31f" stroke-width="1.2" fill="none"/>
<circle cx="698.85" cy="523.26" r="1.3" stroke="#1fc31f" stroke-width="1.2" fill="none"/>
<circle cx="701.68" cy="523.27" r="1.3" stroke="#1fc31f" stroke-width="1.2" fill="none"/>
<circle cx="694.05" cy="526.49" r="1.3" stroke="#1fc31f" stroke-width="1.2" fill="none"/>
<circle cx="696.81" cy="526.46" r="1.3" stroke="#1fc31f" stroke-width="1.2" fill="none"/>
<circle cx="700.40" cy="526.57" r="1.3" stroke="#1fc31f" stroke-width="1.2" fill="none"/>
<circle cx="695.29" cy="530.56" r="1.3" stroke="#1fc31f" stroke-width="1.2" fill="none"/>
<circle cx="698.58" cy="530.28" r="1.3" stroke="#1fc31f" stroke-width="1.2" fill="none"/>
<circle cx="695.32" cy="534.41" r="1.3" stroke="#1fc31f" stroke-width="1.2" fill="none"/>
<circle cx="698.48" cy="534.29" r="1.3" stroke="#1fc31f" stroke-width="1.2" fill="none"/>
<circle cx="697.23" cy="539.58" r="1.3" stroke="#1fc31f" stroke-width="1.2" fill="none"/>
<circle cx="696.99" cy="554.19" r="1.3" stroke="#1fc31f" stroke-width="1.2" fill="none"/>
<circle cx="733.48" cy="451.67" r="1.3" stroke="#161616" stroke-width="1.2" fill="none"/>
<circle cx="733.86" cy="456.58" r="1.3" stroke="#161616" stroke-width="1.2" fill="none"/>
<circle cx="733.70" cy="464.97" r="1.3" stroke="#161616" stroke-width="1.2" fill="none"/>
<circle cx="733.79" cy="467.44" r="1.3" stroke="#161616" stroke-width="1.2" fill="none"/>
<circle cx="731.88" cy="472.66" r="1.3" stroke="#161616" stroke-width="1.2" fill="none"/>
<circle cx="735.48" cy="472.87" r="1.3" stroke="#161616" stroke-width="1.2" fill="none"/>
<circle cx="733.86" cy="476.05" r="1.3" stroke="#161616" stroke-width="1.2" fill="none"/>
<circle cx="732.09" cy="483.91" r="1.3" stroke="#161616" stroke-width="1.2" fill="none"/>
<circle cx="735.11" cy="484.02" r="1.3" stroke="#161616" stroke-width="1.2" fill="none"/>
<circle cx="730.79" cy="489.67" r="1.3" stroke="#161616" stroke-width="1.2" fill="none"/>
<circle cx="733.42" cy="489.92" r="1.3" stroke="#161616" stroke-width="1.2" fill="none"/>
<circle cx="737.11" cy="489.84" r="1.3" stroke="#161616" stroke-width="1.2" fill="none"/>
<circle cx="730.38" cy="492.76" r="1.3" stroke="#161616" stroke-width="1.2" fill="none"/>
<circle cx="733.42" cy="492.66" r="1.3" stroke="#161616" stroke-width="1.2" fill="none"/>
<circle cx="736.81" cy="492.80" r="1.3" stroke="#161616" stroke-width="1.2" fill="none"/>
<circle cx="730.39" cy="499.87" r="1.3" stroke="#161616" stroke-width="1.2" fill="none"/>
<circle cx="733.53" cy="499.98" r="1.3" stroke="#161616" stroke-width="1.2" fill="none"/>
<circle cx="736.72" cy="499.76" r="1.3" stroke="#161616" stroke-width="1.2" fill="none"/>
<circle cx="730.75" cy="503.43" r="1.3" stroke="#161616" stroke-width="1.2" fill="none"/>
<circle cx="733.79" cy="503.24" r="1.3" stroke="#161616" stroke-width="1.2" fill="none"/>
<circle cx="737.15" cy="503.58" r="1.3" stroke="#161616" stroke-width="1.2" fill="none"/>
<circle cx="731.90" cy="506.72" r="1.3" stroke="#161616" stroke-width="1.2" fill="none"/>
<circle cx="735.41" cy="506.91" r="1.3" stroke="#161616" stroke-width="1.2" fill="none"/>
<circle cx="729.24" cy="512.36" r="1.3" stroke="#161616" stroke-width="1.2" fill="none"/>
<circle cx="732.32" cy="512.49" r="1.3" stroke="#161616" stroke-width="1.2" fill="none"/>
<circle cx="735.16" cy="512.44" r="1.3" stroke="#161616" stroke-width="1.2" fill="none"/>
<circle cx="738.65" cy="512.57" r="1.3" stroke="#161616" stroke-width="1.2" fill="none"/>
<circle cx="727.40" cy="515.44" r="1.3" stroke="#161616" stroke-width="1.2" fill="none"/>
<circle cx="730.27" cy="515.27" r="1.3" stroke="#161616" stroke-width="1.2" fill="none"/>
<circle cx="733.88" cy="515.36" r="1.3" stroke="#161616" stroke-width="1.2" fill="none"/>
<circle cx="736.65" cy="515.42" r="1.3" stroke="#161616" stroke-width="1.2" fill="none"/>
<circle cx="740.12" cy="515.49" r="1.3" stroke="#161616" stroke-width="1.2" fill="none"/>
<circle cx="728.90" cy="518.47" r="1.3" stroke="#161616" stroke-width="1.2" fill="none"/>
<circle cx="732.13" cy="518.64" r="1.3" stroke="#161616" stroke-width="1.2" fill="none"/>
<circle cx="735.29" cy="518.45" r="1.3" stroke="#161616" stroke-width="1.2" fill="none"/>
<circle cx="738.42" cy="518.26" r="1.3" stroke="#161616" stroke-width="1.2" fill="none"/>
<circle cx="723.98" cy="521.60" r="1.3" stroke="#161616" stroke-width="1.2" fill="none"/>
<circle cx="727.69" cy="521.55" r="1.3" stroke="#161616" stroke-width="1.2" fill="none"/>
<circle cx="730.49" cy="521.34" r="1.3" stroke="#161616" stroke-width="1.2" fill="none"/>
<circle cx="733.70" cy="521.74" r="1.3" stroke="#161616" stroke-width="1.2" fill="none"/>
<circle cx="737.01" cy="521.52" r="1.3" stroke="#161616" stroke-width="1.2" fill="none"/>
<circle cx="740.22" cy="521.37" r="1.3" stroke="#161616" stroke-width="1.2" fill="none"/>
<circle cx="743.16" cy="521.73" r="1.3" stroke="#161616" stroke-width="1.2" fill="none"/>
<circle cx="727.45" cy="524.88" r="1.3" stroke="#161616" stroke-width="1.2" fill="none"/>
<circle cx="730.41" cy="524.92" r="1.3" stroke="#161616" stroke-width="1.2" fill="none"/>
<circle cx="733.97" cy="524.65" r="1.3" stroke="#161616" stroke-width="1.2" fill="none"/>
<circle cx="737.02" cy="525.06" r="1.3" stroke="#161616" stroke-width="1.2" fill="none"/>
<circle cx="740.23" cy="525.02" r="1.3" stroke="#161616" stroke-width="1.2" fill="none"/>
<circle cx="727.59" cy="528.31" r="1.3" stroke="#161616" stroke-width="1.2" fill="none"/>
<circle cx="730.59" cy="528.26" r="1.3" stroke="#161616" stroke-width="1.2" fill="none"/>
<circle cx="733.43" cy="528.49" r="1.3" stroke="#161616" stroke-width="1.2" fill="none"/>
<circle cx="736.89" cy="528.15" r="1.3" stroke="#161616" stroke-width="1.2" fill="none"/>
<circle cx="740.00" cy="528.29" r="1.3" stroke="#161616" stroke-width="1.2" fill="none"/>
<circle cx="728.89" cy="531.52" r="1.3" stroke="#161616" stroke-width="1.2" fill="none"/>
<circle cx="732.15" cy="531.66" r="1.3" stroke="#161616" stroke-width="1.2" fill="none"/>
<circle cx="735.34" cy="531.58" r="1.3" stroke="#161616" stroke-width="1.2" fill="none"/>
<circle cx="738.14" cy="531.46" r="1.3" stroke="#161616" stroke-width="1.2" fill="none"/>
<circle cx="730.36" cy="535.04" r="1.3" stroke="#161616" stroke-width="1.2" fill="none"/>
<circle cx="733.92" cy="535.15" r="1.3" stroke="#161616" stroke-width="1.2" fill="none"/>
<circle cx="737.03" cy="535.16" r="1.3" stroke="#161616" stroke-width="1.2" fill="none"/>
<circle cx="733.55" cy="538.17" r="1.3" stroke="#161616" stroke-width="1.2" fill="none"/>
<rect x="685.30" y="492.00" width="24.10" height="27.90" stroke="#1fc31f" stroke-width="1.1" fill="none"/>
<line x1="685.30" y1="509.70" x2="709.40" y2="509.70" stroke="#1fc31f" stroke-width="1.1"/>
<rect x="722.50" y="491.20" width="23.00" height="33.00" stroke="#111" stroke-width="1.1" fill="none"/>
<line x1="722.50" y1="514.40" x2="745.50" y2="514.40" stroke="#111" stroke-width="1.1"/>
<line x1="715.60" y1="559.20" x2="715.60" y2="572.00" stroke="#111" stroke-width="1.0"/>
<text x="680.39" y="571.30" font-size="12" textLength="33.75" lengthAdjust="spacingAndGlyphs">EGFP</text>
<text x="718.12" y="571.30" font-size="12" font-style="italic" textLength="39.57" lengthAdjust="spacingAndGlyphs">Lnc473</text>
<text x="657.00" y="559.53" font-size="12" transform="rotate(-90 657.00 559.53)" textLength="137.17" lengthAdjust="spacingAndGlyphs">Accomodation index (AU)</text>
<text x="698.19" y="428.60" font-size="11.4" textLength="34.49" lengthAdjust="spacingAndGlyphs"><tspan font-style="italic">p</tspan>=0.06</text>
<path d="M35.5,359.2 C45,357.8 51,355.8 55.5,353.6 C57.2,352.7 58.4,351.8 59.1,350.8 L59.9,255.8 L60.4,256.0 L61.8,303.5 L63.5,351.0 C64.0,355.5 64.6,358.5 65.4,360.2 C66.6,363.0 67.8,364.3 69.5,365.0 C71.5,365.9 73,366.4 75.5,366.5 C83,366.3 88,365.6 92.8,365.0 C100,364.0 105,363.0 110,362.0 C117,360.8 124,360.0 131.5,359.5" stroke="#1a1a1a" stroke-width="0.9" fill="none"/>
<line x1="53.20" y1="255.40" x2="79.90" y2="255.40" stroke="#ff1414" stroke-width="1.3"/>
<line x1="15.20" y1="351.40" x2="79.40" y2="351.40" stroke="#ff1414" stroke-width="1.3"/>
<line x1="72.50" y1="259.00" x2="72.50" y2="347.00" stroke="#ff1414" stroke-width="1.2"/>
<path d="M72.50,255.90 L74.75,260.90 L70.25,260.90 Z" fill="#ff1414"/>
<path d="M72.50,350.90 L70.25,345.90 L74.75,345.90 Z" fill="#ff1414"/>
<line x1="49.00" y1="303.50" x2="55.00" y2="303.50" stroke="#ff1414" stroke-width="1.2"/>
<path d="M58.90,303.50 L53.90,305.75 L53.90,301.25 Z" fill="#ff1414"/>
<line x1="66.00" y1="303.50" x2="71.30" y2="303.50" stroke="#ff1414" stroke-width="1.2"/>
<path d="M62.20,303.50 L67.20,301.25 L67.20,305.75 Z" fill="#ff1414"/>
<line x1="63.00" y1="359.20" x2="72.00" y2="359.20" stroke="#ff1414" stroke-width="1.2"/>
<path d="M58.90,359.20 L63.90,356.95 L63.90,361.45 Z" fill="#ff1414"/>
<path d="M75.90,359.20 L70.90,361.45 L70.90,356.95 Z" fill="#ff1414"/>
<line x1="77.00" y1="356.00" x2="77.00" y2="363.00" stroke="#ff1414" stroke-width="1.2"/>
<path d="M77.00,353.00 L79.25,358.00 L74.75,358.00 Z" fill="#ff1414"/>
<path d="M77.00,366.30 L74.75,361.30 L79.25,361.30 Z" fill="#ff1414"/>
<text x="75.57" y="284.70" font-size="12" textLength="53.74" lengthAdjust="spacingAndGlyphs">Amplitude</text>
<text x="24.02" y="302.80" font-size="12" textLength="21.47" lengthAdjust="spacingAndGlyphs">Half</text>
<text x="22.02" y="313.70" font-size="12" textLength="27.42" lengthAdjust="spacingAndGlyphs">width</text>
<text x="3.22" y="349.80" font-size="12" textLength="53.44" lengthAdjust="spacingAndGlyphs">Threshold</text>
<text x="80.28" y="363.50" font-size="12" textLength="24.13" lengthAdjust="spacingAndGlyphs">AHP</text>
<path d="M467.50,515.50 L467.60,434.00 L468.20,520.80 L468.60,522.80 M477.50,511.90 L477.60,430.60 L478.20,521.10 L478.60,523.10 M493.60,508.20 L493.70,430.60 L494.30,520.20 L494.70,522.20 M511.10,509.50 L511.20,430.60 L511.80,520.60 L512.20,522.60 M528.20,510.20 L528.30,430.60 L528.90,519.00 L529.30,521.00 M545.50,508.20 L545.60,430.60 L546.20,519.50 L546.60,521.50 M565.90,509.50 L566.00,437.70 L566.7,529 C567.3,540 568,546 570.0,551.2 C572,554 575,555.1 577,555.6" stroke="#333" stroke-width="0.8" fill="none"/>
<path d="M440.3,553.0 L440.76,552.81 L441.22,552.63 L441.68,553.18 L442.14,552.55 L442.60,553.07 L443.06,552.89 L443.52,552.56 L443.98,553.06 L444.45,552.55 L444.91,552.99 L445.37,552.59 L445.83,552.62 L446.29,553.00 L446.75,553.44 L447.21,552.68 L447.67,552.79 L448.13,553.24 L448.59,553.60 L449.05,553.20 L449.51,553.01 L449.97,553.65 L450.43,552.63 L450.89,553.53 L451.35,552.91 L451.82,552.76 L452.28,552.74 L452.74,552.95 L453.20,553.52 L453.66,552.82 L454.12,553.27 L454.58,553.34 L455.04,553.05 L455.50,553.20 C456.3,545 456.2,534 457.9,527.7 C459.5,523.5 462.5,520 467.0,515.5 M468.60,522.80 L469.07,521.81 L469.53,520.30 L470.00,519.40 L470.47,518.72 L470.93,518.46 L471.40,517.45 L471.87,516.65 L472.33,516.32 L472.80,515.59 L473.27,514.87 L473.73,514.91 L474.20,514.33 L474.67,513.39 L475.13,513.35 L475.60,512.92 L476.07,512.95 L476.53,512.46 L477.00,511.90 M478.60,523.10 L479.05,522.05 L479.51,522.03 L479.96,520.33 L480.41,519.94 L480.87,519.62 L481.32,518.29 L481.77,518.02 L482.23,516.91 L482.68,517.01 L483.13,516.55 L483.58,515.80 L484.04,515.61 L484.49,514.49 L484.94,514.43 L485.40,513.86 L485.85,513.40 L486.30,512.84 L486.76,512.85 L487.21,512.57 L487.66,511.68 L488.12,511.53 L488.57,510.51 L489.02,510.89 L489.47,510.51 L489.93,510.58 L490.38,510.09 L490.83,509.22 L491.29,509.06 L491.74,509.11 L492.19,508.15 L492.65,508.39 L493.10,508.20 M494.70,522.20 L495.15,521.20 L495.61,520.53 L496.06,519.87 L496.52,520.08 L496.97,518.83 L497.43,518.43 L497.88,518.08 L498.33,518.12 L498.79,516.78 L499.24,516.73 L499.70,516.40 L500.15,516.34 L500.61,515.87 L501.06,515.52 L501.51,514.50 L501.97,514.28 L502.42,513.87 L502.88,514.11 L503.33,513.87 L503.79,512.66 L504.24,512.39 L504.69,512.16 L505.15,511.88 L505.60,511.88 L506.06,511.74 L506.51,511.13 L506.97,510.60 L507.42,510.82 L507.87,510.54 L508.33,510.54 L508.78,510.76 L509.24,510.27 L509.69,509.88 L510.15,509.81 L510.60,509.50 M512.20,522.60 L512.66,522.15 L513.11,520.85 L513.57,521.19 L514.02,520.49 L514.48,520.05 L514.94,519.43 L515.39,518.48 L515.85,518.00 L516.30,517.20 L516.76,517.33 L517.21,516.27 L517.67,515.85 L518.13,515.60 L518.58,515.16 L519.04,514.98 L519.49,514.31 L519.95,513.90 L520.41,513.74 L520.86,513.36 L521.32,513.34 L521.77,512.67 L522.23,513.32 L522.69,512.75 L523.14,511.98 L523.60,511.84 L524.05,511.69 L524.51,511.48 L524.96,510.98 L525.42,511.56 L525.88,511.51 L526.33,510.73 L526.79,510.55 L527.24,509.93 L527.70,510.20 M529.30,521.00 L529.76,519.90 L530.22,519.53 L530.69,518.83 L531.15,518.87 L531.61,517.57 L532.07,516.87 L532.53,517.36 L532.99,516.39 L533.46,515.49 L533.92,515.46 L534.38,514.44 L534.84,514.56 L535.30,514.63 L535.76,514.11 L536.23,513.54 L536.69,512.69 L537.15,512.44 L537.61,511.88 L538.07,512.21 L538.54,511.63 L539.00,511.59 L539.46,510.80 L539.92,510.40 L540.38,510.78 L540.84,510.70 L541.31,510.30 L541.77,510.01 L542.23,509.79 L542.69,509.47 L543.15,508.69 L543.61,508.80 L544.08,508.42 L544.54,507.87 L545.00,508.20 M546.60,521.50 L547.06,520.47 L547.52,520.24 L547.98,519.74 L548.43,519.75 L548.89,519.58 L549.35,518.58 L549.81,518.70 L550.27,518.34 L550.73,517.91 L551.19,516.87 L551.64,516.34 L552.10,515.98 L552.56,515.59 L553.02,515.26 L553.48,515.39 L553.94,515.38 L554.40,515.00 L554.85,514.30 L555.31,514.20 L555.77,514.08 L556.23,513.02 L556.69,513.39 L557.15,513.41 L557.60,513.02 L558.06,512.75 L558.52,512.21 L558.98,511.66 L559.44,512.11 L559.90,511.40 L560.36,511.71 L560.81,511.70 L561.27,510.87 L561.73,510.69 L562.19,511.11 L562.65,510.69 L563.11,509.91 L563.57,509.70 L564.02,509.56 L564.48,510.24 L564.94,509.98 L565.40,509.50 M577,555.6 L577.46,555.31 L577.91,556.06 L578.37,556.28 L578.82,556.02 L579.28,555.78 L579.73,556.05 L580.19,555.70 L580.64,555.65 L581.10,556.67 L581.56,556.42 L582.01,556.36 L582.47,556.83 L582.92,556.40 L583.38,556.91 L583.83,556.93 L584.29,556.38 L584.74,556.49 L585.20,556.59 L585.66,556.61 L586.11,557.02 L586.57,556.76 L587.02,556.99 L587.48,556.76 L587.93,557.61 L588.39,557.12 L588.84,557.29 L589.30,557.48 L589.76,557.87 L590.21,557.45 L590.67,558.02 L591.12,557.67 L591.58,557.77 L592.03,557.82 L592.49,557.39 L592.94,557.87 L593.40,558.00" stroke="#111" stroke-width="1.25" fill="none" stroke-linejoin="round"/>
<line x1="470.00" y1="430.20" x2="475.20" y2="430.20" stroke="#ff1414" stroke-width="1.0"/>
<path d="M467.40,430.20 L470.20,428.52 L470.20,431.88 Z" fill="#ff1414"/>
<path d="M477.80,430.20 L475.00,431.88 L475.00,428.52 Z" fill="#ff1414"/>
<line x1="548.50" y1="430.20" x2="563.50" y2="430.20" stroke="#ff1414" stroke-width="1.0"/>
<path d="M545.90,430.20 L548.70,428.52 L548.70,431.88 Z" fill="#ff1414"/>
<path d="M566.10,430.20 L563.30,431.88 L563.30,428.52 Z" fill="#ff1414"/>
<text x="467.75" y="427.10" font-size="12" textLength="8.76" lengthAdjust="spacingAndGlyphs">t1</text>
<text x="551.53" y="427.10" font-size="12" textLength="9.66" lengthAdjust="spacingAndGlyphs">t2</text>
<text x="482.67" y="545.40" font-size="12" textLength="59.68" lengthAdjust="spacingAndGlyphs">min. 6 APs</text>
<text x="443.47" y="571.50" font-size="12" textLength="148.10" lengthAdjust="spacingAndGlyphs">Accomodation index = t2/t1</text>
</svg></body></html>
